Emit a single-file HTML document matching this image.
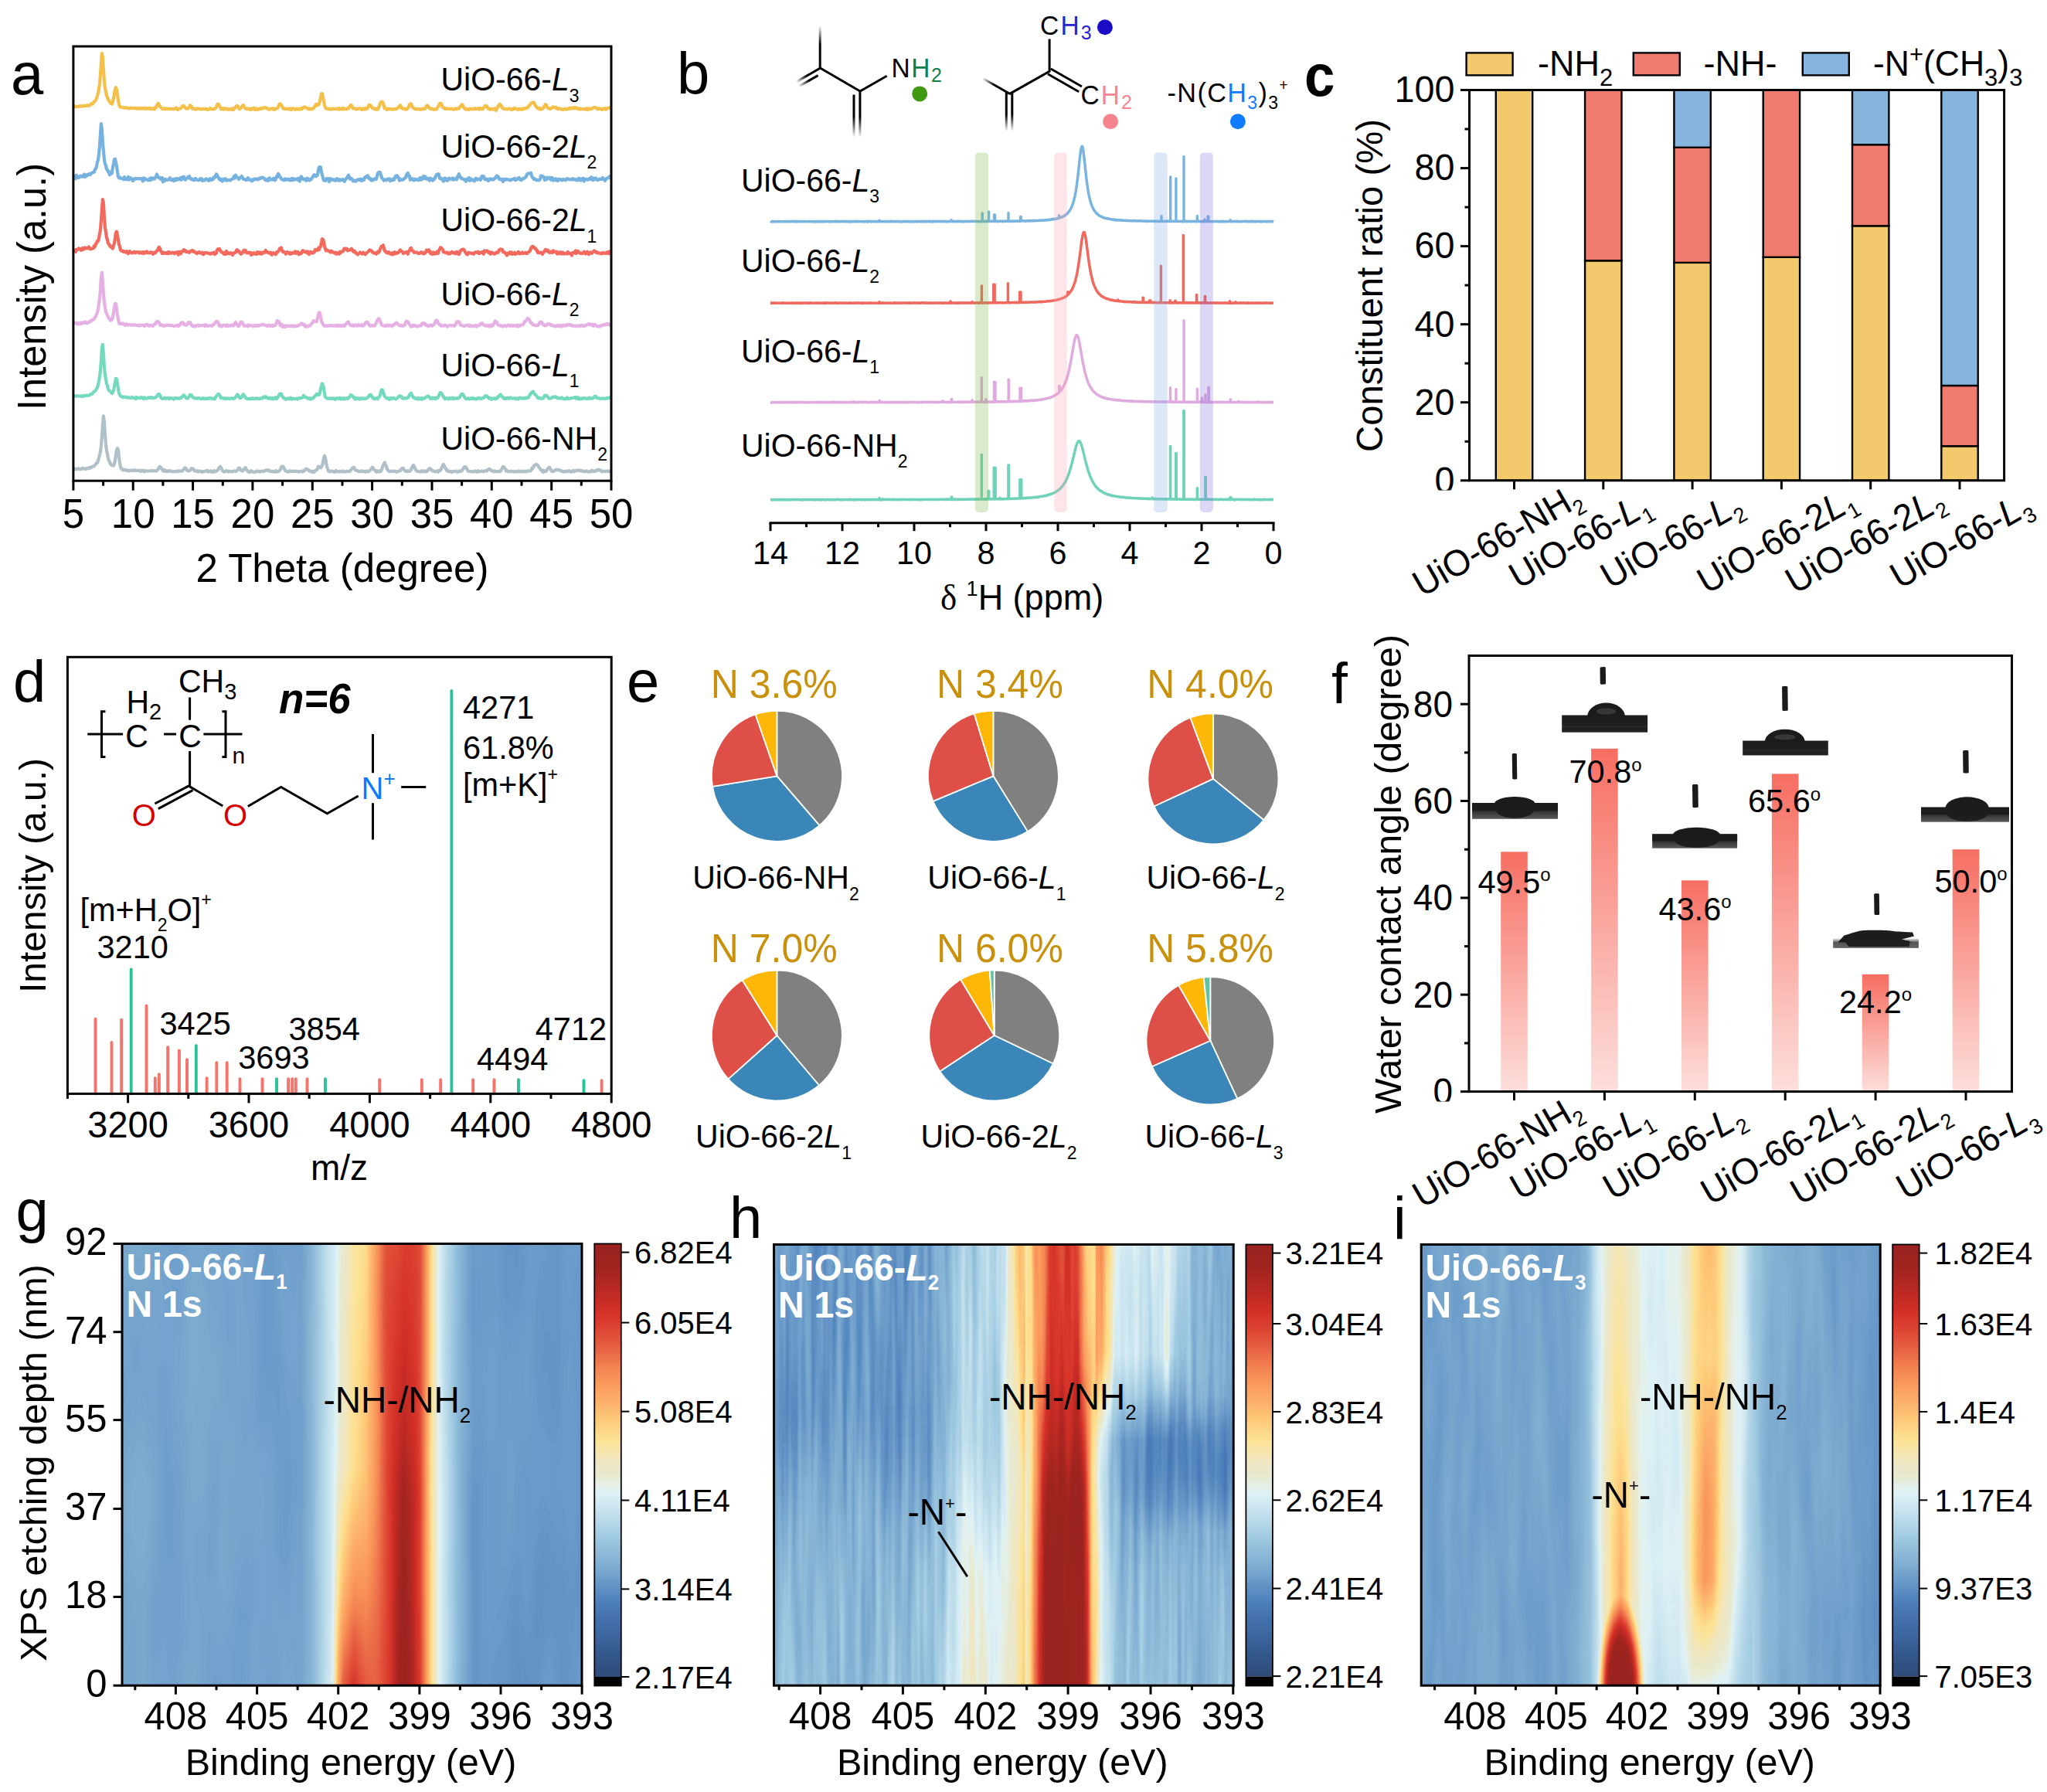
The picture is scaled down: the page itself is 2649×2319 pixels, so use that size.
<!DOCTYPE html>
<html><head><meta charset="utf-8"><title>Figure</title>
<style>html,body{margin:0;padding:0;background:#fff}svg{display:block}text{font-family:"Liberation Sans",sans-serif}</style>
</head><body>
<svg width="2649" height="2319" viewBox="0 0 2649 2319" font-family="Liberation Sans, sans-serif">
<rect width="2649" height="2319" fill="#fff"/>
<!-- panel_a -->
<clipPath id="clipA"><rect x="94.9" y="60" width="696.1" height="562.2"/></clipPath>
<g clip-path="url(#clipA)">
<path d="M92.9,137.6 93.9,137.3 94.9,137.7 95.9,138 96.9,137.2 97.9,138.3 98.9,138.2 99.9,138 100.9,138.2 101.9,137.4 102.9,137.6 103.9,137.2 104.9,137.5 105.9,137.8 106.9,137.2 107.9,137.2 108.9,137 109.9,136.8 110.9,136.7 111.9,136.9 112.9,136.1 113.9,136.6 114.9,137 115.9,136.2 116.9,135.3 117.9,134.5 118.9,134 119.9,134.5 120.9,132.9 121.9,131.5 122.9,130.6 123.9,129.9 124.9,126.9 125.9,124.5 126.9,120.9 127.9,115.7 128.9,108.3 129.9,97.9 130.9,82.5 131.9,69.2 132.9,74 133.9,90.5 134.9,103.7 135.9,112.9 136.9,118.1 137.9,123.3 138.9,126.1 139.9,128.1 140.9,130.3 141.9,131.6 142.9,133.3 143.9,134.3 144.9,134.7 145.9,131.5 146.9,127.5 147.9,121.7 148.9,115.6 149.9,113.1 150.9,115.6 151.9,121.3 152.9,129.4 153.9,135 154.9,137.3 155.9,138.7 156.9,138.6 157.9,138.8 158.9,139.1 159.9,139.3 160.9,139.3 161.9,139.4 162.9,139.1 163.9,139.7 164.9,139.6 165.9,140.2 166.9,140.3 167.9,139.9 168.9,139.6 169.9,139.6 170.9,140.1 171.9,140 172.9,139.8 173.9,140.1 174.9,139.8 175.9,140.5 176.9,139.9 177.9,140.8 178.9,140.4 179.9,140.5 180.9,139.7 181.9,140.4 182.9,140.7 183.9,139.9 184.9,140.2 185.9,140.4 186.9,139.7 187.9,140.6 188.9,140.9 189.9,140 190.9,140.6 191.9,139.8 192.9,140.5 193.9,139.7 194.9,141.1 195.9,140.7 196.9,140.5 197.9,140.2 198.9,141.2 199.9,141.4 200.9,138.9 201.9,139.3 202.9,137.6 203.9,135.1 204.9,133.8 205.9,135.9 206.9,137.4 207.9,138.9 208.9,139.6 209.9,140.8 210.9,141.1 211.9,140.4 212.9,141 213.9,140.2 214.9,141.1 215.9,140.8 216.9,140.6 217.9,140.7 218.9,141.2 219.9,141.1 220.9,141 221.9,140.8 222.9,140.8 223.9,141.1 224.9,140.9 225.9,141.1 226.9,140.6 227.9,139.6 228.9,141.3 229.9,141.9 230.9,141 231.9,140.7 232.9,140.5 233.9,140 234.9,139.2 235.9,137.5 236.9,137 237.9,137 238.9,138.6 239.9,139.4 240.9,140.6 241.9,140.4 242.9,140.7 243.9,139.5 244.9,139.3 245.9,136.3 246.9,136.8 247.9,138.4 248.9,140.5 249.9,140 250.9,140.7 251.9,140.7 252.9,141.5 253.9,140.7 254.9,141.2 255.9,140.7 256.9,140.3 257.9,141 258.9,141.1 259.9,141.5 260.9,140.8 261.9,140.6 262.9,141.2 263.9,141 264.9,141 265.9,140.9 266.9,141.5 267.9,141.1 268.9,141.9 269.9,141.5 270.9,141.2 271.9,140.1 272.9,141.2 273.9,141.1 274.9,141.3 275.9,141.4 276.9,140.6 277.9,140.9 278.9,139.4 279.9,139.1 280.9,135.7 281.9,134.5 282.9,135.1 283.9,137.1 284.9,138.6 285.9,141.2 286.9,140.6 287.9,140.2 288.9,141.5 289.9,140.6 290.9,140.3 291.9,141.4 292.9,141.3 293.9,140.7 294.9,141.6 295.9,141 296.9,141.7 297.9,141.2 298.9,141.7 299.9,141 300.9,140.3 301.9,142.1 302.9,140.5 303.9,140.2 304.9,138.7 305.9,137.4 306.9,136.9 307.9,137.8 308.9,139.6 309.9,141.2 310.9,140.5 311.9,139.4 312.9,138 313.9,136.8 314.9,136 315.9,138.5 316.9,139.4 317.9,140.4 318.9,140.9 319.9,140.3 320.9,140.5 321.9,141.3 322.9,141.3 323.9,140.7 324.9,141.9 325.9,140.3 326.9,140.8 327.9,140.9 328.9,139.6 329.9,141.9 330.9,141.1 331.9,140.4 332.9,142 333.9,141.3 334.9,141.2 335.9,140.6 336.9,140.9 337.9,139.9 338.9,140.7 339.9,139.7 340.9,139.5 341.9,139.7 342.9,139.2 343.9,139.5 344.9,140 345.9,140 346.9,141.1 347.9,141.6 348.9,141.3 349.9,141.4 350.9,140.5 351.9,140.5 352.9,140.3 353.9,141.6 354.9,140.8 355.9,141.7 356.9,140.5 357.9,140.4 358.9,140 359.9,138.9 360.9,136.3 361.9,134.6 362.9,134.3 363.9,135.9 364.9,137.4 365.9,139.7 366.9,140.5 367.9,140.8 368.9,141.2 369.9,140.6 370.9,140.9 371.9,140.8 372.9,141.2 373.9,141.4 374.9,140.5 375.9,141.3 376.9,142 377.9,140.3 378.9,140.6 379.9,140.5 380.9,140.8 381.9,141.8 382.9,141 383.9,140.6 384.9,141.3 385.9,140.7 386.9,141.5 387.9,141 388.9,141.3 389.9,139.9 390.9,141.1 391.9,139.4 392.9,138.9 393.9,138.5 394.9,138.6 395.9,139.1 396.9,140.1 397.9,140.2 398.9,141 399.9,140.5 400.9,141.3 401.9,141.4 402.9,140.6 403.9,141.3 404.9,140.2 405.9,140 406.9,138.3 407.9,137.2 408.9,134.9 409.9,135 410.9,136.2 411.9,135.7 412.9,134.3 413.9,131.2 414.9,125.8 415.9,121.4 416.9,121.2 417.9,125.4 418.9,130.2 419.9,135.8 420.9,138.8 421.9,140.3 422.9,140.7 423.9,140.9 424.9,141.2 425.9,140.4 426.9,141.5 427.9,141.4 428.9,140.9 429.9,141.4 430.9,140.6 431.9,140.7 432.9,141.1 433.9,140.9 434.9,140.8 435.9,140.7 436.9,140.7 437.9,141.5 438.9,140 439.9,141.2 440.9,140.9 441.9,141.3 442.9,141.2 443.9,139.6 444.9,141.3 445.9,141.1 446.9,141 447.9,140.7 448.9,141.3 449.9,140.3 450.9,140.5 451.9,138.4 452.9,137.8 453.9,135.9 454.9,136.2 455.9,138.9 456.9,140.3 457.9,140.6 458.9,140.1 459.9,140.7 460.9,141.3 461.9,140.9 462.9,140.9 463.9,140.9 464.9,140.5 465.9,140.7 466.9,140.3 467.9,141.9 468.9,140.8 469.9,141.2 470.9,140.5 471.9,141.4 472.9,140 473.9,141.2 474.9,140.2 475.9,140.1 476.9,136.7 477.9,135.9 478.9,135.9 479.9,137.5 480.9,138.4 481.9,140 482.9,139.6 483.9,140.5 484.9,141.2 485.9,141.5 486.9,140.8 487.9,141.9 488.9,141.5 489.9,139.7 490.9,136.8 491.9,134.3 492.9,132 493.9,131.6 494.9,132.1 495.9,133.6 496.9,137.4 497.9,140.3 498.9,140.3 499.9,140.5 500.9,142 501.9,141 502.9,140.8 503.9,141.2 504.9,141 505.9,140.8 506.9,141.6 507.9,141.5 508.9,141.4 509.9,140.9 510.9,141.5 511.9,140.9 512.9,140.9 513.9,140.7 514.9,139.5 515.9,138.6 516.9,137.1 517.9,136.3 518.9,137.7 519.9,140.2 520.9,140.3 521.9,141 522.9,140.5 523.9,141.5 524.9,140.8 525.9,141.6 526.9,140.2 527.9,140 528.9,138 529.9,135.1 530.9,134.7 531.9,134.2 532.9,136.2 533.9,139.1 534.9,139.8 535.9,140.4 536.9,140.8 537.9,140.5 538.9,141.5 539.9,141.3 540.9,141 541.9,140.9 542.9,141.2 543.9,141.9 544.9,141.4 545.9,140.7 546.9,141.4 547.9,140.8 548.9,140.5 549.9,140.9 550.9,138.7 551.9,137.6 552.9,136.5 553.9,137.3 554.9,139.4 555.9,139.8 556.9,140.9 557.9,140.4 558.9,140.6 559.9,141.3 560.9,141.7 561.9,141.3 562.9,141.6 563.9,141.7 564.9,141.1 565.9,139.4 566.9,138.3 567.9,136.5 568.9,134.1 569.9,133.8 570.9,133.8 571.9,136.3 572.9,139 573.9,139 574.9,140.1 575.9,140.9 576.9,140.1 577.9,141 578.9,140.6 579.9,140.9 580.9,140.9 581.9,141.1 582.9,140.7 583.9,141 584.9,140.7 585.9,141.3 586.9,141.8 587.9,141.1 588.9,141.1 589.9,140.4 590.9,141.3 591.9,140.5 592.9,140.2 593.9,140.3 594.9,138.9 595.9,137.7 596.9,136.4 597.9,135.1 598.9,136.4 599.9,138.9 600.9,140 601.9,140.8 602.9,141.5 603.9,140.7 604.9,141.3 605.9,141.7 606.9,141.8 607.9,140.6 608.9,140.9 609.9,141.2 610.9,140.9 611.9,140.8 612.9,141.3 613.9,140.8 614.9,140.1 615.9,141.2 616.9,140.8 617.9,140.6 618.9,140.2 619.9,141.5 620.9,139.9 621.9,140.1 622.9,140.8 623.9,141.4 624.9,141.1 625.9,139.1 626.9,138.4 627.9,136.8 628.9,137.8 629.9,137.4 630.9,139.2 631.9,140.8 632.9,140.6 633.9,141.7 634.9,140.6 635.9,141.2 636.9,141.4 637.9,140.9 638.9,141.7 639.9,141.3 640.9,140.1 641.9,142.8 642.9,140.7 643.9,139.4 644.9,137.1 645.9,136.1 646.9,134.8 647.9,135.7 648.9,137.1 649.9,139.6 650.9,140 651.9,140.9 652.9,141.1 653.9,140.9 654.9,140.9 655.9,141.5 656.9,141.4 657.9,140.7 658.9,140.4 659.9,141 660.9,141.6 661.9,141 662.9,141.9 663.9,140.6 664.9,141.1 665.9,139.8 666.9,140.7 667.9,140.8 668.9,141.2 669.9,141.8 670.9,141 671.9,141.7 672.9,141.3 673.9,141.5 674.9,140.8 675.9,141.7 676.9,140.4 677.9,141.2 678.9,140.4 679.9,140.5 680.9,139.7 681.9,139.7 682.9,139.3 683.9,138 684.9,136 685.9,135.9 686.9,133.9 687.9,133.2 688.9,132.7 689.9,132.4 690.9,132.7 691.9,134.7 692.9,137.3 693.9,137.5 694.9,139.6 695.9,139.6 696.9,140.6 697.9,139.8 698.9,141.5 699.9,140.9 700.9,141.3 701.9,140.6 702.9,140 703.9,138.1 704.9,136.9 705.9,135.1 706.9,135.9 707.9,138.4 708.9,139.5 709.9,140.3 710.9,140.7 711.9,140.9 712.9,140 713.9,140 714.9,138.6 715.9,138.3 716.9,138.8 717.9,139.1 718.9,138.7 719.9,140.3 720.9,139.9 721.9,141.1 722.9,140 723.9,140.4 724.9,140.7 725.9,140.9 726.9,141.7 727.9,141.4 728.9,141.8 729.9,141.6 730.9,140.9 731.9,140.9 732.9,141.5 733.9,141 734.9,140.9 735.9,140.3 736.9,140.9 737.9,139.5 738.9,140.4 739.9,139.9 740.9,140.3 741.9,139.3 742.9,139.2 743.9,140.2 744.9,139.3 745.9,140.4 746.9,139.7 747.9,140.9 748.9,141.1 749.9,141.4 750.9,140.5 751.9,141.2 752.9,141.2 753.9,141 754.9,141.1 755.9,141.2 756.9,141.2 757.9,140.5 758.9,140.4 759.9,142.2 760.9,141.9 761.9,140.3 762.9,141.2 763.9,141.2 764.9,141.1 765.9,140.5 766.9,139.5 767.9,139.4 768.9,139 769.9,139.3 770.9,139.4 771.9,139.9 772.9,140.9 773.9,141.3 774.9,140.3 775.9,140.7 776.9,140.6 777.9,141.6 778.9,141 779.9,141.7 780.9,140.8 781.9,141 782.9,140.3 783.9,141.6 784.9,140.7 785.9,140 786.9,140.3 787.9,139.1 788.9,139.8 789.9,139.5 790.9,139.2 791.9,139.5 792.9,138.6" fill="none" stroke="#f5c04a" stroke-width="4.2" stroke-linejoin="round" />
<path d="M92.9,228.5 93.9,227.9 94.9,227.7 95.9,228.9 96.9,228.8 97.9,231.2 98.9,226.6 99.9,229 100.9,229.2 101.9,230 102.9,229.1 103.9,227.6 104.9,228.2 105.9,228.6 106.9,227.6 107.9,228.4 108.9,225.6 109.9,228.9 110.9,228.4 111.9,226.4 112.9,227.1 113.9,226.2 114.9,225.1 115.9,225.6 116.9,226.1 117.9,224.3 118.9,223.7 119.9,223.3 120.9,222.9 121.9,222.6 122.9,219.2 123.9,218.4 124.9,215.6 125.9,210.2 126.9,206.8 127.9,200.1 128.9,189.5 129.9,174.6 130.9,160 131.9,168.2 132.9,183.5 133.9,195.5 134.9,205.8 135.9,211.7 136.9,214.3 137.9,218.8 138.9,219.8 139.9,222.1 140.9,222.3 141.9,226.1 142.9,222.6 143.9,225 144.9,224 145.9,217 146.9,212.4 147.9,206.6 148.9,205.7 149.9,209.8 150.9,215.2 151.9,221.1 152.9,228.2 153.9,230.3 154.9,229.5 155.9,230.6 156.9,230.8 157.9,231.1 158.9,230.9 159.9,232.2 160.9,229.1 161.9,232 162.9,231.4 163.9,230.9 164.9,232.3 165.9,228.9 166.9,232.4 167.9,231.7 168.9,230.3 169.9,231.9 170.9,231.2 171.9,234.1 172.9,233.4 173.9,232 174.9,230.9 175.9,231.1 176.9,231.4 177.9,231.2 178.9,230.9 179.9,231.2 180.9,231.5 181.9,231.3 182.9,231.2 183.9,230.9 184.9,234.4 185.9,230.4 186.9,230.9 187.9,232.4 188.9,231.6 189.9,232.4 190.9,232.8 191.9,233.3 192.9,232.8 193.9,231 194.9,233.1 195.9,230.3 196.9,231.9 197.9,231.5 198.9,230.7 199.9,231.6 200.9,229.5 201.9,229 202.9,225.5 203.9,228.1 204.9,229.2 205.9,230.4 206.9,230 207.9,231.7 208.9,230.6 209.9,230.1 210.9,235.5 211.9,233.2 212.9,234 213.9,231.8 214.9,232.9 215.9,232.9 216.9,232.8 217.9,232.3 218.9,232 219.9,230.2 220.9,232.9 221.9,232.7 222.9,233.4 223.9,232 224.9,234 225.9,231.9 226.9,231.1 227.9,233.2 228.9,231.8 229.9,231 230.9,232.3 231.9,232.5 232.9,231.1 233.9,230.1 234.9,232.7 235.9,229.3 236.9,230.9 237.9,228.7 238.9,231.9 239.9,232.7 240.9,231.5 241.9,230.3 242.9,230.4 243.9,228.6 244.9,228 245.9,230.4 246.9,231.8 247.9,231.8 248.9,231.6 249.9,232.8 250.9,233.2 251.9,233 252.9,230.9 253.9,232.1 254.9,232.7 255.9,233 256.9,233.3 257.9,233.1 258.9,231.3 259.9,231.7 260.9,231.2 261.9,234.2 262.9,232.6 263.9,233 264.9,233.4 265.9,232.1 266.9,231.3 267.9,232 268.9,232.3 269.9,233.9 270.9,233.3 271.9,231.3 272.9,233.1 273.9,233.1 274.9,231.3 275.9,231.9 276.9,229.3 277.9,229.9 278.9,227.5 279.9,225.4 280.9,226.5 281.9,229.1 282.9,230.1 283.9,232 284.9,232.8 285.9,231.6 286.9,232.1 287.9,234.6 288.9,232.6 289.9,231.6 290.9,232.5 291.9,231.1 292.9,233.6 293.9,232.8 294.9,233.5 295.9,233.3 296.9,232.8 297.9,233.4 298.9,232.6 299.9,231.8 300.9,231.2 301.9,231.2 302.9,227.8 303.9,230.6 304.9,226.6 305.9,229.3 306.9,229.6 307.9,229.9 308.9,231.9 309.9,231 310.9,229.7 311.9,229.1 312.9,228 313.9,230.3 314.9,231.9 315.9,231.8 316.9,232.1 317.9,233 318.9,232.5 319.9,232.6 320.9,230.1 321.9,232.5 322.9,232.8 323.9,232.3 324.9,232.8 325.9,234.4 326.9,232.5 327.9,233.1 328.9,231.6 329.9,231.6 330.9,232 331.9,231.5 332.9,232.4 333.9,231.5 334.9,232.1 335.9,230.6 336.9,230 337.9,230.5 338.9,229.7 339.9,229.8 340.9,230 341.9,230.7 342.9,232.6 343.9,233.3 344.9,233 345.9,232 346.9,233.9 347.9,231 348.9,230.5 349.9,232.7 350.9,232.5 351.9,232.3 352.9,232.5 353.9,230.8 354.9,231.2 355.9,233.2 356.9,231.9 357.9,228.4 358.9,229 359.9,224.9 360.9,226 361.9,228.8 362.9,229.3 363.9,231.2 364.9,232.1 365.9,232 366.9,233.3 367.9,233.1 368.9,231.4 369.9,231.8 370.9,232.7 371.9,232.4 372.9,231.7 373.9,232.9 374.9,233.3 375.9,231.9 376.9,233.3 377.9,230.9 378.9,230.9 379.9,233 380.9,231.7 381.9,231.5 382.9,232.2 383.9,231.8 384.9,232.7 385.9,230.8 386.9,231.6 387.9,234.6 388.9,230.9 389.9,228.4 390.9,230.8 391.9,231 392.9,232.3 393.9,231.7 394.9,231.4 395.9,233.7 396.9,233.1 397.9,230.7 398.9,233.2 399.9,232.2 400.9,233.4 401.9,231.6 402.9,232 403.9,230.2 404.9,229 405.9,227.1 406.9,226.1 407.9,226.8 408.9,228.1 409.9,227.6 410.9,226.4 411.9,220.8 412.9,216.4 413.9,216 414.9,216.3 415.9,221.9 416.9,226 417.9,230.1 418.9,233.3 419.9,232.6 420.9,233.9 421.9,231.4 422.9,231.1 423.9,232.8 424.9,231.1 425.9,235.1 426.9,233.7 427.9,231.3 428.9,232.3 429.9,231.9 430.9,232.9 431.9,232.4 432.9,233.4 433.9,233.9 434.9,232.3 435.9,231.3 436.9,233 437.9,232.3 438.9,233.6 439.9,232.3 440.9,233.3 441.9,232.8 442.9,232.3 443.9,232 444.9,233.2 445.9,234.8 446.9,232.8 447.9,231 448.9,230.5 449.9,228.6 450.9,226.7 451.9,229.1 452.9,231.7 453.9,231.1 454.9,231 455.9,232.9 456.9,234.3 457.9,233.4 458.9,233.5 459.9,234.8 460.9,234.1 461.9,233.2 462.9,232.3 463.9,232.6 464.9,232.4 465.9,233.3 466.9,231.6 467.9,234 468.9,232.6 469.9,232 470.9,233 471.9,229.6 472.9,229.7 473.9,228.3 474.9,228.6 475.9,227.3 476.9,230.4 477.9,230.1 478.9,232.2 479.9,231.5 480.9,233.6 481.9,232.2 482.9,233 483.9,232 484.9,231.3 485.9,231.7 486.9,232 487.9,227.8 488.9,224.4 489.9,223 490.9,223.3 491.9,223 492.9,226.3 493.9,229.8 494.9,231 495.9,232.4 496.9,233.6 497.9,232.5 498.9,232.4 499.9,233.3 500.9,232.4 501.9,231.5 502.9,231.5 503.9,231.4 504.9,234.4 505.9,232.4 506.9,233.1 507.9,233.2 508.9,231.4 509.9,232.7 510.9,230.7 511.9,228 512.9,228.6 513.9,227.3 514.9,228.7 515.9,230.7 516.9,233.7 517.9,231.6 518.9,232.2 519.9,232.8 520.9,232.7 521.9,232.3 522.9,231.1 523.9,230.6 524.9,229.9 525.9,226.7 526.9,225.1 527.9,224.1 528.9,227.8 529.9,227.5 530.9,232.8 531.9,231.4 532.9,231.3 533.9,231.3 534.9,233.3 535.9,233.5 536.9,231.7 537.9,232.8 538.9,232.3 539.9,232.3 540.9,232.6 541.9,233.2 542.9,230.6 543.9,230.2 544.9,232.5 545.9,231.7 546.9,231.6 547.9,228.1 548.9,228.2 549.9,230.9 550.9,229 551.9,231.7 552.9,231.3 553.9,232 554.9,231.1 555.9,233.7 556.9,230.6 557.9,231.3 558.9,231.6 559.9,233.6 560.9,232.5 561.9,232.2 562.9,230.1 563.9,228.1 564.9,226 565.9,225.8 566.9,225.1 567.9,225.5 568.9,230.5 569.9,231.2 570.9,230.9 571.9,232.2 572.9,231.5 573.9,234.6 574.9,232.2 575.9,230.5 576.9,232.8 577.9,231.7 578.9,233.8 579.9,232.6 580.9,230.7 581.9,232 582.9,231.4 583.9,231.7 584.9,231.9 585.9,230.5 586.9,232.7 587.9,231.6 588.9,231.3 589.9,232.4 590.9,232.4 591.9,228.4 592.9,229.4 593.9,225.1 594.9,228.5 595.9,228.9 596.9,230.8 597.9,230.9 598.9,231.7 599.9,232.1 600.9,232.1 601.9,232.9 602.9,234.8 603.9,231.9 604.9,232.3 605.9,230.8 606.9,230 607.9,233.9 608.9,231.2 609.9,231.8 610.9,232.5 611.9,233.4 612.9,232.8 613.9,234.3 614.9,232.3 615.9,230.7 616.9,232.6 617.9,232.6 618.9,231.6 619.9,232 620.9,231.4 621.9,233 622.9,229.6 623.9,227.9 624.9,229.4 625.9,228.1 626.9,231.4 627.9,232.3 628.9,231.5 629.9,231.9 630.9,231.9 631.9,234.1 632.9,232.9 633.9,231.3 634.9,231.3 635.9,232.4 636.9,232.4 637.9,231.5 638.9,232.2 639.9,230.8 640.9,230.7 641.9,228.7 642.9,227.5 643.9,228.3 644.9,228.6 645.9,231.7 646.9,232.2 647.9,231.8 648.9,232.5 649.9,232 650.9,235 651.9,232 652.9,233 653.9,232.9 654.9,231.7 655.9,232.5 656.9,232.2 657.9,232.7 658.9,232.7 659.9,233.3 660.9,233.3 661.9,232.1 662.9,232 663.9,231.9 664.9,231.6 665.9,230.8 666.9,233.1 667.9,232.4 668.9,232.3 669.9,230.9 670.9,231 671.9,230 672.9,232.4 673.9,233.1 674.9,232.9 675.9,232.1 676.9,230.7 677.9,231.2 678.9,230.3 679.9,229.7 680.9,228.3 681.9,225.8 682.9,224.7 683.9,224.7 684.9,224.4 685.9,224.4 686.9,223.7 687.9,226.6 688.9,229.6 689.9,230.2 690.9,232 691.9,231.4 692.9,232.2 693.9,233.1 694.9,233.1 695.9,232.8 696.9,233.3 697.9,233.1 698.9,232.1 699.9,227.6 700.9,227.7 701.9,227.9 702.9,228.9 703.9,229.1 704.9,233 705.9,231.2 706.9,232.4 707.9,229.7 708.9,231.2 709.9,230.8 710.9,229.6 711.9,231 712.9,232.7 713.9,229.9 714.9,230.5 715.9,233.6 716.9,232.8 717.9,232.1 718.9,231.2 719.9,233.2 720.9,232.7 721.9,234 722.9,231.6 723.9,232.3 724.9,232.2 725.9,232.3 726.9,233.5 727.9,233.3 728.9,231.9 729.9,232.4 730.9,232.3 731.9,233.3 732.9,232.2 733.9,231.1 734.9,231.6 735.9,231.6 736.9,232.2 737.9,232.3 738.9,232.3 739.9,231.7 740.9,231.2 741.9,232.6 742.9,232.1 743.9,231.8 744.9,232.8 745.9,232.9 746.9,233.4 747.9,231.6 748.9,230.8 749.9,233 750.9,231.5 751.9,233.5 752.9,231.4 753.9,231.9 754.9,230.7 755.9,234.5 756.9,232 757.9,232.4 758.9,231.9 759.9,232 760.9,232.7 761.9,231.6 762.9,231 763.9,231.9 764.9,229.3 765.9,232.1 766.9,233 767.9,230.5 768.9,232.5 769.9,231.1 770.9,230.4 771.9,231.6 772.9,233 773.9,233.2 774.9,232.1 775.9,231.6 776.9,232 777.9,231.8 778.9,231.8 779.9,230 780.9,232 781.9,231.9 782.9,233.9 783.9,232 784.9,230.8 785.9,230.6 786.9,230.6 787.9,229.5 788.9,228.2 789.9,229.5 790.9,229.9 791.9,229.9 792.9,228.6" fill="none" stroke="#76b2e0" stroke-width="4.2" stroke-linejoin="round" />
<path d="M92.9,324.7 93.9,324 94.9,323.5 95.9,324 96.9,324.8 97.9,325.9 98.9,322.9 99.9,323.3 100.9,323 101.9,321.4 102.9,322.5 103.9,322.2 104.9,323.9 105.9,322.6 106.9,321 107.9,322.8 108.9,321.8 109.9,320.4 110.9,321.3 111.9,321.2 112.9,320.9 113.9,321.6 114.9,319.5 115.9,321.2 116.9,322.3 117.9,321.9 118.9,321.9 119.9,321.5 120.9,321.3 121.9,318.2 122.9,319.1 123.9,315.5 124.9,315.1 125.9,311.9 126.9,312 127.9,308.9 128.9,302.8 129.9,297.6 130.9,284.8 131.9,270.4 132.9,258.1 133.9,262.8 134.9,280 135.9,294 136.9,299.7 137.9,307 138.9,310 139.9,314.7 140.9,315.8 141.9,317.7 142.9,319.1 143.9,319.9 144.9,319.1 145.9,321.6 146.9,317.5 147.9,314.9 148.9,308.9 149.9,301.3 150.9,299.7 151.9,303.8 152.9,309.6 153.9,315.9 154.9,318.9 155.9,323.1 156.9,324.4 157.9,324.8 158.9,324.6 159.9,325.9 160.9,325.2 161.9,325.7 162.9,326.5 163.9,325.2 164.9,325.8 165.9,328.1 166.9,327 167.9,325.1 168.9,326.2 169.9,326.9 170.9,327.5 171.9,326.6 172.9,326 173.9,325.9 174.9,327.2 175.9,326.9 176.9,326.2 177.9,326.5 178.9,326.3 179.9,327.4 180.9,326.1 181.9,327.2 182.9,327.6 183.9,327.3 184.9,326.1 185.9,328.1 186.9,326.3 187.9,327.3 188.9,326.3 189.9,325.4 190.9,327.2 191.9,327.2 192.9,326.9 193.9,327.3 194.9,326.4 195.9,326.4 196.9,326.9 197.9,328.8 198.9,327.8 199.9,326.6 200.9,327.4 201.9,325.9 202.9,324.7 203.9,324.1 204.9,321.2 205.9,319.7 206.9,321.6 207.9,324.4 208.9,326 209.9,327.9 210.9,326.4 211.9,327.8 212.9,327.6 213.9,327.1 214.9,328 215.9,327.7 216.9,326.5 217.9,328.2 218.9,326.2 219.9,327.3 220.9,327.3 221.9,327.7 222.9,326.6 223.9,327.2 224.9,327.2 225.9,328.2 226.9,326.6 227.9,327.4 228.9,327.1 229.9,326.1 230.9,329.7 231.9,327.2 232.9,325.9 233.9,328.3 234.9,325.6 235.9,325.9 236.9,325.2 237.9,323.1 238.9,323.6 239.9,324.5 240.9,326 241.9,325.4 242.9,325.9 243.9,326.6 244.9,326.8 245.9,325.2 246.9,325.2 247.9,324.3 248.9,324.1 249.9,325.7 250.9,324.9 251.9,326.3 252.9,326.4 253.9,327.6 254.9,328 255.9,326.9 256.9,326.9 257.9,326 258.9,327.3 259.9,327.6 260.9,327.8 261.9,326.7 262.9,329.2 263.9,328.5 264.9,327.3 265.9,326.9 266.9,327.1 267.9,327.5 268.9,327.4 269.9,327.9 270.9,328.1 271.9,328.6 272.9,328.5 273.9,327.3 274.9,327.8 275.9,327.1 276.9,326.9 277.9,329 278.9,326.5 279.9,327.7 280.9,323.8 281.9,322.4 282.9,322.2 283.9,321.9 284.9,324.1 285.9,325.4 286.9,326.3 287.9,327.1 288.9,326.8 289.9,328.9 290.9,327.3 291.9,329 292.9,325 293.9,327.5 294.9,328 295.9,327.2 296.9,328.4 297.9,328 298.9,327.2 299.9,327.8 300.9,330 301.9,327.7 302.9,327.7 303.9,326.8 304.9,326.7 305.9,324 306.9,323.3 307.9,325 308.9,324.9 309.9,326.2 310.9,327.8 311.9,328.8 312.9,327 313.9,327 314.9,324.7 315.9,323.8 316.9,326.4 317.9,324.2 318.9,326.6 319.9,327.6 320.9,326.6 321.9,327.3 322.9,326.9 323.9,326.9 324.9,329.9 325.9,328 326.9,327.4 327.9,328.6 328.9,327.3 329.9,328.3 330.9,327.8 331.9,328.9 332.9,326.2 333.9,328.2 334.9,327.6 335.9,326.4 336.9,328.4 337.9,326.6 338.9,328.6 339.9,327.3 340.9,327.1 341.9,326 342.9,326.5 343.9,324 344.9,326.1 345.9,325.9 346.9,327.2 347.9,327.2 348.9,327.9 349.9,326.7 350.9,329.1 351.9,329.6 352.9,327.3 353.9,327.5 354.9,327.7 355.9,328.6 356.9,329.2 357.9,326.3 358.9,326.6 359.9,325.5 360.9,324.1 361.9,321.7 362.9,321.9 363.9,320.5 364.9,324.3 365.9,325.8 366.9,325.5 367.9,326.2 368.9,326.8 369.9,328.7 370.9,326.7 371.9,326.1 372.9,327.4 373.9,327.8 374.9,326.9 375.9,328.9 376.9,327.7 377.9,327.9 378.9,326.7 379.9,327.4 380.9,327.3 381.9,325.4 382.9,327.7 383.9,325.9 384.9,327.5 385.9,326.2 386.9,329.3 387.9,327.7 388.9,328.1 389.9,327.9 390.9,325.5 391.9,324.1 392.9,325.2 393.9,326 394.9,325.3 395.9,326.3 396.9,327 397.9,325.4 398.9,327.4 399.9,329.1 400.9,326.9 401.9,325.6 402.9,327.3 403.9,327 404.9,327.6 405.9,326 406.9,326.1 407.9,322.9 408.9,324.3 409.9,323.9 410.9,323.4 411.9,321.3 412.9,323.3 413.9,319.5 414.9,319.3 415.9,314.2 416.9,309.2 417.9,309.6 418.9,312.5 419.9,318.3 420.9,321.9 421.9,324.4 422.9,323.4 423.9,324.1 424.9,324.6 425.9,325.3 426.9,325.1 427.9,326.6 428.9,324.8 429.9,325.8 430.9,326.6 431.9,326.5 432.9,327.4 433.9,326.7 434.9,328.6 435.9,327.1 436.9,328.4 437.9,327.4 438.9,328.6 439.9,325.8 440.9,327.1 441.9,325.7 442.9,325.5 443.9,325.4 444.9,322.3 445.9,321.5 446.9,321.6 447.9,323 448.9,321.8 449.9,324.4 450.9,323.6 451.9,323.6 452.9,323.4 453.9,323 454.9,321.8 455.9,323 456.9,325 457.9,326.1 458.9,324.7 459.9,327 460.9,327.5 461.9,328.5 462.9,329.3 463.9,328.1 464.9,327.6 465.9,326.6 466.9,327.6 467.9,328.2 468.9,328.6 469.9,326.7 470.9,327.7 471.9,328.2 472.9,329.2 473.9,327.7 474.9,326.8 475.9,326.1 476.9,325.4 477.9,323.7 478.9,323.8 479.9,324 480.9,324.8 481.9,326.6 482.9,326.3 483.9,327.6 484.9,327.1 485.9,327.5 486.9,328.6 487.9,327.4 488.9,325.7 489.9,326.8 490.9,325.4 491.9,322.6 492.9,320.2 493.9,318.8 494.9,318.1 495.9,317.3 496.9,321.6 497.9,324.9 498.9,324.9 499.9,326.9 500.9,327.3 501.9,327.6 502.9,326.1 503.9,327.2 504.9,328.4 505.9,328.6 506.9,329.1 507.9,327.2 508.9,329.2 509.9,328.1 510.9,326.3 511.9,328.2 512.9,327.1 513.9,327.7 514.9,326.5 515.9,326.7 516.9,324.6 517.9,323.4 518.9,324.8 519.9,325.2 520.9,325.8 521.9,328.1 522.9,327 523.9,326.9 524.9,327 525.9,326.1 526.9,326.9 527.9,328.7 528.9,325.2 529.9,324.4 530.9,321.5 531.9,320.9 532.9,323.4 533.9,324.6 534.9,325.1 535.9,326.8 536.9,326.5 537.9,326.7 538.9,326.7 539.9,326.7 540.9,327.8 541.9,328 542.9,327.9 543.9,327.3 544.9,326.3 545.9,327.4 546.9,326.7 547.9,328.3 548.9,327.9 549.9,327.8 550.9,326.1 551.9,323.7 552.9,325.3 553.9,325.2 554.9,323.4 555.9,325.9 556.9,327.8 557.9,326.3 558.9,329 559.9,327.2 560.9,326.5 561.9,328.7 562.9,327.8 563.9,326.9 564.9,328.2 565.9,325.3 566.9,327.9 567.9,324 568.9,322.9 569.9,320.4 570.9,320.6 571.9,322.1 572.9,322.7 573.9,326.1 574.9,326.4 575.9,326.6 576.9,327.2 577.9,326.6 578.9,326.8 579.9,328.3 580.9,327.4 581.9,328.5 582.9,327.9 583.9,326.6 584.9,325.8 585.9,326.9 586.9,327.7 587.9,327.5 588.9,326.7 589.9,328.4 590.9,325.9 591.9,326.3 592.9,327.5 593.9,329.1 594.9,326.8 595.9,324.2 596.9,324 597.9,322.8 598.9,322.8 599.9,322.6 600.9,323.9 601.9,326.2 602.9,327.3 603.9,328.8 604.9,329.3 605.9,326.8 606.9,327 607.9,327.4 608.9,327.3 609.9,327.9 610.9,327.9 611.9,327.7 612.9,328.7 613.9,327.4 614.9,326.5 615.9,326.1 616.9,326.6 617.9,326.6 618.9,325.8 619.9,328.1 620.9,327.7 621.9,327.1 622.9,326.7 623.9,326 624.9,326.5 625.9,328.7 626.9,324.3 627.9,325.4 628.9,325.1 629.9,324.5 630.9,324.8 631.9,326.8 632.9,325.9 633.9,327.8 634.9,328.7 635.9,326.5 636.9,326.8 637.9,327.6 638.9,328.4 639.9,328.7 640.9,328.1 641.9,326.8 642.9,326.3 643.9,327.1 644.9,326.3 645.9,323.4 646.9,322.9 647.9,322.3 648.9,323.4 649.9,323 650.9,326 651.9,325.6 652.9,326.8 653.9,327.3 654.9,328.8 655.9,330.5 656.9,327.7 657.9,327.9 658.9,328.4 659.9,326.3 660.9,328.2 661.9,326.4 662.9,329 663.9,328.8 664.9,327.9 665.9,326.8 666.9,329 667.9,327.7 668.9,327.6 669.9,328 670.9,326 671.9,327.9 672.9,328.4 673.9,327.8 674.9,327.6 675.9,326.6 676.9,328.1 677.9,327.7 678.9,327.5 679.9,326.9 680.9,328 681.9,328.1 682.9,326.8 683.9,326.4 684.9,325.7 685.9,324.5 686.9,321.8 687.9,320 688.9,318.9 689.9,319 690.9,319.9 691.9,321.2 692.9,321.4 693.9,323.5 694.9,323.8 695.9,326.9 696.9,326.2 697.9,327.3 698.9,326.6 699.9,327.1 700.9,326.8 701.9,328.9 702.9,327.3 703.9,326.1 704.9,324.1 705.9,323 706.9,323.5 707.9,325.2 708.9,323.8 709.9,325.5 710.9,326.9 711.9,326.7 712.9,325.7 713.9,326.9 714.9,327 715.9,324.3 716.9,325.4 717.9,326 718.9,326.3 719.9,325.6 720.9,328.6 721.9,327.5 722.9,326.6 723.9,328.3 724.9,326.5 725.9,328.3 726.9,326.4 727.9,328.2 728.9,327 729.9,328.5 730.9,328.2 731.9,327.9 732.9,327.5 733.9,328.5 734.9,325.9 735.9,327.9 736.9,327.9 737.9,328 738.9,328.1 739.9,330.5 740.9,327 741.9,327.2 742.9,326.3 743.9,327.4 744.9,324.3 745.9,327.9 746.9,326.2 747.9,325.1 748.9,326.4 749.9,327.3 750.9,327.7 751.9,327.5 752.9,328.2 753.9,327.5 754.9,327.4 755.9,325.6 756.9,327.9 757.9,328.4 758.9,327.1 759.9,325.8 760.9,326.3 761.9,329 762.9,326.9 763.9,326.9 764.9,326.6 765.9,327.8 766.9,326.3 767.9,325.6 768.9,324.6 769.9,325.6 770.9,326.6 771.9,325.9 772.9,327.3 773.9,327.1 774.9,327.4 775.9,327.6 776.9,327.5 777.9,328.4 778.9,327.9 779.9,327 780.9,327.6 781.9,327.4 782.9,327.9 783.9,327.6 784.9,327.8 785.9,326.1 786.9,327.6 787.9,328.2 788.9,325.5 789.9,327.8 790.9,326.2 791.9,325.3 792.9,323.6" fill="none" stroke="#f4695e" stroke-width="4.2" stroke-linejoin="round" />
<path d="M92.9,417.8 93.9,419 94.9,418.6 95.9,418.3 96.9,417.7 97.9,418.3 98.9,418.4 99.9,417.6 100.9,419.5 101.9,418.5 102.9,419.1 103.9,417.6 104.9,419 105.9,417.4 106.9,417.7 107.9,418.2 108.9,417.9 109.9,416.4 110.9,417 111.9,417.9 112.9,418.3 113.9,417.5 114.9,416.5 115.9,416.8 116.9,415.3 117.9,415.7 118.9,414.1 119.9,414.1 120.9,413.2 121.9,412.6 122.9,410.6 123.9,409.7 124.9,406.8 125.9,404.5 126.9,400.6 127.9,393.8 128.9,386.7 129.9,374.4 130.9,358.3 131.9,352.6 132.9,363.7 133.9,379.9 134.9,390.5 135.9,397.4 136.9,403.4 137.9,405.7 138.9,408.2 139.9,409.8 140.9,412 141.9,412.5 142.9,414.7 143.9,414 144.9,413.5 145.9,411.3 146.9,404.9 147.9,397.2 148.9,393 149.9,393 150.9,399.6 151.9,407.1 152.9,412.9 153.9,417.2 154.9,419.1 155.9,419 156.9,418.8 157.9,419.2 158.9,418.4 159.9,419.4 160.9,419.3 161.9,421 162.9,419.7 163.9,419.3 164.9,420.6 165.9,420.1 166.9,420.3 167.9,420.4 168.9,420.5 169.9,420.2 170.9,421 171.9,420.8 172.9,420.3 173.9,420.5 174.9,420.1 175.9,420.8 176.9,421.1 177.9,421.1 178.9,421.1 179.9,420.7 180.9,421.6 181.9,420.7 182.9,420.9 183.9,420.7 184.9,420.9 185.9,420.8 186.9,422 187.9,421.2 188.9,420 189.9,420.7 190.9,420.2 191.9,421.5 192.9,421.8 193.9,420.8 194.9,421.4 195.9,420.9 196.9,421.3 197.9,422 198.9,420.7 199.9,419.6 200.9,419.4 201.9,417.5 202.9,416.1 203.9,416.1 204.9,416.4 205.9,417.5 206.9,420.6 207.9,420.6 208.9,420.4 209.9,420.6 210.9,421.8 211.9,421.3 212.9,421.4 213.9,421.7 214.9,420.9 215.9,420.6 216.9,420.8 217.9,420.7 218.9,421.1 219.9,420.8 220.9,421.3 221.9,421 222.9,421.2 223.9,421.6 224.9,422 225.9,422.1 226.9,421.4 227.9,421.4 228.9,421 229.9,421.8 230.9,422 231.9,420.5 232.9,420.4 233.9,418.5 234.9,417.4 235.9,417.3 236.9,417.8 237.9,419.8 238.9,419.6 239.9,420.5 240.9,420.8 241.9,419.7 242.9,419.3 243.9,417.1 244.9,417.4 245.9,417.2 246.9,419.1 247.9,420.6 248.9,422.2 249.9,421.9 250.9,422.2 251.9,421.4 252.9,422.5 253.9,421.3 254.9,421.3 255.9,420.7 256.9,421.5 257.9,422 258.9,421.1 259.9,421.2 260.9,421.2 261.9,421.2 262.9,421.1 263.9,420.7 264.9,422.2 265.9,420.3 266.9,420.9 267.9,421.6 268.9,422 269.9,421.3 270.9,421.3 271.9,421.4 272.9,421.3 273.9,421.9 274.9,421 275.9,420.4 276.9,419.8 277.9,418.6 278.9,417.3 279.9,416.4 280.9,415.8 281.9,416.9 282.9,418.8 283.9,421.8 284.9,421 285.9,421.6 286.9,422.5 287.9,421.1 288.9,421.3 289.9,421.1 290.9,420.9 291.9,421.9 292.9,422 293.9,420.4 294.9,422 295.9,421.3 296.9,421.5 297.9,421.6 298.9,420.7 299.9,421.2 300.9,420.7 301.9,421.6 302.9,420.4 303.9,417.9 304.9,416.9 305.9,419.2 306.9,420 307.9,421.9 308.9,422 309.9,420.9 310.9,418.1 311.9,416.4 312.9,416.8 313.9,418.7 314.9,419.9 315.9,421.8 316.9,421.8 317.9,421.4 318.9,421.2 319.9,421.8 320.9,422.2 321.9,420.4 322.9,421.6 323.9,421.3 324.9,421.1 325.9,421.3 326.9,421.5 327.9,422.5 328.9,421.5 329.9,421.2 330.9,420.8 331.9,421.9 332.9,421 333.9,421.3 334.9,421.7 335.9,421.1 336.9,420.5 337.9,420.2 338.9,420.4 339.9,419.7 340.9,420.1 341.9,420.5 342.9,420.6 343.9,421.3 344.9,421.2 345.9,422 346.9,421.7 347.9,420.5 348.9,421.4 349.9,422.1 350.9,421.4 351.9,421.2 352.9,422 353.9,420.8 354.9,421.3 355.9,421.1 356.9,420 357.9,417.1 358.9,415.1 359.9,416 360.9,415.9 361.9,418.2 362.9,421.3 363.9,420.7 364.9,420.2 365.9,423 366.9,422 367.9,421.7 368.9,423 369.9,421.4 370.9,422.3 371.9,421.5 372.9,421.3 373.9,421.8 374.9,422 375.9,422.2 376.9,422.1 377.9,421.2 378.9,421.4 379.9,422.5 380.9,421.8 381.9,421.5 382.9,422.2 383.9,422.2 384.9,422 385.9,420.8 386.9,420.5 387.9,420.6 388.9,420.2 389.9,418.5 390.9,419 391.9,419.5 392.9,420.7 393.9,420.2 394.9,422.6 395.9,421.4 396.9,421.8 397.9,422.7 398.9,421.8 399.9,421.8 400.9,421 401.9,420.9 402.9,419.1 403.9,418.2 404.9,416.7 405.9,415.1 406.9,416 407.9,416.3 408.9,415.6 409.9,416 410.9,411.9 411.9,408.3 412.9,404.4 413.9,404.9 414.9,409.1 415.9,415 416.9,417.1 417.9,420 418.9,420.9 419.9,422 420.9,421.3 421.9,421.7 422.9,422.2 423.9,421.9 424.9,421.3 425.9,421.3 426.9,421.3 427.9,421.6 428.9,421 429.9,421.5 430.9,421.8 431.9,421.2 432.9,421.2 433.9,421.6 434.9,421.9 435.9,420.8 436.9,421 437.9,422.2 438.9,421.5 439.9,420.9 440.9,421.6 441.9,422.3 442.9,421.2 443.9,421 444.9,421.3 445.9,422 446.9,420 447.9,419.2 448.9,417.9 449.9,416.8 450.9,416.7 451.9,418.7 452.9,420 453.9,421.3 454.9,421.5 455.9,421.5 456.9,420.5 457.9,421.8 458.9,421.4 459.9,420.4 460.9,421.5 461.9,421.7 462.9,421.4 463.9,420.2 464.9,421.1 465.9,421 466.9,421.3 467.9,420.2 468.9,421.6 469.9,421.6 470.9,421.1 471.9,419.7 472.9,418 473.9,417.2 474.9,416.6 475.9,417.2 476.9,419.2 477.9,420.8 478.9,421.8 479.9,421.7 480.9,421.1 481.9,421.2 482.9,421.6 483.9,421.5 484.9,421.6 485.9,419.2 486.9,417.9 487.9,415 488.9,413.5 489.9,412.2 490.9,413 491.9,415.9 492.9,418 493.9,420.4 494.9,421.1 495.9,421.4 496.9,421.4 497.9,422 498.9,422.1 499.9,420.7 500.9,421.2 501.9,421.5 502.9,421.8 503.9,420.6 504.9,421 505.9,421.3 506.9,422.4 507.9,420.9 508.9,420.9 509.9,420.4 510.9,419.3 511.9,418.2 512.9,417.6 513.9,418.1 514.9,419.5 515.9,420.6 516.9,421.3 517.9,421.6 518.9,420.9 519.9,421.6 520.9,421.5 521.9,421.7 522.9,421.1 523.9,420.4 524.9,417.3 525.9,415.9 526.9,415.7 527.9,416.4 528.9,418.4 529.9,420 530.9,420.8 531.9,422.6 532.9,421.4 533.9,422.3 534.9,421 535.9,421.7 536.9,421.2 537.9,421.7 538.9,422.4 539.9,422.5 540.9,421.9 541.9,421.7 542.9,421.4 543.9,421.5 544.9,421.5 545.9,419 546.9,418.7 547.9,417.8 548.9,419.1 549.9,418.8 550.9,420.9 551.9,420.5 552.9,420.8 553.9,422.3 554.9,422.1 555.9,421 556.9,420.6 557.9,421 558.9,421.8 559.9,421.2 560.9,420.1 561.9,419.6 562.9,418.1 563.9,414.9 564.9,414.6 565.9,414.9 566.9,417.8 567.9,419.2 568.9,420.2 569.9,420.3 570.9,421.8 571.9,421.3 572.9,421.6 573.9,421.4 574.9,421.7 575.9,420.6 576.9,421.1 577.9,421.7 578.9,422.5 579.9,421.7 580.9,421.5 581.9,421.2 582.9,421.1 583.9,421.4 584.9,421.1 585.9,421.5 586.9,421.4 587.9,422.1 588.9,420.2 589.9,419.4 590.9,416.8 591.9,416.1 592.9,416.7 593.9,416.3 594.9,417.8 595.9,420.6 596.9,421 597.9,421.2 598.9,421.7 599.9,421.7 600.9,422.2 601.9,421.7 602.9,421.2 603.9,420.9 604.9,420.6 605.9,420.9 606.9,422.1 607.9,420.8 608.9,421.5 609.9,422.2 610.9,421.8 611.9,422.3 612.9,421.9 613.9,422.4 614.9,421.2 615.9,421.1 616.9,422.6 617.9,421.6 618.9,421.3 619.9,420.5 620.9,420.8 621.9,419.2 622.9,418.5 623.9,418.1 624.9,419.5 625.9,420.2 626.9,421 627.9,421.6 628.9,421.2 629.9,421.1 630.9,421.9 631.9,421 632.9,422.3 633.9,422.3 634.9,420.7 635.9,422.3 636.9,420.7 637.9,421.1 638.9,418.8 639.9,417.8 640.9,415.5 641.9,416.3 642.9,417.1 643.9,419.5 644.9,420.5 645.9,420.5 646.9,421.5 647.9,421.1 648.9,421.6 649.9,422.3 650.9,422.4 651.9,421.6 652.9,421.1 653.9,421.6 654.9,422.6 655.9,421.4 656.9,420.7 657.9,420.8 658.9,420.9 659.9,422.1 660.9,421.3 661.9,421.1 662.9,421.7 663.9,422 664.9,421.4 665.9,421.1 666.9,421.6 667.9,422 668.9,420.6 669.9,420.8 670.9,422.6 671.9,421.7 672.9,421.6 673.9,420.5 674.9,420.4 675.9,420.3 676.9,420.2 677.9,418.5 678.9,416.1 679.9,416.2 680.9,414.7 681.9,413.3 682.9,411.9 683.9,412.5 684.9,413.8 685.9,415.5 686.9,418 687.9,417.8 688.9,419.2 689.9,420.4 690.9,420.6 691.9,421 692.9,420.6 693.9,421.4 694.9,421.1 695.9,421 696.9,420.4 697.9,418.2 698.9,416.8 699.9,416.6 700.9,417.1 701.9,419 702.9,419.4 703.9,420.6 704.9,421.5 705.9,421.3 706.9,421.2 707.9,419.6 708.9,419.4 709.9,419.3 710.9,419.3 711.9,419.6 712.9,421 713.9,420.5 714.9,421 715.9,421.6 716.9,421.7 717.9,421.6 718.9,422.4 719.9,421.8 720.9,421.4 721.9,421 722.9,422.2 723.9,421.2 724.9,421.7 725.9,421.2 726.9,422.6 727.9,421.9 728.9,420.6 729.9,421.6 730.9,420.7 731.9,421 732.9,421.5 733.9,420.1 734.9,420.6 735.9,420.2 736.9,420.6 737.9,419.9 738.9,421.1 739.9,420.9 740.9,421.8 741.9,421.4 742.9,421.8 743.9,422.2 744.9,422.1 745.9,421.5 746.9,421.9 747.9,421.5 748.9,421.7 749.9,422.4 750.9,421 751.9,420.9 752.9,421.7 753.9,421.2 754.9,422.1 755.9,421.9 756.9,421.7 757.9,421.2 758.9,420.7 759.9,420 760.9,419.7 761.9,419.6 762.9,419.1 763.9,420.4 764.9,420.7 765.9,420.1 766.9,419.7 767.9,421.9 768.9,420.8 769.9,419.9 770.9,420.6 771.9,421.6 772.9,422.2 773.9,422 774.9,422.3 775.9,422.4 776.9,422.4 777.9,420.9 778.9,421.2 779.9,420.7 780.9,420.8 781.9,420.2 782.9,420.1 783.9,420.5 784.9,418.9 785.9,419.7 786.9,419 787.9,419.2 788.9,420.8 789.9,420.6 790.9,421.1 791.9,422 792.9,420.7" fill="none" stroke="#e6b0e4" stroke-width="4.2" stroke-linejoin="round" />
<path d="M92.9,512.9 93.9,512.8 94.9,512.5 95.9,512.3 96.9,512.5 97.9,512.5 98.9,512.9 99.9,512.2 100.9,512.5 101.9,512.5 102.9,512.5 103.9,512.6 104.9,512.5 105.9,513 106.9,512.3 107.9,513 108.9,512 109.9,511.8 110.9,512 111.9,511.9 112.9,511.7 113.9,512 114.9,511.7 115.9,511.1 116.9,510.3 117.9,510 118.9,510.2 119.9,509 120.9,507.5 121.9,506.9 122.9,505.8 123.9,505.3 124.9,502.9 125.9,501.8 126.9,498 127.9,493.7 128.9,487.8 129.9,480 130.9,466.4 131.9,450.2 132.9,446 133.9,458.7 134.9,474.5 135.9,484.4 136.9,490 137.9,496.5 138.9,498.7 139.9,503 140.9,505.2 141.9,505.7 142.9,506.6 143.9,507.5 144.9,509.1 145.9,508 146.9,505.3 147.9,500.5 148.9,495.4 149.9,489.9 150.9,490.2 151.9,495.3 152.9,502.4 153.9,508.3 154.9,510.8 155.9,512.6 156.9,512.9 157.9,513.2 158.9,514.3 159.9,513.6 160.9,513.9 161.9,513.7 162.9,513.8 163.9,514.6 164.9,514.1 165.9,514.1 166.9,514.7 167.9,514.7 168.9,514.9 169.9,514.7 170.9,513.8 171.9,515 172.9,515 173.9,515.3 174.9,514.4 175.9,516.1 176.9,514.2 177.9,515.2 178.9,514.9 179.9,514.7 180.9,515.4 181.9,514.9 182.9,513.9 183.9,514.5 184.9,515.3 185.9,516.2 186.9,514.4 187.9,515.1 188.9,515.9 189.9,515.5 190.9,515 191.9,514.5 192.9,514.3 193.9,514.8 194.9,515.1 195.9,514.1 196.9,514.4 197.9,515.4 198.9,515.1 199.9,514.8 200.9,514.7 201.9,513.6 202.9,512.9 203.9,511.2 204.9,510.2 205.9,509.9 206.9,511.6 207.9,513.9 208.9,515.4 209.9,515.9 210.9,515.9 211.9,515.1 212.9,514.6 213.9,515.9 214.9,515.4 215.9,515.4 216.9,515 217.9,514.8 218.9,516.1 219.9,515.7 220.9,514.9 221.9,515.7 222.9,515.6 223.9,515.7 224.9,516.6 225.9,515.5 226.9,514.9 227.9,515.5 228.9,515.2 229.9,515.8 230.9,515.6 231.9,515.7 232.9,515.1 233.9,515.3 234.9,514.1 235.9,513.5 236.9,512 237.9,511.4 238.9,512.8 239.9,513.4 240.9,515.4 241.9,515.4 242.9,515.3 243.9,514.5 244.9,513.3 245.9,510.8 246.9,512 247.9,511.5 248.9,513.6 249.9,514.1 250.9,515.1 251.9,515.3 252.9,515 253.9,515.5 254.9,515.8 255.9,515.4 256.9,515 257.9,515.3 258.9,515.7 259.9,516.2 260.9,516 261.9,515.7 262.9,515.1 263.9,516.1 264.9,515.6 265.9,515.5 266.9,516.1 267.9,515.9 268.9,515.9 269.9,515 270.9,515.3 271.9,514.8 272.9,515.7 273.9,515.6 274.9,516.1 275.9,515.7 276.9,515.4 277.9,516.4 278.9,514.3 279.9,512.9 280.9,511.4 281.9,510.4 282.9,509.8 283.9,511 284.9,512.5 285.9,515.2 286.9,515 287.9,515 288.9,515.6 289.9,515.2 290.9,515.5 291.9,516.3 292.9,515.4 293.9,515.6 294.9,515.5 295.9,515.6 296.9,516.1 297.9,515.9 298.9,515.5 299.9,515.2 300.9,515.6 301.9,516.1 302.9,515.6 303.9,515.2 304.9,513.4 305.9,513.2 306.9,510.6 307.9,510.9 308.9,512.9 309.9,514.6 310.9,515.3 311.9,514.6 312.9,513.7 313.9,511.8 314.9,510.2 315.9,511.6 316.9,513.1 317.9,515.1 318.9,515.4 319.9,516.1 320.9,516 321.9,516.1 322.9,516.3 323.9,516 324.9,515.6 325.9,516.3 326.9,515.2 327.9,515.6 328.9,516.1 329.9,515.5 330.9,516 331.9,515.3 332.9,515.4 333.9,515.9 334.9,516 335.9,516.2 336.9,515.6 337.9,515.6 338.9,515.5 339.9,515 340.9,513.7 341.9,513.6 342.9,514.4 343.9,513.3 344.9,514.7 345.9,514.6 346.9,515.7 347.9,515.1 348.9,515.6 349.9,514.7 350.9,515.6 351.9,516.2 352.9,514.9 353.9,516.3 354.9,515.3 355.9,515.6 356.9,514.3 357.9,516.1 358.9,514.7 359.9,513.8 360.9,511.6 361.9,509.7 362.9,509.7 363.9,509.7 364.9,512.3 365.9,513.7 366.9,515.2 367.9,515.2 368.9,515.8 369.9,517 370.9,516 371.9,515.9 372.9,515.4 373.9,516.2 374.9,516.4 375.9,514.8 376.9,515 377.9,516.7 378.9,515.9 379.9,515.7 380.9,516 381.9,516.2 382.9,516.1 383.9,515.6 384.9,516.7 385.9,515.7 386.9,515.2 387.9,515.3 388.9,515.4 389.9,515 390.9,514.6 391.9,514.3 392.9,512 393.9,513 394.9,514.1 395.9,514.4 396.9,514.4 397.9,514.9 398.9,516 399.9,515.5 400.9,515.4 401.9,516.6 402.9,515.5 403.9,515.9 404.9,515.3 405.9,514.7 406.9,513.2 407.9,512 408.9,511.7 409.9,509.8 410.9,510.6 411.9,510.4 412.9,510.8 413.9,508.8 414.9,503.7 415.9,499.9 416.9,496.3 417.9,498.4 418.9,502.2 419.9,508.7 420.9,513.6 421.9,514.7 422.9,515.1 423.9,515.9 424.9,515.7 425.9,515.6 426.9,515.6 427.9,515.4 428.9,515.9 429.9,515.5 430.9,515.3 431.9,516.1 432.9,515.6 433.9,517 434.9,515.6 435.9,515.3 436.9,515.4 437.9,515.9 438.9,515.3 439.9,515.1 440.9,516.5 441.9,515.1 442.9,516.4 443.9,515.8 444.9,515.2 445.9,516.5 446.9,515.6 447.9,515.2 448.9,515.6 449.9,516 450.9,515.1 451.9,513.9 452.9,512.9 453.9,511.1 454.9,511.4 455.9,512.4 456.9,513.2 457.9,514.9 458.9,516.3 459.9,514.8 460.9,516.3 461.9,515.8 462.9,515.2 463.9,515.7 464.9,516.6 465.9,515.4 466.9,516.1 467.9,516.3 468.9,515.2 469.9,516 470.9,516 471.9,515.5 472.9,516 473.9,515.4 474.9,515 475.9,514 476.9,513.5 477.9,511.7 478.9,510.9 479.9,511.1 480.9,512.4 481.9,514 482.9,515.6 483.9,515.2 484.9,516.4 485.9,515.9 486.9,515.8 487.9,515 488.9,516.4 489.9,514.1 490.9,513.6 491.9,511.4 492.9,507.1 493.9,504.3 494.9,504.5 495.9,507.3 496.9,510.9 497.9,513.3 498.9,514.2 499.9,515.1 500.9,515.7 501.9,515 502.9,515.6 503.9,516.8 504.9,515.2 505.9,516.3 506.9,515.2 507.9,515.5 508.9,515.7 509.9,514.9 510.9,515.6 511.9,516.3 512.9,515.9 513.9,515.6 514.9,514.1 515.9,513.3 516.9,512.4 517.9,512.4 518.9,513.4 519.9,513.4 520.9,515.7 521.9,515.3 522.9,515.5 523.9,515.1 524.9,515.6 525.9,515.5 526.9,514.8 527.9,514.6 528.9,513.4 529.9,511.1 530.9,509.8 531.9,508.6 532.9,510.9 533.9,512.5 534.9,514.5 535.9,514.3 536.9,515.6 537.9,515.6 538.9,516.2 539.9,515.1 540.9,516.4 541.9,515.2 542.9,516.3 543.9,516 544.9,515.3 545.9,516.8 546.9,515.1 547.9,515.6 548.9,515.6 549.9,515.3 550.9,514.3 551.9,513.6 552.9,512.7 553.9,512.7 554.9,513 555.9,514.4 556.9,515.7 557.9,515 558.9,515.7 559.9,514.7 560.9,515.3 561.9,514.9 562.9,516.3 563.9,514.7 564.9,515.3 565.9,515.3 566.9,514 567.9,512.1 568.9,509.9 569.9,508.1 570.9,508.5 571.9,510 572.9,512.3 573.9,513.3 574.9,515.2 575.9,516.2 576.9,515.3 577.9,515.1 578.9,515.7 579.9,516.3 580.9,516.3 581.9,515 582.9,515.9 583.9,515.4 584.9,515.8 585.9,514.6 586.9,516.2 587.9,515.5 588.9,515.8 589.9,515.6 590.9,515.2 591.9,515.9 592.9,515.2 593.9,514.7 594.9,514.4 595.9,512.4 596.9,510.4 597.9,510.3 598.9,509.9 599.9,511.7 600.9,513.8 601.9,515.2 602.9,515.9 603.9,516.4 604.9,515.7 605.9,515.3 606.9,516.5 607.9,516.4 608.9,515.5 609.9,516 610.9,515.5 611.9,514.9 612.9,516.2 613.9,515.9 614.9,515.8 615.9,516.5 616.9,516.4 617.9,515.4 618.9,515.1 619.9,514.8 620.9,515.7 621.9,515.5 622.9,515.9 623.9,515.6 624.9,515.1 625.9,514.7 626.9,513.1 627.9,513.4 628.9,512 629.9,512.9 630.9,513.3 631.9,514.7 632.9,515.6 633.9,515.4 634.9,515.3 635.9,516.8 636.9,515.6 637.9,516 638.9,515.7 639.9,515.3 640.9,516.3 641.9,515.8 642.9,515.5 643.9,513.6 644.9,513.8 645.9,512.6 646.9,511.1 647.9,510.6 648.9,512.2 649.9,513.2 650.9,514.7 651.9,515.7 652.9,516 653.9,515 654.9,515.9 655.9,515.3 656.9,514.7 657.9,515.8 658.9,514.8 659.9,515.5 660.9,514.5 661.9,515.2 662.9,515.5 663.9,515.7 664.9,515.4 665.9,515.2 666.9,515.3 667.9,516.5 668.9,515.5 669.9,515.6 670.9,516.6 671.9,514.8 672.9,514.7 673.9,515.2 674.9,515.5 675.9,515.1 676.9,515.7 677.9,515.6 678.9,514.9 679.9,515.6 680.9,514.6 681.9,515.3 682.9,514.4 683.9,514.5 684.9,512.6 685.9,510.6 686.9,509.4 687.9,508.2 688.9,507.1 689.9,506.7 690.9,508.7 691.9,510.1 692.9,510.6 693.9,512.1 694.9,513.2 695.9,514.9 696.9,515.6 697.9,514.9 698.9,515.4 699.9,515.3 700.9,515.7 701.9,515.8 702.9,515.4 703.9,513.7 704.9,511.9 705.9,511.5 706.9,511.6 707.9,512.2 708.9,513.9 709.9,515.1 710.9,515.8 711.9,515.5 712.9,515.5 713.9,514.9 714.9,513.8 715.9,514 716.9,513.4 717.9,514 718.9,513.3 719.9,514.2 720.9,515.2 721.9,514.5 722.9,515.5 723.9,515.4 724.9,515.5 725.9,515.6 726.9,514.6 727.9,515.7 728.9,515.7 729.9,516.2 730.9,516.4 731.9,515.9 732.9,516.2 733.9,514.5 734.9,516 735.9,516.2 736.9,516.1 737.9,515.7 738.9,515.3 739.9,515.1 740.9,515 741.9,514.8 742.9,514.7 743.9,514.3 744.9,513.9 745.9,515.8 746.9,514.8 747.9,514.1 748.9,516.3 749.9,516.2 750.9,515.8 751.9,516.2 752.9,515.9 753.9,515.3 754.9,515.8 755.9,515.1 756.9,515.4 757.9,515.3 758.9,515.8 759.9,516.2 760.9,515.4 761.9,515.9 762.9,514.6 763.9,515.1 764.9,515.8 765.9,515.7 766.9,515.3 767.9,514.9 768.9,513.2 769.9,513.6 770.9,512.8 771.9,514.4 772.9,515.1 773.9,515.1 774.9,515.1 775.9,515.9 776.9,515.9 777.9,515.8 778.9,515.4 779.9,515.7 780.9,515.7 781.9,515.8 782.9,516 783.9,515.6 784.9,514.9 785.9,515.4 786.9,515.5 787.9,514.8 788.9,514.7 789.9,513.8 790.9,514.3 791.9,513.4 792.9,513.1" fill="none" stroke="#73d9bf" stroke-width="4.2" stroke-linejoin="round" />
<path d="M92.9,606.1 93.9,606.6 94.9,607.2 95.9,606.3 96.9,607.5 97.9,607.2 98.9,606.8 99.9,607.1 100.9,606.6 101.9,606.2 102.9,607.2 103.9,607.3 104.9,606.9 105.9,606.8 106.9,605.8 107.9,606.3 108.9,606.4 109.9,606.6 110.9,607 111.9,606 112.9,605.8 113.9,606.4 114.9,605.7 115.9,604.9 116.9,605.8 117.9,604.5 118.9,604.2 119.9,603.5 120.9,603.6 121.9,603.2 122.9,601.7 123.9,601 124.9,599.2 125.9,598.9 126.9,596.4 127.9,592.7 128.9,589.6 129.9,584.7 130.9,577.1 131.9,565.3 132.9,549.7 133.9,538.4 134.9,545.6 135.9,561.4 136.9,574.7 137.9,582.3 138.9,587.4 139.9,592.5 140.9,595.8 141.9,597.9 142.9,600.1 143.9,601.7 144.9,602.2 145.9,602.4 146.9,602.6 147.9,600.2 148.9,596.4 149.9,589.3 150.9,582.5 151.9,580.1 152.9,582 153.9,590.8 154.9,598 155.9,603.9 156.9,606.4 157.9,606.9 158.9,608.2 159.9,607.6 160.9,608.3 161.9,607.9 162.9,608.1 163.9,608.4 164.9,609.3 165.9,608.9 166.9,608.6 167.9,609.4 168.9,608.8 169.9,608.7 170.9,608.4 171.9,609 172.9,609 173.9,608.7 174.9,608.2 175.9,609 176.9,609.2 177.9,609 178.9,608.7 179.9,608.7 180.9,609 181.9,609.9 182.9,609.4 183.9,608.6 184.9,609.6 185.9,609.2 186.9,610.4 187.9,609.3 188.9,609.4 189.9,609.5 190.9,609.6 191.9,609.5 192.9,609.5 193.9,609.4 194.9,609.3 195.9,609.4 196.9,609 197.9,609.3 198.9,609.3 199.9,609.4 200.9,609.4 201.9,609.4 202.9,609.3 203.9,608 204.9,606.6 205.9,604.9 206.9,603.8 207.9,604.6 208.9,606.5 209.9,607.3 210.9,609.4 211.9,609.3 212.9,608 213.9,609.9 214.9,609.2 215.9,610.1 216.9,609.3 217.9,609.6 218.9,610 219.9,609.4 220.9,609.3 221.9,609.7 222.9,610.4 223.9,610.3 224.9,610.4 225.9,610 226.9,610 227.9,610.3 228.9,610.1 229.9,609.4 230.9,610.2 231.9,609.6 232.9,609.4 233.9,609.8 234.9,609.6 235.9,609.6 236.9,608.5 237.9,606.9 238.9,605.9 239.9,605.4 240.9,606.4 241.9,608.5 242.9,609.2 243.9,609.3 244.9,609.3 245.9,608.6 246.9,607.8 247.9,606.1 248.9,606.5 249.9,606.6 250.9,608.1 251.9,609.3 252.9,609.7 253.9,609.3 254.9,609.3 255.9,610.3 256.9,610.3 257.9,609.3 258.9,609.5 259.9,610.4 260.9,609.9 261.9,610.8 262.9,610.1 263.9,610.3 264.9,609.9 265.9,609.7 266.9,609.3 267.9,608.7 268.9,610.4 269.9,610.3 270.9,609.7 271.9,610.4 272.9,609.3 273.9,610.6 274.9,610.1 275.9,610.7 276.9,609.2 277.9,610.6 278.9,610.3 279.9,609.9 280.9,608.8 281.9,608.3 282.9,606.6 283.9,604.6 284.9,603.9 285.9,605 286.9,607 287.9,609.2 288.9,610.1 289.9,610.6 290.9,610.1 291.9,609.3 292.9,609.6 293.9,609.4 294.9,609.8 295.9,610.6 296.9,609.9 297.9,609.8 298.9,610.2 299.9,610.3 300.9,610.4 301.9,609.5 302.9,609.6 303.9,609.7 304.9,610.2 305.9,609.8 306.9,608.5 307.9,608.2 308.9,605.6 309.9,605.5 310.9,606.8 311.9,608.1 312.9,609.4 313.9,609.5 314.9,608.8 315.9,607.2 316.9,605.4 317.9,605.4 318.9,607.8 319.9,608.7 320.9,610.1 321.9,610.1 322.9,611.2 323.9,609.9 324.9,609.2 325.9,609.8 326.9,610.5 327.9,610.8 328.9,610.8 329.9,610.3 330.9,610.7 331.9,609.5 332.9,609.7 333.9,609.6 334.9,610.2 335.9,610.6 336.9,610 337.9,610.2 338.9,609.7 339.9,609.7 340.9,609.7 341.9,610 342.9,609.1 343.9,608.6 344.9,608.6 345.9,608.4 346.9,608.1 347.9,609.7 348.9,609.3 349.9,609.7 350.9,609.9 351.9,610.2 352.9,609.9 353.9,610.2 354.9,610.8 355.9,609.6 356.9,609.2 357.9,610.6 358.9,610.1 359.9,610.2 360.9,610 361.9,608.8 362.9,607.6 363.9,604.6 364.9,603.6 365.9,603.5 366.9,604.4 367.9,606.7 368.9,608.6 369.9,609.7 370.9,609.8 371.9,610.6 372.9,610.3 373.9,610.3 374.9,609.2 375.9,609.8 376.9,610.1 377.9,609.8 378.9,610.1 379.9,609.7 380.9,609.6 381.9,610 382.9,610 383.9,609.8 384.9,610 385.9,610.4 386.9,610.2 387.9,610.3 388.9,610.2 389.9,610 390.9,609.7 391.9,610.5 392.9,609.3 393.9,609.1 394.9,607.8 395.9,606.9 396.9,606.9 397.9,607.7 398.9,607.9 399.9,609.4 400.9,609.4 401.9,609.6 402.9,610.7 403.9,609.8 404.9,609.8 405.9,611.1 406.9,610 407.9,609.5 408.9,608.5 409.9,608.1 410.9,606.5 411.9,603.6 412.9,604.1 413.9,604.5 414.9,605.3 415.9,604.2 416.9,602.3 417.9,598.4 418.9,593 419.9,589.8 420.9,592.6 421.9,597.5 422.9,603.8 423.9,605.9 424.9,609.5 425.9,609.9 426.9,610.5 427.9,609.5 428.9,609.9 429.9,609.5 430.9,610.3 431.9,610.1 432.9,610.9 433.9,610.4 434.9,609 435.9,610.2 436.9,610.1 437.9,610.5 438.9,610.4 439.9,609.7 440.9,609.9 441.9,610.5 442.9,609.7 443.9,610.1 444.9,609.6 445.9,610.5 446.9,610.6 447.9,610.1 448.9,609.6 449.9,609.8 450.9,609.9 451.9,609.8 452.9,609.8 453.9,608.4 454.9,607.2 455.9,605.8 456.9,605.5 457.9,604.8 458.9,606.7 459.9,608.6 460.9,608.6 461.9,608.9 462.9,609.1 463.9,610.2 464.9,610.2 465.9,609.9 466.9,609.5 467.9,610 468.9,609.3 469.9,610.2 470.9,610 471.9,610 472.9,610.6 473.9,609.5 474.9,609.5 475.9,610.2 476.9,610.4 477.9,609.2 478.9,608.4 479.9,607.4 480.9,606.2 481.9,604.6 482.9,605.8 483.9,607.8 484.9,608.3 485.9,609.1 486.9,610.8 487.9,609.3 488.9,610.5 489.9,610.4 490.9,609.3 491.9,610.1 492.9,609.9 493.9,607.8 494.9,604.6 495.9,602 496.9,600.4 497.9,598.4 498.9,601.1 499.9,603.4 500.9,606.7 501.9,608.4 502.9,609.5 503.9,610.1 504.9,610 505.9,609.6 506.9,609.9 507.9,609.9 508.9,609.8 509.9,609.7 510.9,609.7 511.9,610.1 512.9,610.9 513.9,610 514.9,610.1 515.9,609.5 516.9,609.3 517.9,609.5 518.9,607.5 519.9,606.5 520.9,606 521.9,605.9 522.9,607.9 523.9,609 524.9,609.8 525.9,609.5 526.9,610 527.9,609.1 528.9,610 529.9,609.9 530.9,609.1 531.9,608.3 532.9,605.4 533.9,603.4 534.9,601.9 535.9,603.5 536.9,605.4 537.9,608.3 538.9,608.8 539.9,610 540.9,609.9 541.9,610.1 542.9,610.3 543.9,610.6 544.9,610.5 545.9,609.3 546.9,610.2 547.9,609.5 548.9,610.1 549.9,609.5 550.9,610.3 551.9,610.2 552.9,609.6 553.9,608.4 554.9,607.1 555.9,606.2 556.9,606.4 557.9,607.4 558.9,608.6 559.9,609.6 560.9,609.2 561.9,609.8 562.9,610.3 563.9,610.2 564.9,609.9 565.9,609.3 566.9,610.7 567.9,609.8 568.9,608.8 569.9,608.8 570.9,607.1 571.9,604.5 572.9,602.2 573.9,600.9 574.9,603.1 575.9,604.8 576.9,606.4 577.9,608.7 578.9,608.4 579.9,609.9 580.9,609.5 581.9,610.1 582.9,610.3 583.9,609.9 584.9,611 585.9,610 586.9,610.2 587.9,610 588.9,609.9 589.9,609.6 590.9,610.5 591.9,610.3 592.9,610.7 593.9,609.7 594.9,609.6 595.9,609.8 596.9,609.7 597.9,609 598.9,606.9 599.9,605.9 600.9,604.4 601.9,603.9 602.9,604.4 603.9,606.3 604.9,608.5 605.9,609.7 606.9,609.8 607.9,609.9 608.9,610 609.9,610.4 610.9,610.1 611.9,610.1 612.9,610.6 613.9,609.7 614.9,609.5 615.9,609.9 616.9,610.8 617.9,610.2 618.9,609.3 619.9,610.4 620.9,610.1 621.9,610.1 622.9,609.3 623.9,609.7 624.9,609.7 625.9,610.3 626.9,609.6 627.9,609.5 628.9,609 629.9,609.5 630.9,608 631.9,607.6 632.9,606.8 633.9,607.5 634.9,607.8 635.9,609.4 636.9,609.4 637.9,609.6 638.9,610.4 639.9,609.4 640.9,610 641.9,610.1 642.9,610.1 643.9,610 644.9,610.4 645.9,609.6 646.9,610.3 647.9,609.6 648.9,607.8 649.9,605.9 650.9,604.1 651.9,604 652.9,605.1 653.9,607.2 654.9,609.3 655.9,608.7 656.9,610.2 657.9,610 658.9,610.2 659.9,610.1 660.9,609.7 661.9,609.8 662.9,610 663.9,610.5 664.9,609.9 665.9,610.6 666.9,610.5 667.9,609.9 668.9,610.2 669.9,610.6 670.9,609.5 671.9,609.6 672.9,610.4 673.9,610.4 674.9,609.7 675.9,609.6 676.9,610.2 677.9,610.6 678.9,609.8 679.9,609.6 680.9,610.5 681.9,610.3 682.9,609.4 683.9,609.4 684.9,609.5 685.9,609.7 686.9,608.9 687.9,607.6 688.9,605.4 689.9,605.8 690.9,602.7 691.9,602.3 692.9,601.4 693.9,600.9 694.9,601.4 695.9,602.2 696.9,603.7 697.9,605.4 698.9,606.6 699.9,608.3 700.9,608.5 701.9,610.1 702.9,610.9 703.9,608.8 704.9,609.3 705.9,610.1 706.9,609.4 707.9,608.1 708.9,606.6 709.9,605.4 710.9,604.6 711.9,606.1 712.9,608.1 713.9,609.4 714.9,610.4 715.9,609.9 716.9,609.8 717.9,608.5 718.9,608.5 719.9,607.6 720.9,608 721.9,608.3 722.9,607.7 723.9,608.3 724.9,608.8 725.9,609.5 726.9,609.4 727.9,610.3 728.9,609.8 729.9,610.7 730.9,610.4 731.9,609.8 732.9,609.7 733.9,610.4 734.9,609.8 735.9,609.2 736.9,609.9 737.9,609.6 738.9,610.9 739.9,610 740.9,609.7 741.9,608.9 742.9,610.4 743.9,609.9 744.9,609.3 745.9,608.9 746.9,608.7 747.9,608.8 748.9,608.7 749.9,608.7 750.9,609.4 751.9,608.6 752.9,609.6 753.9,609.8 754.9,609.6 755.9,609.9 756.9,610.3 757.9,609.9 758.9,609.3 759.9,610.1 760.9,610.4 761.9,610.4 762.9,610.3 763.9,610.5 764.9,609.9 765.9,608.8 766.9,609.8 767.9,609.4 768.9,609.9 769.9,610 770.9,609.1 771.9,609.4 772.9,607.9 773.9,608.5 774.9,607.8 775.9,608.2 776.9,608.4 777.9,609.5 778.9,610.4 779.9,609.6 780.9,609.8 781.9,610.2 782.9,609.6 783.9,610 784.9,609.9 785.9,609.6 786.9,609.4 787.9,610.4 788.9,609.9 789.9,609.5 790.9,610.2 791.9,609.5 792.9,608.7" fill="none" stroke="#b0c0c8" stroke-width="4.2" stroke-linejoin="round" />
</g>
<rect x="94.9" y="60" width="696.1" height="562.2" fill="none" stroke="#000" stroke-width="3" />
<line x1="94.9" y1="622.2" x2="94.9" y2="634.7" stroke="#000" stroke-width="3" />
<line x1="172.2" y1="622.2" x2="172.2" y2="634.7" stroke="#000" stroke-width="3" />
<line x1="249.6" y1="622.2" x2="249.6" y2="634.7" stroke="#000" stroke-width="3" />
<line x1="326.9" y1="622.2" x2="326.9" y2="634.7" stroke="#000" stroke-width="3" />
<line x1="404.3" y1="622.2" x2="404.3" y2="634.7" stroke="#000" stroke-width="3" />
<line x1="481.6" y1="622.2" x2="481.6" y2="634.7" stroke="#000" stroke-width="3" />
<line x1="559" y1="622.2" x2="559" y2="634.7" stroke="#000" stroke-width="3" />
<line x1="636.3" y1="622.2" x2="636.3" y2="634.7" stroke="#000" stroke-width="3" />
<line x1="713.7" y1="622.2" x2="713.7" y2="634.7" stroke="#000" stroke-width="3" />
<line x1="791" y1="622.2" x2="791" y2="634.7" stroke="#000" stroke-width="3" />
<line x1="133.6" y1="622.2" x2="133.6" y2="628.7" stroke="#000" stroke-width="3" />
<line x1="210.9" y1="622.2" x2="210.9" y2="628.7" stroke="#000" stroke-width="3" />
<line x1="288.3" y1="622.2" x2="288.3" y2="628.7" stroke="#000" stroke-width="3" />
<line x1="365.6" y1="622.2" x2="365.6" y2="628.7" stroke="#000" stroke-width="3" />
<line x1="443" y1="622.2" x2="443" y2="628.7" stroke="#000" stroke-width="3" />
<line x1="520.3" y1="622.2" x2="520.3" y2="628.7" stroke="#000" stroke-width="3" />
<line x1="597.6" y1="622.2" x2="597.6" y2="628.7" stroke="#000" stroke-width="3" />
<line x1="675" y1="622.2" x2="675" y2="628.7" stroke="#000" stroke-width="3" />
<line x1="752.3" y1="622.2" x2="752.3" y2="628.7" stroke="#000" stroke-width="3" />
<text font-size="51" text-anchor="middle" transform="translate(94.9 682.5) scale(1 1.035)" >5</text>
<text font-size="51" text-anchor="middle" transform="translate(172.2 682.5) scale(1 1.035)" >10</text>
<text font-size="51" text-anchor="middle" transform="translate(249.6 682.5) scale(1 1.035)" >15</text>
<text font-size="51" text-anchor="middle" transform="translate(326.9 682.5) scale(1 1.035)" >20</text>
<text font-size="51" text-anchor="middle" transform="translate(404.3 682.5) scale(1 1.035)" >25</text>
<text font-size="51" text-anchor="middle" transform="translate(481.6 682.5) scale(1 1.035)" >30</text>
<text font-size="51" text-anchor="middle" transform="translate(559 682.5) scale(1 1.035)" >35</text>
<text font-size="51" text-anchor="middle" transform="translate(636.3 682.5) scale(1 1.035)" >40</text>
<text font-size="51" text-anchor="middle" transform="translate(713.7 682.5) scale(1 1.035)" >45</text>
<text font-size="51" text-anchor="middle" transform="translate(791 682.5) scale(1 1.035)" >50</text>
<text font-size="51" text-anchor="middle" transform="translate(443 752.5) scale(1 1.01)" >2 Theta (degree)</text>
<text font-size="50.5" text-anchor="middle" transform="translate(59 371) rotate(-90) scale(1 1.01)" >Intensity (a.u.)</text>
<text font-size="76" transform="translate(14 121.5)" >a</text>
<text font-size="41" transform="translate(570.5 117.2) scale(1 1.035)" >UiO-66-<tspan font-style="italic">L</tspan><tspan dy="14" font-size="23">3</tspan><tspan dy="-14">&#8203;</tspan></text>
<text font-size="41" transform="translate(570.5 203.6) scale(1 1.035)" >UiO-66-2<tspan font-style="italic">L</tspan><tspan dy="14" font-size="23">2</tspan><tspan dy="-14">&#8203;</tspan></text>
<text font-size="41" transform="translate(570.5 299.1) scale(1 1.035)" >UiO-66-2<tspan font-style="italic">L</tspan><tspan dy="14" font-size="23">1</tspan><tspan dy="-14">&#8203;</tspan></text>
<text font-size="41" transform="translate(570.5 395) scale(1 1.035)" >UiO-66-<tspan font-style="italic">L</tspan><tspan dy="14" font-size="23">2</tspan><tspan dy="-14">&#8203;</tspan></text>
<text font-size="41" transform="translate(570.5 487) scale(1 1.035)" >UiO-66-<tspan font-style="italic">L</tspan><tspan dy="14" font-size="23">1</tspan><tspan dy="-14">&#8203;</tspan></text>
<text font-size="41" transform="translate(570.5 582) scale(1 1.035)" >UiO-66-NH<tspan dy="14" font-size="23">2</tspan><tspan dy="-14">&#8203;</tspan></text>
<!-- panel_b -->
<defs>
<linearGradient id="bg1" gradientUnits="userSpaceOnUse" x1="1061" y1="88" x2="1061" y2="33"><stop offset="0" stop-color="#000"/><stop offset="0.55" stop-color="#000"/><stop offset="1" stop-color="#000" stop-opacity="0"/></linearGradient>
<linearGradient id="bg2" gradientUnits="userSpaceOnUse" x1="1061" y1="88" x2="1030" y2="106"><stop offset="0" stop-color="#000"/><stop offset="0.55" stop-color="#000"/><stop offset="1" stop-color="#000" stop-opacity="0"/></linearGradient>
<linearGradient id="bg3" gradientUnits="userSpaceOnUse" x1="1112" y1="118" x2="1112" y2="178"><stop offset="0" stop-color="#000"/><stop offset="0.55" stop-color="#000"/><stop offset="1" stop-color="#000" stop-opacity="0"/></linearGradient>
<linearGradient id="bg4" gradientUnits="userSpaceOnUse" x1="1307" y1="121" x2="1271" y2="101"><stop offset="0" stop-color="#000"/><stop offset="0.55" stop-color="#000"/><stop offset="1" stop-color="#000" stop-opacity="0"/></linearGradient>
<linearGradient id="bg5" gradientUnits="userSpaceOnUse" x1="1307" y1="121" x2="1307" y2="170"><stop offset="0" stop-color="#000"/><stop offset="0.55" stop-color="#000"/><stop offset="1" stop-color="#000" stop-opacity="0"/></linearGradient>
</defs>
<g stroke-width="3" stroke-linecap="butt" fill="none">
<path d="M1061.2,88.5 V34" stroke="url(#bg1)"/>
<path d="M1061.2,88.2 L1031,105.6 M1058.6,97.6 L1033.5,112" stroke="url(#bg2)"/>
<path d="M1060.5,87.5 L1113,118 L1147.7,98.2" stroke="#000" stroke-linejoin="miter"/>
<path d="M1112.9,117 V177 M1105,122.5 V177" stroke="url(#bg3)"/>
<path d="M1307,121.5 L1272,101.5" stroke="url(#bg4)"/>
<path d="M1306.3,121.6 L1358.1,92.3 V50.6" stroke="#000"/>
<path d="M1309.8,119 V169 M1302.3,119 V169" stroke="url(#bg5)"/>
<path d="M1359.8,89 L1400,112 M1356,95.8 L1396.2,118.8" stroke="#000"/>
</g>
<text font-size="33.5" transform="translate(1153.5 100) scale(1 1.035)" letter-spacing="1.6">N<tspan fill="#10804a">H<tspan dy="6" font-size="25">2</tspan><tspan dy="-6">&#8203;</tspan></tspan></text>
<circle cx="1190.2" cy="121.4" r="10" fill="#3f9a12"/>
<text font-size="33.5" transform="translate(1346 44.5) scale(1 1.035)" letter-spacing="2.2">C<tspan fill="#2a22d4">H<tspan dy="6" font-size="25">3</tspan><tspan dy="-6">&#8203;</tspan></tspan></text>
<circle cx="1429.9" cy="35.2" r="10" fill="#1b0cc6"/>
<text font-size="33.5" transform="translate(1398.5 135.1) scale(1 1.035)" letter-spacing="2">C<tspan fill="#f6858f">H<tspan dy="6" font-size="25">2</tspan><tspan dy="-6">&#8203;</tspan></tspan></text>
<circle cx="1437.1" cy="157.3" r="10" fill="#f4858f"/>
<text font-size="34.2" transform="translate(1510.5 131.7) scale(1 1.035)" letter-spacing="1.4">-N(C<tspan fill="#0f7bff">H<tspan dx="1.5"></tspan><tspan dy="8.5" font-size="23">3</tspan><tspan dy="-8.5">&#8203;</tspan></tspan>)<tspan dx="1"></tspan><tspan dy="8.5" font-size="23">3</tspan><tspan dy="-8.5">&#8203;</tspan><tspan dx="2"></tspan><tspan dy="-14" font-size="19">+</tspan><tspan dy="14">&#8203;</tspan></text>
<circle cx="1601.9" cy="157.3" r="10" fill="#0f7bff"/>
<path d="M997,286.4 997.5,286.8 998,286.8 998.5,286.8 999,286.5 999.5,287 1000,286.4 1000.5,286.8 1001,286.6 1001.5,286.7 1002,286.5 1002.5,287 1003,286.7 1003.5,286.7 1004,286.5 1004.5,286.8 1005,286.7 1005.5,286.8 1006,286.7 1006.5,286.6 1007,286.8 1007.5,286.5 1008,286.5 1008.5,286.6 1009,286.5 1009.5,286.8 1010,286.7 1010.5,286.8 1011,286.7 1011.5,286.6 1012,286.8 1012.5,286.7 1013,286.8 1013.5,286.8 1014,286.8 1014.5,286.7 1015,286.8 1015.5,286.6 1016,286.4 1016.5,286.6 1017,286.7 1017.5,286.8 1018,286.8 1018.5,286.4 1019,286.7 1019.5,286.8 1020,286.6 1020.5,286.4 1021,286.7 1021.5,286.6 1022,286.6 1022.5,286.7 1023,286.8 1023.5,286.7 1024,286.7 1024.5,286.6 1025,286.5 1025.5,286.5 1026,286.6 1026.5,286.5 1027,286.8 1027.5,286.5 1028,286.6 1028.5,286.7 1029,286.6 1029.5,286.7 1030,286.5 1030.5,286.4 1031,286.3 1031.5,286.9 1032,286.9 1032.5,286.7 1033,286.6 1033.5,286.5 1034,286.6 1034.5,287 1035,286.7 1035.5,286.5 1036,286.6 1036.5,286.6 1037,286.7 1037.5,286.7 1038,286.6 1038.5,286.6 1039,286.6 1039.5,286.6 1040,286.8 1040.5,286.6 1041,286.6 1041.5,286.5 1042,286.5 1042.5,286.6 1043,286.7 1043.5,286.8 1044,286.6 1044.5,286.7 1045,286.7 1045.5,286.7 1046,286.8 1046.5,286.6 1047,286.7 1047.5,286.5 1048,286.6 1048.5,286.6 1049,286.8 1049.5,286.6 1050,286.6 1050.5,286.8 1051,286.7 1051.5,286.7 1052,286.9 1052.5,286.6 1053,286.5 1053.5,286.8 1054,286.6 1054.5,286.9 1055,286.7 1055.5,286.9 1056,286.5 1056.5,286.6 1057,286.7 1057.5,286.8 1058,286.5 1058.5,286.4 1059,286.9 1059.5,286.5 1060,286.4 1060.5,286.6 1061,286.8 1061.5,286.5 1062,286.7 1062.5,286.8 1063,286.8 1063.5,286.6 1064,286.5 1064.5,286.8 1065,286.6 1065.5,286.8 1066,286.5 1066.5,286.7 1067,286.7 1067.5,286.7 1068,286.5 1068.5,286.5 1069,286.6 1069.5,286.6 1070,286.6 1070.5,286.6 1071,286.6 1071.5,286.6 1072,286.7 1072.5,287 1073,286.5 1073.5,286.3 1074,286.6 1074.5,286.7 1075,286.7 1075.5,286.7 1076,286.7 1076.5,286.8 1077,286.7 1077.5,286.8 1078,286.6 1078.5,286.7 1079,286.6 1079.5,286.7 1080,286.5 1080.5,286.6 1081,286.3 1081.5,286.9 1082,286.8 1082.5,286.5 1083,286.3 1083.5,286.7 1084,286.7 1084.5,286.7 1085,286.5 1085.5,286.7 1086,286.6 1086.5,286.7 1087,286.8 1087.5,286.6 1088,286.6 1088.5,286.5 1089,286.7 1089.5,286.7 1090,286.6 1090.5,286.6 1091,286.6 1091.5,286.7 1092,286.5 1092.5,286.6 1093,286.4 1093.5,286.5 1094,286.6 1094.5,286.9 1095,286.6 1095.5,286.6 1096,286.5 1096.5,286.5 1097,286.7 1097.5,286.5 1098,286.7 1098.5,286.4 1099,286.9 1099.5,286.9 1100,286.9 1100.5,286.8 1101,286.8 1101.5,286.4 1102,286.7 1102.5,286.9 1103,286.5 1103.5,286.7 1104,286.8 1104.5,286.5 1105,286.6 1105.5,286.7 1106,286.4 1106.5,286.6 1107,286.4 1107.5,286.6 1108,286.4 1108.5,286.6 1109,286.8 1109.5,286.3 1110,286.7 1110.5,286.7 1111,286.8 1111.5,286.7 1112,286.6 1112.5,286.6 1113,286.5 1113.5,286.4 1114,286.7 1114.5,286.8 1115,286.8 1115.5,286.7 1116,286.9 1116.5,286.5 1117,286.7 1117.5,286.7 1118,286.6 1118.5,286.9 1119,286.8 1119.5,286.5 1120,286.6 1120.5,286.7 1121,286.4 1121.5,286.8 1122,286.7 1122.5,286.7 1123,287.1 1123.5,286.4 1124,286.6 1124.5,286.8 1125,286.3 1125.5,286.6 1126,286.6 1126.5,286.7 1127,286.6 1127.5,286.9 1128,286.5 1128.5,286.7 1129,286.6 1129.5,286.5 1130,286.6 1130.5,286.6 1131,286.6 1131.5,286.8 1132,286.5 1132.5,286.4 1133,286.5 1133.5,286.5 1134,286.8 1134.5,286.8 1135,286.9 1135.5,286.5 1136,286.7 1136.5,286.4 1137,286.8 1137.5,286.7 1138,286.6 1138.5,286.5 1139,286.6 1139.5,286.6 1140,286.6 1140.5,286.6 1141,286.8 1141.5,286.6 1142,286.7 1142.5,286.6 1143,286.6 1143.5,286.7 1144,286.6 1144.5,286.7 1145,286.6 1145.5,286.5 1146,286.8 1146.5,286.5 1147,286.3 1147.5,286.9 1148,286.8 1148.5,286.8 1149,286.7 1149.5,286.4 1150,286.6 1150.5,286.7 1151,286.5 1151.5,286.7 1152,286.5 1152.5,286.6 1153,286.4 1153.5,286.7 1154,286.2 1154.5,286.5 1155,286.5 1155.5,286.6 1156,286.7 1156.5,286.8 1157,286.6 1157.5,286.7 1158,286.6 1158.5,286.8 1159,286.5 1159.5,286.5 1160,286.7 1160.5,286.4 1161,286.7 1161.5,286.5 1162,286.6 1162.5,286.5 1163,286.8 1163.5,286.6 1164,286.4 1164.5,286.7 1165,286.9 1165.5,286.9 1166,287 1166.5,286.9 1167,286.7 1167.5,286.4 1168,286.7 1168.5,286.6 1169,286.6 1169.5,286.6 1170,286.6 1170.5,286.6 1171,286.6 1171.5,286.8 1172,286.5 1172.5,286.5 1173,286.6 1173.5,286.5 1174,286.7 1174.5,286.7 1175,286.6 1175.5,286.6 1176,286.7 1176.5,286.7 1177,286.7 1177.5,286.5 1178,286.9 1178.5,286.6 1179,286.6 1179.5,286.5 1180,286.5 1180.5,287 1181,286.5 1181.5,286.6 1182,286.6 1182.5,286.7 1183,286.5 1183.5,286.7 1184,286.3 1184.5,286.5 1185,286.3 1185.5,286.7 1186,286.9 1186.5,286.5 1187,286.5 1187.5,286.6 1188,286.8 1188.5,286.7 1189,286.5 1189.5,286.6 1190,286.6 1190.5,286.6 1191,286.7 1191.5,286.7 1192,286.8 1192.5,286.3 1193,286.7 1193.5,286.5 1194,286.8 1194.5,286.5 1195,286.9 1195.5,286.5 1196,286.6 1196.5,286.3 1197,286.8 1197.5,286.6 1198,286.5 1198.5,286.4 1199,286.7 1199.5,286.6 1200,286.9 1200.5,286.7 1201,286.5 1201.5,286.4 1202,286.6 1202.5,286.3 1203,286.3 1203.5,286.6 1204,287 1204.5,286.9 1205,286.7 1205.5,286.4 1206,286.5 1206.5,286.9 1207,286.6 1207.5,286.3 1208,286.6 1208.5,286.7 1209,286.3 1209.5,286.6 1210,286.7 1210.5,286.5 1211,286.6 1211.5,286.6 1212,286.4 1212.5,286.4 1213,286.5 1213.5,286.6 1214,286.4 1214.5,286.6 1215,286.5 1215.5,286.4 1216,286.5 1216.5,286.3 1217,286.5 1217.5,286.8 1218,286.7 1218.5,286.4 1219,286.6 1219.5,286.5 1220,286.7 1220.5,286.4 1221,286.6 1221.5,286.3 1222,286.6 1222.5,286.4 1223,286.5 1223.5,286.7 1224,286.4 1224.5,286.7 1225,286.7 1225.5,286.5 1226,286.7 1226.5,286.6 1227,286.6 1227.5,286.7 1228,286.4 1228.5,286.5 1229,286.6 1229.5,286.6 1230,286.5 1230.5,286.3 1231,286.4 1231.5,286.6 1232,286.4 1232.5,286.6 1233,286.6 1233.5,286.3 1234,286.6 1234.5,286.6 1235,286.8 1235.5,286.8 1236,286.5 1236.5,286.6 1237,286.5 1237.5,286.7 1238,286.7 1238.5,286.4 1239,286.3 1239.5,286.4 1240,286.4 1240.5,286.3 1241,286.4 1241.5,286.7 1242,286.5 1242.5,286.4 1243,286.6 1243.5,286.5 1244,286.8 1244.5,286.6 1245,286.4 1245.5,286.9 1246,286.7 1246.5,286.5 1247,286.8 1247.5,286.5 1248,286.6 1248.5,286.6 1249,286.6 1249.5,286.5 1250,286.6 1250.5,286.5 1251,286.6 1251.5,286.4 1252,286.3 1252.5,286.5 1253,286.5 1253.5,286.7 1254,286.4 1254.5,286.6 1255,286.6 1255.5,286.4 1256,286.5 1256.5,286.3 1257,286.3 1257.5,286.6 1258,286.5 1258.5,286.2 1259,286.3 1259.5,286.4 1260,286.3 1260.5,286.6 1261,286.4 1261.5,286.3 1262,286.2 1262.5,286.6 1263,286.5 1263.5,286.4 1264,286.5 1264.5,286.5 1265,286.4 1265.5,286.5 1266,286.7 1266.5,286.4 1267,286.5 1267.5,286.6 1268,286.7 1268.5,286.3 1269,286.8 1269.5,286.7 1270,286.5 1270.5,286.3 1271,286.3 1271.5,286.6 1272,286.5 1272.5,286.7 1273,286.3 1273.5,286.7 1274,286.5 1274.5,286.3 1275,286.5 1275.5,286.2 1276,286.6 1276.5,286.4 1277,286.3 1277.5,286.4 1278,286.2 1278.5,286.3 1279,286.7 1279.5,285.8 1280,286.3 1280.5,286.4 1281,286.6 1281.5,286.4 1282,286.5 1282.5,286.3 1283,286.3 1283.5,286.1 1284,286.4 1284.5,286.3 1285,286.3 1285.5,286.4 1286,286.4 1286.5,286.2 1287,286.3 1287.5,286.5 1288,286.5 1288.5,286.4 1289,286.2 1289.5,286.4 1290,286.1 1290.5,286.5 1291,286.3 1291.5,286.7 1292,286.4 1292.5,286.4 1293,286.3 1293.5,286.1 1294,286.3 1294.5,286.1 1295,286.2 1295.5,286.2 1296,286.4 1296.5,286.1 1297,286.5 1297.5,286.2 1298,286.4 1298.5,286.4 1299,286.5 1299.5,286.4 1300,286.2 1300.5,286.3 1301,286.5 1301.5,286 1302,286.2 1302.5,286.1 1303,286.1 1303.5,286.3 1304,286.5 1304.5,286.4 1305,286.1 1305.5,286.4 1306,286.1 1306.5,286.3 1307,286.2 1307.5,286.5 1308,286 1308.5,286.2 1309,286.1 1309.5,286.2 1310,286.1 1310.5,286.2 1311,286.1 1311.5,286.4 1312,286.3 1312.5,286 1313,286.2 1313.5,286.2 1314,286.2 1314.5,286.1 1315,286.2 1315.5,286 1316,286.2 1316.5,286.2 1317,285.9 1317.5,285.9 1318,286.2 1318.5,285.9 1319,286.2 1319.5,285.9 1320,286.3 1320.5,286.2 1321,286.1 1321.5,286 1322,285.8 1322.5,285.9 1323,285.8 1323.5,285.8 1324,286 1324.5,286 1325,285.8 1325.5,285.9 1326,286 1326.5,286.1 1327,285.9 1327.5,286.3 1328,286 1328.5,286 1329,285.8 1329.5,285.9 1330,285.9 1330.5,285.6 1331,286 1331.5,285.8 1332,286.1 1332.5,285.8 1333,285.7 1333.5,285.6 1334,285.9 1334.5,285.7 1335,285.7 1335.5,285.7 1336,285.7 1336.5,285.6 1337,285.6 1337.5,285.8 1338,285.8 1338.5,285.2 1339,285.3 1339.5,285.8 1340,285.5 1340.5,285.4 1341,285.4 1341.5,285.5 1342,285.6 1342.5,285.5 1343,285.5 1343.5,285.4 1344,285.4 1344.5,285.4 1345,285.2 1345.5,285.1 1346,285.5 1346.5,285.3 1347,285.3 1347.5,285 1348,285.2 1348.5,284.9 1349,285.2 1349.5,285.1 1350,285.3 1350.5,284.8 1351,285 1351.5,285.2 1352,285 1352.5,285.2 1353,284.8 1353.5,284.8 1354,284.7 1354.5,284.5 1355,284.7 1355.5,284.5 1356,284.5 1356.5,284.6 1357,284.8 1357.5,284.3 1358,284.5 1358.5,284.3 1359,284.5 1359.5,284.2 1360,284.1 1360.5,284.1 1361,284 1361.5,283.8 1362,283.7 1362.5,283.7 1363,283.2 1363.5,283.7 1364,283.6 1364.5,283.6 1365,283.3 1365.5,283.4 1366,283.6 1366.5,283.3 1367,283 1367.5,282.7 1368,283 1368.5,282.8 1369,282.6 1369.5,282.5 1370,282.2 1370.5,282.1 1371,281.9 1371.5,281.9 1372,281.4 1372.5,281.5 1373,281.1 1373.5,281.2 1374,280.8 1374.5,280.8 1375,280.6 1375.5,280.3 1376,280 1376.5,279.7 1377,279.2 1377.5,279.3 1378,279 1378.5,278.2 1379,278 1379.5,278 1380,277.2 1380.5,276.9 1381,276.7 1381.5,276 1382,275.4 1382.5,274.7 1383,274.1 1383.5,273.6 1384,272.7 1384.5,272.1 1385,271.4 1385.5,270.5 1386,269.4 1386.5,268.7 1387,267.2 1387.5,266.2 1388,264.7 1388.5,263.2 1389,261.5 1389.5,260.2 1390,258.1 1390.5,255.9 1391,253.8 1391.5,251.1 1392,248.8 1392.5,245.5 1393,242.3 1393.5,238.8 1394,234.9 1394.5,231.2 1395,226.6 1395.5,222.3 1396,217.4 1396.5,212.8 1397,207.9 1397.5,203.3 1398,199.4 1398.5,195.6 1399,192.6 1399.5,190.6 1400,189.7 1400.5,189.4 1401,190.9 1401.5,192.9 1402,196.3 1402.5,200.2 1403,204.3 1403.5,209 1404,213.3 1404.5,218.4 1405,223 1405.5,227.6 1406,231.9 1406.5,235.8 1407,239.5 1407.5,242.9 1408,246.2 1408.5,249.1 1409,251.9 1409.5,254.2 1410,256.3 1410.5,258.3 1411,260.3 1411.5,262.1 1412,263.5 1412.5,264.9 1413,266.3 1413.5,267.5 1414,268.6 1414.5,269.5 1415,270.6 1415.5,271.4 1416,272.2 1416.5,272.9 1417,273.5 1417.5,274.2 1418,274.9 1418.5,275.7 1419,275.9 1419.5,276.2 1420,277.1 1420.5,277.6 1421,277.8 1421.5,278 1422,278.5 1422.5,278.9 1423,279.2 1423.5,279.3 1424,279.7 1424.5,279.7 1425,280.1 1425.5,280.5 1426,280.6 1426.5,281 1427,281.3 1427.5,281.3 1428,281.4 1428.5,281.9 1429,281.9 1429.5,282.1 1430,282.1 1430.5,282.3 1431,282.4 1431.5,282.5 1432,282.5 1432.5,283.1 1433,282.7 1433.5,282.8 1434,283.1 1434.5,283.1 1435,283.2 1435.5,283.5 1436,283.5 1436.5,283.5 1437,283.6 1437.5,283.6 1438,283.8 1438.5,283.9 1439,284.1 1439.5,284.1 1440,284.2 1440.5,283.9 1441,284.2 1441.5,284.4 1442,284.3 1442.5,284.4 1443,284.9 1443.5,284.4 1444,284.8 1444.5,284.5 1445,284.8 1445.5,284.9 1446,284.6 1446.5,285 1447,284.9 1447.5,284.8 1448,284.8 1448.5,284.8 1449,285 1449.5,285.1 1450,284.7 1450.5,285.1 1451,284.8 1451.5,285.2 1452,285 1452.5,285 1453,285.4 1453.5,285.2 1454,285.1 1454.5,285.2 1455,285.3 1455.5,285.3 1456,285.4 1456.5,285.6 1457,285.3 1457.5,285.5 1458,285.2 1458.5,285.4 1459,285.6 1459.5,285.5 1460,285.6 1460.5,285.7 1461,285.5 1461.5,285.7 1462,285.4 1462.5,285.5 1463,285.8 1463.5,285.7 1464,285.7 1464.5,285.9 1465,285.6 1465.5,285.6 1466,285.6 1466.5,285.8 1467,285.6 1467.5,285.8 1468,285.6 1468.5,285.5 1469,285.8 1469.5,286 1470,285.9 1470.5,285.8 1471,285.7 1471.5,286 1472,285.9 1472.5,285.9 1473,285.8 1473.5,285.8 1474,286.1 1474.5,286 1475,285.8 1475.5,285.9 1476,285.9 1476.5,285.8 1477,286 1477.5,285.9 1478,286.1 1478.5,286.2 1479,286.2 1479.5,286 1480,286.1 1480.5,286.1 1481,286 1481.5,286.2 1482,286.1 1482.5,286.1 1483,286.2 1483.5,286.4 1484,285.9 1484.5,286.1 1485,286.5 1485.5,286.2 1486,286.1 1486.5,286.2 1487,286.1 1487.5,286.3 1488,286.1 1488.5,286.2 1489,286.2 1489.5,286.2 1490,286.1 1490.5,286 1491,286.3 1491.5,286.3 1492,286.2 1492.5,286.2 1493,286.2 1493.5,286.1 1494,286 1494.5,286.2 1495,286.6 1495.5,286.2 1496,286.2 1496.5,286.3 1497,286.3 1497.5,286.6 1498,286.2 1498.5,286.3 1499,286.5 1499.5,286.4 1500,286.4 1500.5,286.2 1501,286.2 1501.5,286.1 1502,286.2 1502.5,286.5 1503,286.5 1503.5,286.1 1504,286.1 1504.5,286.3 1505,286.2 1505.5,286.5 1506,286.6 1506.5,286.5 1507,286.4 1507.5,286.4 1508,286.4 1508.5,286.4 1509,286.2 1509.5,286.1 1510,286.3 1510.5,286 1511,286.5 1511.5,286.4 1512,286.3 1512.5,286.4 1513,286.2 1513.5,286.5 1514,286.2 1514.5,286.3 1515,286 1515.5,286.5 1516,286.4 1516.5,286.4 1517,286.7 1517.5,286.3 1518,286.3 1518.5,286.4 1519,286.6 1519.5,286.6 1520,286.3 1520.5,286.2 1521,286.2 1521.5,286.5 1522,286.6 1522.5,286.5 1523,286.7 1523.5,286.5 1524,286.3 1524.5,286.2 1525,286.4 1525.5,286.2 1526,286.4 1526.5,286.4 1527,286.5 1527.5,286.4 1528,286.5 1528.5,286.5 1529,286.5 1529.5,286.4 1530,286.4 1530.5,286.7 1531,286.5 1531.5,286.6 1532,286.8 1532.5,286.4 1533,286.2 1533.5,286.1 1534,286.2 1534.5,286.6 1535,286.3 1535.5,286.3 1536,286.8 1536.5,286.3 1537,286.4 1537.5,286.5 1538,286.4 1538.5,286.5 1539,286.2 1539.5,286.5 1540,286.5 1540.5,286.5 1541,286.4 1541.5,286.8 1542,286.3 1542.5,286.5 1543,286.4 1543.5,286.5 1544,286.5 1544.5,286.6 1545,286.5 1545.5,286.5 1546,286.3 1546.5,286.5 1547,286.5 1547.5,286.2 1548,286.7 1548.5,286.7 1549,286.5 1549.5,286.5 1550,286.8 1550.5,286.6 1551,286.6 1551.5,286.3 1552,286.6 1552.5,286.4 1553,286.5 1553.5,286.6 1554,286.5 1554.5,286.5 1555,286.9 1555.5,286.5 1556,286.6 1556.5,286.3 1557,286.6 1557.5,286.4 1558,286.9 1558.5,286.4 1559,286.5 1559.5,286.6 1560,286.6 1560.5,286.6 1561,286.5 1561.5,286.6 1562,286.8 1562.5,286.6 1563,286.2 1563.5,286.5 1564,286.5 1564.5,286.6 1565,286.5 1565.5,286.5 1566,286.6 1566.5,286.4 1567,286.7 1567.5,286.6 1568,286.5 1568.5,286.6 1569,286.7 1569.5,286.5 1570,286.7 1570.5,286.6 1571,286.7 1571.5,286.6 1572,286.6 1572.5,286.6 1573,286.5 1573.5,286.3 1574,286.6 1574.5,286.5 1575,286.6 1575.5,286.5 1576,286.4 1576.5,286.6 1577,286.7 1577.5,286.7 1578,286.7 1578.5,286.6 1579,286.4 1579.5,286.8 1580,286.7 1580.5,286.7 1581,286.8 1581.5,286.4 1582,286.6 1582.5,286.3 1583,286.8 1583.5,286.4 1584,286.7 1584.5,286.6 1585,286.7 1585.5,286.7 1586,286.8 1586.5,286.5 1587,286.8 1587.5,286.6 1588,286.6 1588.5,286.5 1589,286.6 1589.5,286.5 1590,286.5 1590.5,286.6 1591,286.5 1591.5,286.7 1592,286.7 1592.5,286.3 1593,286.6 1593.5,286.7 1594,286.4 1594.5,286.6 1595,286.7 1595.5,286.8 1596,286.5 1596.5,286.8 1597,286.7 1597.5,286.5 1598,286.6 1598.5,286.6 1599,286.6 1599.5,286.4 1600,286.3 1600.5,286.7 1601,286.5 1601.5,286.3 1602,286.4 1602.5,286.7 1603,286.7 1603.5,286.7 1604,286.7 1604.5,286.7 1605,286.6 1605.5,286.7 1606,286.5 1606.5,286.6 1607,286.7 1607.5,286.5 1608,286.6 1608.5,286.6 1609,286.4 1609.5,286.5 1610,286.6 1610.5,286.5 1611,286.6 1611.5,286.2 1612,286.4 1612.5,286.4 1613,286.4 1613.5,286.6 1614,286.4 1614.5,286.6 1615,286.7 1615.5,286.7 1616,286.5 1616.5,286.8 1617,286.6 1617.5,286.7 1618,286.5 1618.5,286.7 1619,286.3 1619.5,286.5 1620,286.8 1620.5,286.3 1621,286.6 1621.5,286.7 1622,286.8 1622.5,286.5 1623,286.4 1623.5,286.7 1624,286.8 1624.5,286.8 1625,286.4 1625.5,286.4 1626,286.7 1626.5,286.5 1627,286.6 1627.5,286.6 1628,286.5 1628.5,286.6 1629,286.6 1629.5,286.7 1630,286.5 1630.5,286.7 1631,286.6 1631.5,286.6 1632,286.8 1632.5,286.7 1633,286.7 1633.5,286.6 1634,286.8 1634.5,286.8 1635,286.4 1635.5,286.5 1636,286.5 1636.5,286.4 1637,286.6 1637.5,286.6 1638,286.6 1638.5,286.9 1639,286.8 1639.5,286.5 1640,286.6 1640.5,286.8 1641,286.5 1641.5,286.5 1642,286.5 1642.5,286.6 1643,286.8 1643.5,286.6 1644,286.6 1644.5,286.7 1645,286.5 1645.5,286.6 1646,286.6 1646.5,286.9 1647,286.5 1647.5,286.4 1648,286.7" fill="none" stroke="#79b4e0" stroke-width="3.5" stroke-linejoin="round" /><rect x="1269.5" y="274.2" width="3.4" height="12.2" rx="1.6" fill="#79b4e0"/><rect x="1277.9" y="272.2" width="3.4" height="14.2" rx="1.6" fill="#79b4e0"/><rect x="1284.8" y="276.2" width="4.4" height="10.2" rx="1.6" fill="#79b4e0"/><rect x="1303.3" y="274" width="3.4" height="12.2" rx="1.6" fill="#79b4e0"/><rect x="1319" y="278.8" width="3.9" height="7.2" rx="1.6" fill="#79b4e0"/><rect x="1368.8" y="276.9" width="3.4" height="5.2" rx="1.6" fill="#79b4e0"/><rect x="1501.3" y="278.1" width="3.4" height="8.2" rx="1.6" fill="#79b4e0"/><rect x="1513" y="227.2" width="3.4" height="59.2" rx="1.6" fill="#79b4e0"/><rect x="1520.2" y="229.2" width="3.4" height="57.2" rx="1.6" fill="#79b4e0"/><rect x="1530.3" y="200.9" width="3.4" height="85.6" rx="1.6" fill="#79b4e0"/><rect x="1547.6" y="277.8" width="3.4" height="8.7" rx="1.6" fill="#79b4e0"/><rect x="1561.5" y="278.3" width="3.9" height="8.2" rx="1.6" fill="#79b4e0"/><rect x="1590.5" y="282.9" width="3.4" height="3.7" rx="1.6" fill="#79b4e0"/><rect x="1229.4" y="282.9" width="3.4" height="3.7" rx="1.6" fill="#79b4e0"/><rect x="1136.3" y="283.4" width="3.4" height="3.2" rx="1.6" fill="#79b4e0"/><rect x="1557.3" y="282.3" width="3.4" height="4.2" rx="1.6" fill="#79b4e0"/>
<path d="M997,392.2 997.5,392.2 998,392.5 998.5,391.9 999,392.4 999.5,392.3 1000,392.1 1000.5,392.4 1001,392.3 1001.5,392.3 1002,392.1 1002.5,391.8 1003,392.2 1003.5,392.3 1004,392.1 1004.5,392.3 1005,392.2 1005.5,392 1006,392.3 1006.5,392.2 1007,392.3 1007.5,392.2 1008,392.1 1008.5,392.3 1009,392.2 1009.5,392.2 1010,392.3 1010.5,392.3 1011,392.4 1011.5,392.2 1012,392.2 1012.5,391.8 1013,392.5 1013.5,392.1 1014,392.1 1014.5,392 1015,392.1 1015.5,392.3 1016,392.2 1016.5,392.1 1017,392.2 1017.5,392 1018,392.4 1018.5,391.9 1019,391.9 1019.5,392.2 1020,392.1 1020.5,392.2 1021,392.3 1021.5,392.2 1022,392 1022.5,392.2 1023,392.2 1023.5,392.2 1024,392.1 1024.5,392 1025,392.3 1025.5,392.1 1026,392.1 1026.5,392.4 1027,392.2 1027.5,392.2 1028,392.2 1028.5,392.1 1029,392.5 1029.5,392.2 1030,392.3 1030.5,392.4 1031,392.1 1031.5,392.1 1032,392.3 1032.5,392 1033,392.2 1033.5,392.2 1034,392.3 1034.5,391.9 1035,392.6 1035.5,392.2 1036,392.1 1036.5,392.5 1037,392.2 1037.5,392.2 1038,392 1038.5,392 1039,392.2 1039.5,392.4 1040,392 1040.5,392 1041,392.2 1041.5,392.1 1042,392.1 1042.5,392.1 1043,392.1 1043.5,391.9 1044,392.4 1044.5,392 1045,392.1 1045.5,392.2 1046,392 1046.5,392.5 1047,392 1047.5,392.1 1048,392.3 1048.5,392.1 1049,392.2 1049.5,391.8 1050,391.9 1050.5,392.1 1051,392.3 1051.5,392.2 1052,392.2 1052.5,392.2 1053,392.3 1053.5,392.2 1054,392.2 1054.5,392.2 1055,392.3 1055.5,392.3 1056,391.8 1056.5,392.4 1057,392.3 1057.5,392.1 1058,392.2 1058.5,392.1 1059,392 1059.5,392 1060,392 1060.5,392.3 1061,392 1061.5,392.4 1062,392.2 1062.5,392.2 1063,392.3 1063.5,392.1 1064,392.2 1064.5,392 1065,392.4 1065.5,392 1066,392.1 1066.5,392.1 1067,392.4 1067.5,392.2 1068,392.4 1068.5,392.5 1069,391.7 1069.5,392 1070,391.9 1070.5,392.2 1071,392 1071.5,392 1072,392.1 1072.5,392.2 1073,392.2 1073.5,392.5 1074,392.1 1074.5,392.1 1075,392 1075.5,392.2 1076,391.9 1076.5,392.2 1077,392.3 1077.5,392 1078,392.2 1078.5,392.3 1079,392.1 1079.5,392 1080,392.1 1080.5,392.1 1081,391.5 1081.5,392 1082,391.9 1082.5,392.4 1083,392.1 1083.5,392 1084,392.2 1084.5,392.3 1085,392.1 1085.5,392.2 1086,392.2 1086.5,392 1087,391.9 1087.5,392.1 1088,392.2 1088.5,392.1 1089,392 1089.5,392.1 1090,392.4 1090.5,392.2 1091,392.1 1091.5,392.1 1092,392 1092.5,392 1093,392.3 1093.5,392.3 1094,392.3 1094.5,391.9 1095,392.1 1095.5,392.1 1096,392 1096.5,392.2 1097,392.3 1097.5,392.2 1098,392.2 1098.5,391.9 1099,392 1099.5,392.3 1100,392 1100.5,392 1101,392.3 1101.5,392.2 1102,392.4 1102.5,392.1 1103,392.2 1103.5,392.3 1104,392.2 1104.5,392.1 1105,392.2 1105.5,392.1 1106,392.1 1106.5,392.3 1107,392.2 1107.5,391.8 1108,392.1 1108.5,392.3 1109,392.1 1109.5,392.3 1110,392 1110.5,392.1 1111,392 1111.5,392 1112,392.1 1112.5,392 1113,392.1 1113.5,392.2 1114,392.3 1114.5,392.2 1115,392.5 1115.5,391.9 1116,392.4 1116.5,392.1 1117,392.3 1117.5,392.4 1118,392.1 1118.5,392.2 1119,392.2 1119.5,392.1 1120,392.2 1120.5,392.1 1121,392.1 1121.5,392.2 1122,392.2 1122.5,392.1 1123,392.1 1123.5,392.1 1124,392.5 1124.5,392.1 1125,392.1 1125.5,392.2 1126,392.1 1126.5,391.8 1127,392.1 1127.5,392 1128,392.3 1128.5,392.3 1129,392.2 1129.5,392.3 1130,392.1 1130.5,392.3 1131,392.2 1131.5,392.3 1132,392.4 1132.5,392.2 1133,392.3 1133.5,392.2 1134,392.2 1134.5,392.2 1135,392 1135.5,391.9 1136,392 1136.5,392.2 1137,391.9 1137.5,392.4 1138,392.4 1138.5,392.1 1139,392.1 1139.5,392.1 1140,392.1 1140.5,392.4 1141,392.3 1141.5,391.9 1142,392 1142.5,392.2 1143,391.8 1143.5,392.3 1144,392.2 1144.5,392.1 1145,392.3 1145.5,392.2 1146,392.1 1146.5,392.2 1147,392 1147.5,392 1148,392.3 1148.5,392.2 1149,392.1 1149.5,392.1 1150,392.2 1150.5,392.1 1151,392 1151.5,392.2 1152,392 1152.5,392.4 1153,392.4 1153.5,392 1154,392.2 1154.5,392.3 1155,392.2 1155.5,392.2 1156,392.1 1156.5,392.3 1157,392.2 1157.5,391.6 1158,392.1 1158.5,392.4 1159,392 1159.5,392 1160,391.9 1160.5,392.1 1161,392.2 1161.5,391.9 1162,392 1162.5,392.4 1163,392 1163.5,392.1 1164,391.9 1164.5,392.2 1165,392 1165.5,392.1 1166,392 1166.5,392.1 1167,392.2 1167.5,392.1 1168,392 1168.5,392 1169,391.9 1169.5,392 1170,392 1170.5,391.8 1171,392.1 1171.5,392 1172,392.2 1172.5,392.1 1173,391.9 1173.5,392.1 1174,391.9 1174.5,392.3 1175,392.3 1175.5,392.1 1176,392.3 1176.5,391.7 1177,391.9 1177.5,392.3 1178,392.1 1178.5,392.2 1179,392 1179.5,392.1 1180,392 1180.5,391.9 1181,392.1 1181.5,392.3 1182,392 1182.5,392.1 1183,391.9 1183.5,392.1 1184,392 1184.5,392 1185,392.1 1185.5,392.2 1186,392 1186.5,391.7 1187,392 1187.5,392.1 1188,392 1188.5,392.1 1189,392.3 1189.5,392 1190,391.9 1190.5,392.1 1191,392.3 1191.5,392 1192,391.8 1192.5,391.9 1193,391.9 1193.5,391.7 1194,391.8 1194.5,392 1195,392.1 1195.5,392.1 1196,392.1 1196.5,391.9 1197,392.2 1197.5,391.8 1198,392.1 1198.5,392.1 1199,392 1199.5,392.4 1200,392.2 1200.5,392.2 1201,391.9 1201.5,392.1 1202,391.9 1202.5,392.1 1203,392 1203.5,392.2 1204,391.9 1204.5,392.1 1205,392 1205.5,392.1 1206,392.2 1206.5,392.1 1207,391.9 1207.5,392.2 1208,392.3 1208.5,392.1 1209,391.9 1209.5,392.2 1210,392.1 1210.5,392 1211,392.1 1211.5,392 1212,391.9 1212.5,392.1 1213,392.1 1213.5,391.9 1214,392.1 1214.5,392.2 1215,392.2 1215.5,392.2 1216,391.8 1216.5,392.1 1217,392 1217.5,391.9 1218,392.2 1218.5,391.9 1219,392.1 1219.5,392.4 1220,392.1 1220.5,392.2 1221,392.1 1221.5,392 1222,391.7 1222.5,392.1 1223,392.1 1223.5,392 1224,392 1224.5,392.1 1225,392.2 1225.5,392.2 1226,392.1 1226.5,392.2 1227,392.1 1227.5,392.2 1228,391.9 1228.5,392.3 1229,391.7 1229.5,392.1 1230,392.2 1230.5,392.2 1231,391.9 1231.5,391.9 1232,392.1 1232.5,392 1233,392 1233.5,392.1 1234,392 1234.5,391.9 1235,392.3 1235.5,392.3 1236,392 1236.5,392 1237,391.9 1237.5,392.3 1238,392.2 1238.5,391.8 1239,392.2 1239.5,391.9 1240,392.1 1240.5,392.1 1241,392.2 1241.5,391.8 1242,392.3 1242.5,392.2 1243,392.1 1243.5,391.8 1244,391.9 1244.5,391.9 1245,392 1245.5,392 1246,391.9 1246.5,391.8 1247,391.9 1247.5,392.2 1248,391.8 1248.5,392 1249,392.1 1249.5,392 1250,392.1 1250.5,391.7 1251,392 1251.5,392.3 1252,391.9 1252.5,392.1 1253,391.8 1253.5,391.9 1254,392.2 1254.5,392 1255,392.1 1255.5,392.1 1256,392.1 1256.5,392.3 1257,391.9 1257.5,392.1 1258,392.1 1258.5,391.8 1259,391.7 1259.5,392 1260,391.7 1260.5,392.2 1261,391.9 1261.5,392 1262,391.9 1262.5,392.1 1263,392 1263.5,392 1264,392 1264.5,391.9 1265,391.6 1265.5,392 1266,391.9 1266.5,392.2 1267,392.3 1267.5,391.7 1268,392.1 1268.5,392 1269,391.9 1269.5,391.8 1270,391.9 1270.5,391.6 1271,391.9 1271.5,392.2 1272,391.9 1272.5,391.9 1273,392 1273.5,391.9 1274,392 1274.5,391.6 1275,392 1275.5,392.1 1276,391.8 1276.5,392.1 1277,391.8 1277.5,391.8 1278,392 1278.5,391.9 1279,391.9 1279.5,391.6 1280,391.8 1280.5,392 1281,392 1281.5,391.9 1282,391.8 1282.5,392 1283,391.8 1283.5,391.9 1284,391.7 1284.5,391.8 1285,391.8 1285.5,391.8 1286,391.9 1286.5,391.7 1287,391.7 1287.5,391.9 1288,391.8 1288.5,391.9 1289,391.4 1289.5,391.9 1290,391.7 1290.5,391.7 1291,391.9 1291.5,391.8 1292,391.8 1292.5,391.7 1293,391.7 1293.5,391.6 1294,391.6 1294.5,391.8 1295,391.8 1295.5,391.8 1296,391.9 1296.5,392 1297,391.6 1297.5,391.7 1298,391.8 1298.5,392 1299,391.9 1299.5,392.1 1300,391.7 1300.5,391.6 1301,391.6 1301.5,391.7 1302,391.8 1302.5,391.7 1303,391.7 1303.5,391.6 1304,391.5 1304.5,391.7 1305,391.7 1305.5,391.5 1306,391.6 1306.5,391.7 1307,392 1307.5,391.7 1308,391.5 1308.5,391.6 1309,391.5 1309.5,391.6 1310,391.6 1310.5,391.5 1311,391.5 1311.5,391.5 1312,391.4 1312.5,391.4 1313,391.3 1313.5,391.8 1314,391.6 1314.5,391.6 1315,391.6 1315.5,391.8 1316,391.3 1316.5,391.6 1317,391.5 1317.5,391.8 1318,391.5 1318.5,391.5 1319,391.6 1319.5,391.3 1320,391.1 1320.5,391.6 1321,391.5 1321.5,391.1 1322,391.3 1322.5,391.4 1323,391.6 1323.5,391.3 1324,391.3 1324.5,391.1 1325,391.5 1325.5,391.3 1326,391.4 1326.5,391.3 1327,391.1 1327.5,391.1 1328,391.4 1328.5,391.3 1329,391.3 1329.5,391.1 1330,391.2 1330.5,391.4 1331,391.2 1331.5,391.2 1332,391 1332.5,390.9 1333,390.9 1333.5,391.1 1334,391.2 1334.5,391 1335,391.1 1335.5,391.1 1336,391 1336.5,390.9 1337,390.9 1337.5,391.1 1338,391.2 1338.5,390.9 1339,391.1 1339.5,390.7 1340,391 1340.5,390.9 1341,391.1 1341.5,390.5 1342,390.9 1342.5,390.8 1343,390.8 1343.5,390.8 1344,390.6 1344.5,390.6 1345,390.6 1345.5,390.4 1346,390.8 1346.5,390.4 1347,390.3 1347.5,390.7 1348,390.4 1348.5,390.6 1349,390.7 1349.5,390.5 1350,390.3 1350.5,390.2 1351,390.3 1351.5,390.4 1352,390.3 1352.5,390.3 1353,390.2 1353.5,390.4 1354,390.1 1354.5,390 1355,389.6 1355.5,389.8 1356,389.9 1356.5,389.8 1357,389.7 1357.5,389.8 1358,389.9 1358.5,389.7 1359,389.5 1359.5,389.4 1360,389.5 1360.5,389.5 1361,389.3 1361.5,389.2 1362,389 1362.5,389.1 1363,388.9 1363.5,389 1364,388.7 1364.5,388.7 1365,388.8 1365.5,388.6 1366,388.4 1366.5,388.5 1367,388.1 1367.5,388.2 1368,387.9 1368.5,388 1369,387.7 1369.5,387.5 1370,387.6 1370.5,387.4 1371,387.3 1371.5,387 1372,386.9 1372.5,386.7 1373,386.6 1373.5,386.6 1374,386.4 1374.5,386.1 1375,385.7 1375.5,385.2 1376,385.2 1376.5,385.2 1377,385.1 1377.5,384.5 1378,384.3 1378.5,384.2 1379,383.5 1379.5,383.3 1380,383 1380.5,382.9 1381,382 1381.5,381.7 1382,381.3 1382.5,381 1383,380.4 1383.5,379.6 1384,379.1 1384.5,378.3 1385,377.8 1385.5,377.2 1386,376.3 1386.5,375.6 1387,375 1387.5,374 1388,372.8 1388.5,371.9 1389,370.7 1389.5,369.6 1390,367.8 1390.5,366.8 1391,365.1 1391.5,363.4 1392,361.3 1392.5,359.3 1393,357.4 1393.5,354.9 1394,352.6 1394.5,349.8 1395,346.6 1395.5,343.7 1396,340.6 1396.5,337.3 1397,333.6 1397.5,329.9 1398,326.2 1398.5,321.9 1399,318 1399.5,314.3 1400,310.6 1400.5,307.8 1401,304.7 1401.5,302.9 1402,301.2 1402.5,300.5 1403,300.5 1403.5,301.2 1404,303.1 1404.5,305.4 1405,308.4 1405.5,311.4 1406,315.2 1406.5,319 1407,322.8 1407.5,326.5 1408,330.6 1408.5,334.4 1409,337.8 1409.5,341.5 1410,344.7 1410.5,347.3 1411,350.3 1411.5,352.7 1412,355.7 1412.5,357.6 1413,359.9 1413.5,361.4 1414,363.7 1414.5,365.4 1415,366.8 1415.5,368.3 1416,369.7 1416.5,370.7 1417,371.9 1417.5,372.9 1418,374 1418.5,375.1 1419,375.9 1419.5,376.5 1420,377.5 1420.5,377.8 1421,378.7 1421.5,379.4 1422,379.7 1422.5,380.4 1423,380.7 1423.5,381.4 1424,381.6 1424.5,382.3 1425,383 1425.5,383.3 1426,383.6 1426.5,383.6 1427,383.8 1427.5,384.4 1428,384.8 1428.5,384.8 1429,385.1 1429.5,385.4 1430,385.5 1430.5,385.8 1431,386.2 1431.5,386.1 1432,386.5 1432.5,386.7 1433,386.8 1433.5,386.7 1434,386.8 1434.5,387 1435,387.5 1435.5,387.7 1436,387.6 1436.5,387.8 1437,387.9 1437.5,388.2 1438,388.3 1438.5,388.4 1439,388.2 1439.5,388.3 1440,388.6 1440.5,388.5 1441,388.6 1441.5,388.9 1442,388.9 1442.5,388.9 1443,389.2 1443.5,388.9 1444,389.2 1444.5,389.3 1445,389.4 1445.5,389.6 1446,389.4 1446.5,389.5 1447,389.6 1447.5,389.7 1448,389.6 1448.5,389.8 1449,389.9 1449.5,389.8 1450,389.8 1450.5,389.9 1451,390.1 1451.5,389.9 1452,390.1 1452.5,390 1453,390.2 1453.5,390.3 1454,390.4 1454.5,390.4 1455,390.3 1455.5,390.7 1456,390.3 1456.5,390.2 1457,390.5 1457.5,390.6 1458,390.8 1458.5,390.5 1459,390.5 1459.5,390.6 1460,390.5 1460.5,390.7 1461,390.7 1461.5,390.7 1462,390.8 1462.5,390.7 1463,390.7 1463.5,390.8 1464,391 1464.5,390.9 1465,390.7 1465.5,391.1 1466,390.9 1466.5,391.1 1467,390.6 1467.5,391.1 1468,390.9 1468.5,391.1 1469,390.5 1469.5,391.2 1470,391 1470.5,391.3 1471,391 1471.5,391.3 1472,391.2 1472.5,391.4 1473,391.2 1473.5,391.2 1474,390.9 1474.5,391.5 1475,391.1 1475.5,391.2 1476,391.3 1476.5,391.3 1477,391.2 1477.5,391.3 1478,391.3 1478.5,391.4 1479,391.4 1479.5,391.2 1480,391.5 1480.5,391.4 1481,391.3 1481.5,391.3 1482,391.3 1482.5,391.4 1483,391.7 1483.5,391.3 1484,391.3 1484.5,391.2 1485,391.4 1485.5,391.3 1486,391.5 1486.5,391.6 1487,391.5 1487.5,391.5 1488,391.3 1488.5,391.4 1489,391.6 1489.5,391.6 1490,391.5 1490.5,391.5 1491,391.3 1491.5,391.6 1492,391.3 1492.5,391.8 1493,391.7 1493.5,391.3 1494,391.5 1494.5,391.6 1495,391.5 1495.5,391.6 1496,391.6 1496.5,391.6 1497,391.6 1497.5,391.6 1498,391.7 1498.5,391.6 1499,391.7 1499.5,391.6 1500,391.7 1500.5,391.6 1501,391.6 1501.5,391.8 1502,391.7 1502.5,391.7 1503,391.6 1503.5,391.5 1504,391.7 1504.5,391.8 1505,391.7 1505.5,391.7 1506,391.6 1506.5,391.5 1507,391.4 1507.5,392 1508,391.8 1508.5,391.7 1509,391.6 1509.5,391.6 1510,391.7 1510.5,391.6 1511,391.8 1511.5,391.8 1512,391.7 1512.5,391.9 1513,391.5 1513.5,391.9 1514,391.9 1514.5,391.7 1515,392.1 1515.5,391.9 1516,391.8 1516.5,391.6 1517,391.3 1517.5,391.8 1518,392 1518.5,391.8 1519,391.7 1519.5,392 1520,391.8 1520.5,391.6 1521,391.8 1521.5,391.9 1522,391.9 1522.5,392.1 1523,391.9 1523.5,391.9 1524,391.6 1524.5,392.1 1525,392.1 1525.5,391.8 1526,391.8 1526.5,391.9 1527,391.8 1527.5,391.8 1528,391.8 1528.5,391.8 1529,391.8 1529.5,392.1 1530,391.8 1530.5,391.9 1531,392 1531.5,391.9 1532,391.9 1532.5,392 1533,391.9 1533.5,392 1534,392.1 1534.5,391.6 1535,391.8 1535.5,391.6 1536,391.9 1536.5,391.7 1537,391.9 1537.5,391.7 1538,391.8 1538.5,391.8 1539,391.9 1539.5,391.9 1540,391.7 1540.5,392.2 1541,392 1541.5,392.1 1542,392.1 1542.5,391.8 1543,391.8 1543.5,392 1544,391.8 1544.5,392 1545,392 1545.5,391.9 1546,391.9 1546.5,392 1547,392.1 1547.5,391.9 1548,391.7 1548.5,392 1549,392 1549.5,392.1 1550,392 1550.5,392.1 1551,391.9 1551.5,391.7 1552,391.9 1552.5,392.1 1553,391.8 1553.5,392.2 1554,391.8 1554.5,391.9 1555,392.1 1555.5,392 1556,392.1 1556.5,391.7 1557,391.9 1557.5,392.1 1558,392.1 1558.5,392 1559,392.1 1559.5,392 1560,391.9 1560.5,392.2 1561,391.9 1561.5,391.7 1562,391.9 1562.5,391.9 1563,392.1 1563.5,392.1 1564,392 1564.5,392.1 1565,392.2 1565.5,391.9 1566,392.1 1566.5,392 1567,392 1567.5,391.9 1568,391.9 1568.5,391.9 1569,392.1 1569.5,391.9 1570,392.1 1570.5,392 1571,392.1 1571.5,392 1572,392.1 1572.5,391.8 1573,392 1573.5,392.1 1574,392.3 1574.5,392.1 1575,391.8 1575.5,392.1 1576,391.9 1576.5,392.1 1577,392.1 1577.5,392.2 1578,392 1578.5,391.9 1579,391.9 1579.5,392 1580,392.2 1580.5,392 1581,392.2 1581.5,392.2 1582,392 1582.5,392.2 1583,392 1583.5,392.1 1584,391.8 1584.5,392.1 1585,392 1585.5,391.9 1586,392 1586.5,392 1587,392.3 1587.5,391.9 1588,392.3 1588.5,392.2 1589,392.4 1589.5,392.1 1590,392.2 1590.5,392.1 1591,392.2 1591.5,392.1 1592,392.2 1592.5,392.1 1593,391.9 1593.5,392.4 1594,392.1 1594.5,392.1 1595,392.3 1595.5,392.1 1596,391.9 1596.5,392 1597,392.2 1597.5,392 1598,392 1598.5,392.3 1599,392.1 1599.5,392.1 1600,392.1 1600.5,392 1601,392.1 1601.5,392.1 1602,392.2 1602.5,392.1 1603,392.2 1603.5,392 1604,392.1 1604.5,392.2 1605,392 1605.5,391.7 1606,392.1 1606.5,391.9 1607,392.2 1607.5,392.1 1608,391.9 1608.5,391.9 1609,391.8 1609.5,392.2 1610,392.1 1610.5,391.9 1611,391.9 1611.5,392.2 1612,392.1 1612.5,391.9 1613,391.9 1613.5,392.2 1614,392 1614.5,392.4 1615,391.9 1615.5,391.8 1616,392.2 1616.5,392.1 1617,392.3 1617.5,392.2 1618,392 1618.5,392 1619,392 1619.5,392.3 1620,392.2 1620.5,391.8 1621,392.1 1621.5,392.2 1622,392.1 1622.5,392.2 1623,392.1 1623.5,392.2 1624,392.2 1624.5,392.3 1625,391.8 1625.5,392 1626,392 1626.5,392 1627,392.1 1627.5,392.3 1628,392 1628.5,392 1629,392 1629.5,392.2 1630,392.3 1630.5,392 1631,392 1631.5,392.1 1632,392.1 1632.5,392.1 1633,392.2 1633.5,392.3 1634,392.1 1634.5,392.2 1635,392.1 1635.5,392.1 1636,392.1 1636.5,392.3 1637,392 1637.5,391.8 1638,392.1 1638.5,392 1639,392 1639.5,392.1 1640,392.1 1640.5,392.3 1641,392.2 1641.5,391.9 1642,392.1 1642.5,392.1 1643,391.8 1643.5,392.4 1644,392 1644.5,392 1645,392.4 1645.5,392.2 1646,392 1646.5,392.2 1647,392.2 1647.5,392 1648,392.1" fill="none" stroke="#f0695e" stroke-width="3.5" stroke-linejoin="round" /><rect x="1268.7" y="368.2" width="3.4" height="23.7" rx="1.6" fill="#f0695e"/><rect x="1284" y="366.6" width="4.9" height="25.2" rx="1.6" fill="#f0695e"/><rect x="1302.7" y="365" width="3.4" height="26.7" rx="1.6" fill="#f0695e"/><rect x="1317.8" y="376.2" width="4.9" height="15.2" rx="1.6" fill="#f0695e"/><rect x="1380" y="376.1" width="3.9" height="5.2" rx="1.6" fill="#f0695e"/><rect x="1477.3" y="383.6" width="3.9" height="7.7" rx="1.6" fill="#f0695e"/><rect x="1485.8" y="387.3" width="4.9" height="4.2" rx="1.6" fill="#f0695e"/><rect x="1500.7" y="342.5" width="3.4" height="49.2" rx="1.6" fill="#f0695e"/><rect x="1512.4" y="387.1" width="3.4" height="4.7" rx="1.6" fill="#f0695e"/><rect x="1519" y="387.6" width="3.9" height="4.2" rx="1.6" fill="#f0695e"/><rect x="1529.6" y="302.7" width="3.4" height="89.2" rx="1.6" fill="#f0695e"/><rect x="1546.7" y="379.8" width="3.7" height="12.2" rx="1.6" fill="#f0695e"/><rect x="1557.6" y="381.8" width="3.7" height="10.2" rx="1.6" fill="#f0695e"/><rect x="1589.6" y="387.9" width="3.4" height="4.2" rx="1.6" fill="#f0695e"/><rect x="1597.4" y="388.9" width="3.4" height="3.2" rx="1.6" fill="#f0695e"/><rect x="1445" y="386.3" width="3.4" height="3.2" rx="1.6" fill="#f0695e"/><rect x="1228.3" y="388.3" width="3.4" height="3.7" rx="1.6" fill="#f0695e"/><rect x="1136.3" y="388.9" width="3.4" height="3.2" rx="1.6" fill="#f0695e"/><rect x="1256.3" y="388.7" width="3.4" height="3.2" rx="1.6" fill="#f0695e"/>
<path d="M997,520.4 997.5,520.6 998,520.6 998.5,520.9 999,520.7 999.5,520.7 1000,520.7 1000.5,520.7 1001,520.7 1001.5,520.7 1002,520.8 1002.5,520.5 1003,520.5 1003.5,520.4 1004,520.6 1004.5,520.7 1005,520.7 1005.5,520.9 1006,520.5 1006.5,520.8 1007,520.8 1007.5,520.7 1008,520.4 1008.5,520.6 1009,520.8 1009.5,520.8 1010,520.6 1010.5,520.7 1011,520.8 1011.5,520.7 1012,520.5 1012.5,520.3 1013,520.8 1013.5,520.7 1014,520.8 1014.5,521 1015,520.8 1015.5,520.8 1016,520.5 1016.5,520.7 1017,520.9 1017.5,520.5 1018,520.7 1018.5,520.9 1019,520.7 1019.5,520.7 1020,520.8 1020.5,520.6 1021,521 1021.5,520.7 1022,520.5 1022.5,520.5 1023,520.5 1023.5,520.5 1024,520.4 1024.5,520.8 1025,520.5 1025.5,520.9 1026,520.7 1026.5,520.9 1027,520.5 1027.5,520.4 1028,520.7 1028.5,520.4 1029,520.7 1029.5,520.6 1030,520.6 1030.5,520.8 1031,520.6 1031.5,520.3 1032,520.8 1032.5,520.5 1033,520.7 1033.5,520.4 1034,520.6 1034.5,520.5 1035,520.5 1035.5,520.6 1036,520.8 1036.5,520.4 1037,520.8 1037.5,520.6 1038,520.5 1038.5,520.8 1039,520.6 1039.5,520.5 1040,520.6 1040.5,520.8 1041,521.1 1041.5,520.8 1042,520.7 1042.5,520.7 1043,520.8 1043.5,520.6 1044,520.7 1044.5,520.7 1045,520.5 1045.5,520.8 1046,520.7 1046.5,520.3 1047,520.5 1047.5,520.8 1048,520.6 1048.5,520.5 1049,520.4 1049.5,520.6 1050,520.7 1050.5,520.7 1051,520.5 1051.5,520.6 1052,520.7 1052.5,520.7 1053,520.7 1053.5,520.5 1054,520.7 1054.5,520.6 1055,520.5 1055.5,520.6 1056,520.8 1056.5,520.4 1057,520.7 1057.5,520.6 1058,520.7 1058.5,520.9 1059,520.6 1059.5,520.6 1060,520.6 1060.5,520.6 1061,520.7 1061.5,520.7 1062,520.7 1062.5,520.3 1063,520.5 1063.5,520.7 1064,520.5 1064.5,520.7 1065,520.7 1065.5,520.5 1066,520.7 1066.5,520.9 1067,520.8 1067.5,520.6 1068,520.6 1068.5,520.4 1069,520.7 1069.5,520.5 1070,520.6 1070.5,520.6 1071,520.5 1071.5,520.5 1072,520.8 1072.5,520.5 1073,520.8 1073.5,520.6 1074,520.6 1074.5,520.6 1075,520.7 1075.5,520.6 1076,520.6 1076.5,520.5 1077,520.7 1077.5,520.6 1078,520.7 1078.5,520.8 1079,520.2 1079.5,520.6 1080,520.8 1080.5,520.4 1081,520.8 1081.5,520.6 1082,520.5 1082.5,520.7 1083,520.7 1083.5,520.7 1084,520.6 1084.5,520.9 1085,520.8 1085.5,520.6 1086,520.5 1086.5,520.5 1087,520.4 1087.5,520.5 1088,520.7 1088.5,520.6 1089,520.9 1089.5,520.8 1090,520.8 1090.5,520.6 1091,520.5 1091.5,520.7 1092,520.7 1092.5,520.8 1093,520.6 1093.5,520.6 1094,520.5 1094.5,520.7 1095,520.3 1095.5,520.4 1096,520.6 1096.5,520.7 1097,520.7 1097.5,520.6 1098,520.6 1098.5,520.5 1099,520.5 1099.5,520.4 1100,520.4 1100.5,520.6 1101,520.5 1101.5,520.7 1102,520.7 1102.5,520.3 1103,520.7 1103.5,520.3 1104,520.7 1104.5,520.6 1105,520.4 1105.5,520.6 1106,520.5 1106.5,520.6 1107,520.7 1107.5,520.6 1108,520.7 1108.5,520.4 1109,520.6 1109.5,520.3 1110,521 1110.5,520.6 1111,520.5 1111.5,520.6 1112,520.4 1112.5,520.5 1113,520.6 1113.5,520.5 1114,520.2 1114.5,520.6 1115,520.6 1115.5,520.7 1116,520.6 1116.5,520.8 1117,520.6 1117.5,520.2 1118,520.4 1118.5,520.5 1119,520.4 1119.5,520.3 1120,520.5 1120.5,520.3 1121,520.4 1121.5,520.6 1122,520.3 1122.5,520.9 1123,520.7 1123.5,520.6 1124,520.7 1124.5,520.6 1125,520.7 1125.5,520.7 1126,520.2 1126.5,520.5 1127,520.6 1127.5,520.4 1128,520.6 1128.5,520.5 1129,520.5 1129.5,520.3 1130,520.8 1130.5,520.5 1131,520.6 1131.5,520.8 1132,520.4 1132.5,520.7 1133,520.3 1133.5,520.5 1134,520.5 1134.5,520.6 1135,520.4 1135.5,520.9 1136,520.6 1136.5,520.7 1137,520.5 1137.5,520.6 1138,520.5 1138.5,520.7 1139,520.3 1139.5,520.2 1140,520.6 1140.5,520.6 1141,520.5 1141.5,520.4 1142,520.3 1142.5,520.8 1143,520.7 1143.5,520.7 1144,520.7 1144.5,520.8 1145,520.5 1145.5,520.7 1146,520.3 1146.5,520.4 1147,520.7 1147.5,520.7 1148,520.7 1148.5,520.4 1149,520.7 1149.5,520.8 1150,520.6 1150.5,520.5 1151,520.7 1151.5,520.3 1152,520.5 1152.5,520.5 1153,520.7 1153.5,520.6 1154,520.6 1154.5,520.9 1155,520.5 1155.5,520.8 1156,520.6 1156.5,520.8 1157,520.3 1157.5,520.5 1158,520.4 1158.5,520.4 1159,520.8 1159.5,520.9 1160,520.6 1160.5,520.4 1161,520.5 1161.5,520.4 1162,520.4 1162.5,520.8 1163,520.5 1163.5,520.3 1164,520.6 1164.5,520.9 1165,520.6 1165.5,520.6 1166,520.5 1166.5,520.7 1167,520.5 1167.5,520.9 1168,520.4 1168.5,520.3 1169,520.3 1169.5,520.8 1170,520.5 1170.5,521 1171,520.5 1171.5,520.5 1172,520.7 1172.5,520.5 1173,520.5 1173.5,520.4 1174,520.5 1174.5,520.5 1175,520.8 1175.5,520.7 1176,520.6 1176.5,520.5 1177,520.5 1177.5,520.3 1178,520.7 1178.5,520.6 1179,520.5 1179.5,520.6 1180,520.4 1180.5,520.6 1181,520.3 1181.5,520.6 1182,520.4 1182.5,520.5 1183,520.3 1183.5,520.7 1184,520.4 1184.5,520.6 1185,520.5 1185.5,520.3 1186,520.7 1186.5,520.7 1187,520.7 1187.5,520.5 1188,520.8 1188.5,520.5 1189,520.7 1189.5,520.7 1190,520.6 1190.5,520.4 1191,520.6 1191.5,520.6 1192,520.5 1192.5,520.5 1193,520.9 1193.5,520.6 1194,520.5 1194.5,520.3 1195,520.2 1195.5,520.4 1196,520.5 1196.5,520.6 1197,520.5 1197.5,520.4 1198,520.3 1198.5,520.6 1199,520.5 1199.5,520.4 1200,520.2 1200.5,520.4 1201,520.6 1201.5,520.6 1202,520.5 1202.5,520.6 1203,520.4 1203.5,520.3 1204,520.4 1204.5,520.3 1205,520.5 1205.5,520.4 1206,520.5 1206.5,520.5 1207,520.3 1207.5,520.5 1208,520.7 1208.5,520.5 1209,520.6 1209.5,520.7 1210,520.6 1210.5,520.3 1211,520.2 1211.5,520.5 1212,520.3 1212.5,520.3 1213,520.6 1213.5,520.5 1214,520.5 1214.5,520.4 1215,520.7 1215.5,520.5 1216,520.3 1216.5,520.3 1217,520.2 1217.5,520.5 1218,520.2 1218.5,520.3 1219,520.6 1219.5,520.3 1220,520.5 1220.5,520.4 1221,520.4 1221.5,520.2 1222,520.4 1222.5,520.5 1223,520.3 1223.5,520.4 1224,520.5 1224.5,520.2 1225,520.5 1225.5,520.5 1226,520.5 1226.5,520.6 1227,520.5 1227.5,520.1 1228,520.5 1228.5,520.4 1229,520.6 1229.5,520.5 1230,520.2 1230.5,520.3 1231,520.5 1231.5,520.4 1232,520.5 1232.5,520.5 1233,520.5 1233.5,520.5 1234,520.3 1234.5,520.3 1235,520.3 1235.5,520.4 1236,520.6 1236.5,520.4 1237,520.5 1237.5,520.2 1238,520.3 1238.5,520.3 1239,520.4 1239.5,520.6 1240,520.2 1240.5,520.2 1241,520.6 1241.5,520.3 1242,520.2 1242.5,520.5 1243,520.1 1243.5,520.4 1244,520.5 1244.5,520.1 1245,520.3 1245.5,520.4 1246,520.2 1246.5,520.6 1247,520.1 1247.5,520.4 1248,520.3 1248.5,520.4 1249,520.3 1249.5,520.2 1250,520.4 1250.5,520.2 1251,520.4 1251.5,520.4 1252,520.3 1252.5,520.4 1253,520.4 1253.5,520.1 1254,520.3 1254.5,520.1 1255,520.2 1255.5,520.4 1256,520.6 1256.5,520.4 1257,520.2 1257.5,520.3 1258,520.4 1258.5,520.1 1259,520.5 1259.5,520.4 1260,520.2 1260.5,519.9 1261,520.2 1261.5,520.4 1262,520.1 1262.5,520.1 1263,520.1 1263.5,520.3 1264,520.3 1264.5,520.2 1265,520.2 1265.5,520 1266,519.9 1266.5,520.3 1267,520.3 1267.5,520.2 1268,520.2 1268.5,520.1 1269,520.1 1269.5,520.1 1270,520 1270.5,520.2 1271,520.3 1271.5,520.4 1272,520.3 1272.5,520.3 1273,520.4 1273.5,520 1274,520.1 1274.5,520.2 1275,520.3 1275.5,520.4 1276,520.3 1276.5,519.8 1277,520.4 1277.5,520.1 1278,520 1278.5,520.1 1279,520.1 1279.5,520 1280,520.2 1280.5,520 1281,519.9 1281.5,520.2 1282,520.2 1282.5,520 1283,519.9 1283.5,519.8 1284,519.9 1284.5,520.1 1285,520.2 1285.5,520 1286,520 1286.5,520.2 1287,520 1287.5,519.9 1288,519.8 1288.5,520.1 1289,519.9 1289.5,520.1 1290,520 1290.5,520 1291,519.7 1291.5,519.4 1292,519.9 1292.5,519.8 1293,519.8 1293.5,520.1 1294,519.8 1294.5,520.1 1295,519.6 1295.5,519.7 1296,519.8 1296.5,520 1297,519.6 1297.5,519.8 1298,519.8 1298.5,519.7 1299,520.1 1299.5,519.7 1300,519.6 1300.5,519.7 1301,519.7 1301.5,519.9 1302,519.7 1302.5,519.7 1303,519.7 1303.5,519.8 1304,519.6 1304.5,519.5 1305,519.6 1305.5,519.5 1306,519.5 1306.5,519.4 1307,519.6 1307.5,519.7 1308,519.7 1308.5,519.6 1309,519.5 1309.5,519.4 1310,519.6 1310.5,519.5 1311,519.7 1311.5,519.3 1312,519.6 1312.5,519.4 1313,519.6 1313.5,519.5 1314,519.5 1314.5,519.2 1315,519.4 1315.5,519.4 1316,519.5 1316.5,519.5 1317,519.3 1317.5,519.1 1318,519.5 1318.5,519.4 1319,519.3 1319.5,519.4 1320,519.5 1320.5,519.2 1321,519.1 1321.5,519.4 1322,519.1 1322.5,519 1323,519 1323.5,519.2 1324,518.7 1324.5,519 1325,519.1 1325.5,518.8 1326,519.1 1326.5,518.8 1327,519.1 1327.5,518.8 1328,519 1328.5,518.7 1329,518.7 1329.5,518.7 1330,518.7 1330.5,518.6 1331,519 1331.5,518.6 1332,518.6 1332.5,518.5 1333,518.4 1333.5,518 1334,518.5 1334.5,518.3 1335,518.4 1335.5,518.1 1336,518.6 1336.5,518 1337,518.4 1337.5,518.5 1338,518.3 1338.5,518.1 1339,518 1339.5,518 1340,517.9 1340.5,517.9 1341,517.9 1341.5,518.1 1342,517.7 1342.5,517.6 1343,517.7 1343.5,517.9 1344,517.7 1344.5,517.2 1345,517.5 1345.5,517.4 1346,517.4 1346.5,517.1 1347,517.2 1347.5,517.2 1348,517.2 1348.5,516.9 1349,516.7 1349.5,516.8 1350,516.5 1350.5,516.5 1351,516.4 1351.5,516.3 1352,516.3 1352.5,516 1353,516 1353.5,516 1354,515.8 1354.5,515.7 1355,515.5 1355.5,515.4 1356,515.3 1356.5,515.4 1357,515 1357.5,514.7 1358,514.9 1358.5,514.3 1359,514.4 1359.5,514.3 1360,514.3 1360.5,513.7 1361,513.8 1361.5,513.6 1362,513.2 1362.5,513.2 1363,513 1363.5,512.7 1364,512.3 1364.5,512 1365,511.7 1365.5,511.4 1366,511.2 1366.5,510.9 1367,510.6 1367.5,509.9 1368,509.8 1368.5,509.7 1369,509.2 1369.5,508.4 1370,508.4 1370.5,507.8 1371,507.1 1371.5,506.8 1372,506 1372.5,505.3 1373,505.1 1373.5,504.1 1374,503.7 1374.5,503 1375,502 1375.5,501.2 1376,500.5 1376.5,499.3 1377,498.7 1377.5,497.6 1378,496.5 1378.5,495.1 1379,493.8 1379.5,492.5 1380,491.4 1380.5,489.7 1381,488 1381.5,486.6 1382,484.7 1382.5,482.6 1383,480.6 1383.5,478.5 1384,476.2 1384.5,473.9 1385,471.4 1385.5,468.8 1386,466.3 1386.5,463.4 1387,460.5 1387.5,457.2 1388,454.6 1388.5,451.7 1389,448.8 1389.5,446 1390,443.4 1390.5,440.9 1391,438.8 1391.5,436.9 1392,435.6 1392.5,434.4 1393,433.7 1393.5,433.9 1394,434 1394.5,434.8 1395,436.1 1395.5,437.7 1396,439.9 1396.5,441.7 1397,444.6 1397.5,447.3 1398,449.8 1398.5,453.1 1399,455.6 1399.5,458.7 1400,461.5 1400.5,464.5 1401,467.4 1401.5,470.2 1402,472.2 1402.5,474.9 1403,477.3 1403.5,479.2 1404,481.6 1404.5,483.5 1405,485.4 1405.5,487.1 1406,488.9 1406.5,490.4 1407,491.6 1407.5,493 1408,494.9 1408.5,496 1409,496.8 1409.5,497.9 1410,499 1410.5,499.7 1411,501 1411.5,501.4 1412,502.4 1412.5,503.1 1413,503.8 1413.5,504.4 1414,505.2 1414.5,505.9 1415,506.2 1415.5,506.9 1416,507.6 1416.5,507.7 1417,508.2 1417.5,508.6 1418,509.2 1418.5,509.5 1419,510 1419.5,510.5 1420,510.7 1420.5,511 1421,511.4 1421.5,511.3 1422,512.1 1422.5,512.3 1423,512.5 1423.5,512.5 1424,512.9 1424.5,513.2 1425,513.5 1425.5,513.7 1426,514 1426.5,513.8 1427,514 1427.5,514.2 1428,514.6 1428.5,514.3 1429,514.9 1429.5,515.3 1430,515.1 1430.5,515.2 1431,515.3 1431.5,515.7 1432,515.5 1432.5,515.5 1433,516 1433.5,516.1 1434,516.3 1434.5,516.2 1435,516.2 1435.5,516.3 1436,516.4 1436.5,516.4 1437,516.7 1437.5,516.6 1438,517 1438.5,517 1439,517 1439.5,517.2 1440,517.1 1440.5,517 1441,517.2 1441.5,517.5 1442,517.5 1442.5,517.3 1443,517.7 1443.5,517.6 1444,517.7 1444.5,517.7 1445,517.6 1445.5,517.9 1446,518.1 1446.5,517.7 1447,518 1447.5,517.9 1448,518.1 1448.5,518 1449,518 1449.5,518 1450,518.3 1450.5,518.4 1451,518.3 1451.5,518.4 1452,518.3 1452.5,518.6 1453,518.8 1453.5,518.5 1454,518.5 1454.5,518.5 1455,518.4 1455.5,518.5 1456,518.8 1456.5,518.6 1457,518.8 1457.5,518.6 1458,518.8 1458.5,518.8 1459,518.8 1459.5,518.9 1460,519.2 1460.5,518.9 1461,519.3 1461.5,518.9 1462,518.9 1462.5,518.7 1463,519 1463.5,519.2 1464,519.4 1464.5,518.9 1465,519.4 1465.5,519.1 1466,519.6 1466.5,519.2 1467,519.1 1467.5,519.2 1468,519.3 1468.5,519.4 1469,519.5 1469.5,519.2 1470,519.3 1470.5,519.4 1471,519.4 1471.5,519.5 1472,519.3 1472.5,519.2 1473,519.6 1473.5,519.5 1474,519.3 1474.5,519.6 1475,519.2 1475.5,519.3 1476,519.6 1476.5,519.4 1477,519.3 1477.5,519.8 1478,519.5 1478.5,519.6 1479,519.7 1479.5,519.5 1480,519.7 1480.5,519.9 1481,519.9 1481.5,519.7 1482,519.6 1482.5,519.7 1483,519.7 1483.5,519.7 1484,519.5 1484.5,519.7 1485,519.9 1485.5,519.8 1486,519.6 1486.5,519.9 1487,519.9 1487.5,519.8 1488,520 1488.5,519.7 1489,520.2 1489.5,519.6 1490,519.9 1490.5,520 1491,519.8 1491.5,520.1 1492,519.8 1492.5,519.8 1493,520 1493.5,520 1494,519.8 1494.5,520 1495,519.9 1495.5,519.9 1496,519.7 1496.5,520 1497,520 1497.5,519.8 1498,520.4 1498.5,520 1499,520.3 1499.5,520.3 1500,519.7 1500.5,520 1501,519.8 1501.5,520.1 1502,519.9 1502.5,520.1 1503,520.1 1503.5,520.1 1504,520 1504.5,519.8 1505,520.1 1505.5,520 1506,520.1 1506.5,520.1 1507,520.3 1507.5,519.9 1508,520.2 1508.5,520.1 1509,520.1 1509.5,520 1510,520 1510.5,520.1 1511,520.1 1511.5,520.1 1512,520 1512.5,520.1 1513,520 1513.5,519.9 1514,520.1 1514.5,520.4 1515,519.9 1515.5,519.8 1516,520.2 1516.5,520.2 1517,520.5 1517.5,520.1 1518,520.3 1518.5,519.9 1519,520.6 1519.5,520.2 1520,520.1 1520.5,520.3 1521,520.3 1521.5,520.2 1522,520.3 1522.5,520.3 1523,520.2 1523.5,520.3 1524,520.3 1524.5,520.1 1525,520.3 1525.5,520.2 1526,520.4 1526.5,520.1 1527,520.4 1527.5,520.1 1528,520.7 1528.5,520.4 1529,520.5 1529.5,520.1 1530,520.2 1530.5,520.5 1531,520.4 1531.5,520.1 1532,520.3 1532.5,520.2 1533,520.5 1533.5,520.5 1534,520.2 1534.5,520 1535,520.4 1535.5,520.2 1536,520.5 1536.5,520.1 1537,520.4 1537.5,520.4 1538,520.6 1538.5,520.4 1539,520.3 1539.5,520.1 1540,520.5 1540.5,520.2 1541,520.4 1541.5,520.4 1542,520.5 1542.5,520.6 1543,520.5 1543.5,520.1 1544,520.5 1544.5,520.4 1545,520.2 1545.5,520.7 1546,520.3 1546.5,520.4 1547,520.3 1547.5,520.2 1548,520.4 1548.5,520.4 1549,520.3 1549.5,520.3 1550,520.5 1550.5,520.4 1551,520.6 1551.5,520.2 1552,520.6 1552.5,520.4 1553,520.1 1553.5,520.3 1554,520.4 1554.5,520.5 1555,520.5 1555.5,520.3 1556,520.4 1556.5,520.4 1557,520 1557.5,520.5 1558,520.5 1558.5,520.5 1559,520.4 1559.5,520.4 1560,520.5 1560.5,520.3 1561,520.3 1561.5,520.5 1562,520.8 1562.5,520.3 1563,520.6 1563.5,520.5 1564,520.5 1564.5,520.6 1565,520.6 1565.5,520.4 1566,520.5 1566.5,520.4 1567,520.6 1567.5,520.5 1568,520.6 1568.5,520.5 1569,520.4 1569.5,520.5 1570,520.7 1570.5,520.5 1571,520.4 1571.5,520.3 1572,520.5 1572.5,520.5 1573,520.6 1573.5,520.2 1574,520.6 1574.5,520.6 1575,520.5 1575.5,520.7 1576,520.3 1576.5,520.4 1577,520.4 1577.5,520.6 1578,520.6 1578.5,520.3 1579,520.3 1579.5,520.1 1580,520.3 1580.5,520.8 1581,520.5 1581.5,520.5 1582,520.3 1582.5,520.5 1583,520.4 1583.5,520.5 1584,520.4 1584.5,520.3 1585,520.6 1585.5,520.8 1586,520.6 1586.5,520.3 1587,520.5 1587.5,520.5 1588,520.6 1588.5,520.3 1589,520.5 1589.5,520.5 1590,520.6 1590.5,520.5 1591,520.6 1591.5,520.4 1592,520.3 1592.5,520.8 1593,520.7 1593.5,520.5 1594,520.5 1594.5,520.7 1595,520.6 1595.5,520.6 1596,520.6 1596.5,520.6 1597,520.5 1597.5,520.4 1598,520.4 1598.5,520.4 1599,520.5 1599.5,520.6 1600,520.6 1600.5,520.4 1601,520.5 1601.5,520.4 1602,520.5 1602.5,520.5 1603,520.5 1603.5,520.8 1604,520.6 1604.5,520.6 1605,520.4 1605.5,520.6 1606,520.5 1606.5,520.6 1607,520.5 1607.5,520.4 1608,520.6 1608.5,520.5 1609,520.5 1609.5,520.4 1610,520.6 1610.5,520.5 1611,520.6 1611.5,520.7 1612,520.5 1612.5,520.5 1613,520.7 1613.5,520.3 1614,520.7 1614.5,520.4 1615,520.5 1615.5,520.8 1616,520.6 1616.5,520.8 1617,520.6 1617.5,520.5 1618,520.3 1618.5,520.4 1619,520.8 1619.5,520.6 1620,520.3 1620.5,520.5 1621,520.3 1621.5,520.7 1622,520.6 1622.5,520.8 1623,520.6 1623.5,520.4 1624,520.7 1624.5,520.4 1625,520.5 1625.5,520.4 1626,520.6 1626.5,520.6 1627,520.2 1627.5,520.8 1628,520.5 1628.5,520.3 1629,520.5 1629.5,520.3 1630,521 1630.5,520.6 1631,520.7 1631.5,520.6 1632,520.6 1632.5,520.5 1633,520.7 1633.5,520.4 1634,520.8 1634.5,520.4 1635,520.6 1635.5,520.8 1636,520.8 1636.5,520.8 1637,520.7 1637.5,520.6 1638,520.4 1638.5,520.5 1639,520.8 1639.5,520.9 1640,520.6 1640.5,520.8 1641,520.6 1641.5,520.7 1642,520.2 1642.5,520.8 1643,520.5 1643.5,520.3 1644,520.7 1644.5,520.7 1645,520.3 1645.5,520.9 1646,520.9 1646.5,520.8 1647,520.5 1647.5,520.5 1648,520.6" fill="none" stroke="#e0aadf" stroke-width="3.5" stroke-linejoin="round" /><rect x="1268.6" y="487" width="3.4" height="33.2" rx="1.6" fill="#e0aadf"/><rect x="1284.8" y="492.8" width="4.9" height="27.2" rx="1.6" fill="#e0aadf"/><rect x="1303.4" y="489.5" width="3.7" height="30.2" rx="1.6" fill="#e0aadf"/><rect x="1318.3" y="500.4" width="4.9" height="18.8" rx="1.6" fill="#e0aadf"/><rect x="1369" y="498" width="3.9" height="9.2" rx="1.6" fill="#e0aadf"/><rect x="1512.8" y="500" width="3.4" height="20.2" rx="1.6" fill="#e0aadf"/><rect x="1520.2" y="502" width="3.4" height="18.2" rx="1.6" fill="#e0aadf"/><rect x="1530.4" y="413.1" width="3.4" height="107.2" rx="1.6" fill="#e0aadf"/><rect x="1547.7" y="501.6" width="3.4" height="18.8" rx="1.6" fill="#e0aadf"/><rect x="1553.8" y="513.2" width="3.4" height="7.2" rx="1.6" fill="#e0aadf"/><rect x="1558.3" y="509.2" width="3.4" height="11.2" rx="1.6" fill="#e0aadf"/><rect x="1562.2" y="499.5" width="3.9" height="20.9" rx="1.6" fill="#e0aadf"/><rect x="1136.5" y="516.4" width="3.4" height="4.2" rx="1.6" fill="#e0aadf"/><rect x="1229.5" y="514.7" width="3.9" height="5.7" rx="1.6" fill="#e0aadf"/><rect x="1590.5" y="515.3" width="3.9" height="5.2" rx="1.6" fill="#e0aadf"/><rect x="1218.3" y="517.2" width="3.4" height="3.2" rx="1.6" fill="#e0aadf"/><rect x="1256.3" y="516.1" width="3.4" height="4.2" rx="1.6" fill="#e0aadf"/><rect x="1274.3" y="514.9" width="3.4" height="5.2" rx="1.6" fill="#e0aadf"/><rect x="1103.3" y="517.9" width="3.4" height="2.7" rx="1.6" fill="#e0aadf"/><rect x="1601.3" y="517.8" width="3.4" height="2.7" rx="1.6" fill="#e0aadf"/>
<path d="M997,646.6 997.5,646.6 998,646.8 998.5,646.5 999,646.7 999.5,646.9 1000,646.7 1000.5,646.5 1001,646.6 1001.5,646.8 1002,646.5 1002.5,646.6 1003,646.6 1003.5,646.6 1004,646.8 1004.5,646.6 1005,646.7 1005.5,646.4 1006,646.5 1006.5,646.6 1007,646.8 1007.5,646.6 1008,646.6 1008.5,646.8 1009,646.3 1009.5,646.6 1010,646.4 1010.5,646.8 1011,646.4 1011.5,646.8 1012,646.7 1012.5,646.5 1013,646.6 1013.5,647 1014,646.8 1014.5,646.5 1015,646.3 1015.5,646.5 1016,646.7 1016.5,646.5 1017,646.8 1017.5,646.5 1018,646.8 1018.5,646.6 1019,646.6 1019.5,646.5 1020,646.7 1020.5,646.4 1021,646.7 1021.5,646.5 1022,646.5 1022.5,646.9 1023,646.6 1023.5,646.6 1024,646.7 1024.5,646.6 1025,646.8 1025.5,646.5 1026,646.5 1026.5,646.6 1027,646.3 1027.5,646.6 1028,646.6 1028.5,646.7 1029,646.6 1029.5,646.8 1030,646.4 1030.5,646.7 1031,646.6 1031.5,646.3 1032,646.4 1032.5,646.6 1033,646.4 1033.5,646.6 1034,646.5 1034.5,646.6 1035,646.8 1035.5,646.6 1036,646.5 1036.5,646.7 1037,646.8 1037.5,646.7 1038,647 1038.5,646.7 1039,646.8 1039.5,646.3 1040,646.7 1040.5,646.8 1041,646.5 1041.5,646.6 1042,646.6 1042.5,646.6 1043,646.6 1043.5,646.7 1044,646.5 1044.5,646.5 1045,646.7 1045.5,646.6 1046,646.8 1046.5,646.6 1047,646.5 1047.5,646.5 1048,646.5 1048.5,646.6 1049,646.4 1049.5,646.6 1050,646.6 1050.5,646.7 1051,646.6 1051.5,646.6 1052,646.3 1052.5,646.5 1053,646.9 1053.5,646.7 1054,646.8 1054.5,646.5 1055,646.4 1055.5,646.7 1056,646.5 1056.5,646.6 1057,646.5 1057.5,646.3 1058,646.7 1058.5,646.8 1059,646.5 1059.5,646.5 1060,646.5 1060.5,646.5 1061,646.7 1061.5,646.9 1062,646.4 1062.5,646.7 1063,646.8 1063.5,646.8 1064,646.4 1064.5,646.6 1065,646.6 1065.5,646.5 1066,646.7 1066.5,646.8 1067,646.7 1067.5,646.8 1068,646.6 1068.5,646.7 1069,646.6 1069.5,646.7 1070,646.6 1070.5,646.5 1071,646.4 1071.5,646.4 1072,646.6 1072.5,646.6 1073,646.7 1073.5,646.4 1074,646.4 1074.5,646.7 1075,646.5 1075.5,646.6 1076,646.6 1076.5,646.6 1077,646.7 1077.5,646.5 1078,646.8 1078.5,646.7 1079,646.6 1079.5,646.8 1080,646.5 1080.5,646.8 1081,646.6 1081.5,646.8 1082,646.6 1082.5,646.5 1083,646.3 1083.5,646.4 1084,646.3 1084.5,646.6 1085,646.3 1085.5,646.6 1086,646.6 1086.5,646.8 1087,646.6 1087.5,646.4 1088,646.7 1088.5,646.6 1089,646.7 1089.5,646.6 1090,646.7 1090.5,646.8 1091,646.4 1091.5,646.9 1092,646.7 1092.5,646.5 1093,646.4 1093.5,646.6 1094,646.6 1094.5,646.6 1095,646.6 1095.5,646.5 1096,646.7 1096.5,646.7 1097,646.7 1097.5,646.6 1098,646.4 1098.5,646.3 1099,646.6 1099.5,646.8 1100,646.8 1100.5,646.3 1101,646.6 1101.5,646.5 1102,646.3 1102.5,646.7 1103,646.6 1103.5,646.7 1104,646.7 1104.5,646.5 1105,646.4 1105.5,646.9 1106,646.4 1106.5,646.6 1107,646.5 1107.5,646.5 1108,646.8 1108.5,646.6 1109,646.7 1109.5,646.3 1110,646.2 1110.5,646.6 1111,646.7 1111.5,646.4 1112,646.6 1112.5,646.3 1113,646.3 1113.5,646.3 1114,646.6 1114.5,646.7 1115,646.7 1115.5,646.6 1116,646.7 1116.5,646.4 1117,646.5 1117.5,646.6 1118,646.6 1118.5,646.5 1119,646.4 1119.5,646.9 1120,646.5 1120.5,646.6 1121,646.7 1121.5,646.6 1122,646.5 1122.5,646.3 1123,646.6 1123.5,646.6 1124,646.7 1124.5,646.4 1125,646.7 1125.5,646.6 1126,646.4 1126.5,646.5 1127,646.6 1127.5,646.6 1128,646.4 1128.5,646.6 1129,646.5 1129.5,646.5 1130,646.6 1130.5,646.5 1131,646.6 1131.5,646.4 1132,646.5 1132.5,646.8 1133,646.6 1133.5,646.4 1134,646.6 1134.5,646.6 1135,646.4 1135.5,646.7 1136,646.5 1136.5,646.5 1137,646.4 1137.5,646.7 1138,646.7 1138.5,646.3 1139,646.7 1139.5,646.6 1140,646.2 1140.5,646.6 1141,646.9 1141.5,646.1 1142,646.4 1142.5,646.5 1143,646.1 1143.5,646.5 1144,646.3 1144.5,646.5 1145,646.6 1145.5,646.4 1146,646.4 1146.5,646.3 1147,646.4 1147.5,646.6 1148,646.5 1148.5,646.2 1149,646.4 1149.5,646.5 1150,646.3 1150.5,646.3 1151,646.3 1151.5,646.6 1152,646.6 1152.5,646.4 1153,646.3 1153.5,646.7 1154,646.6 1154.5,646.6 1155,646.4 1155.5,646.7 1156,646.1 1156.5,646.5 1157,646.4 1157.5,646.2 1158,646.4 1158.5,646.4 1159,646.5 1159.5,646.4 1160,646.7 1160.5,646.5 1161,646.5 1161.5,646.7 1162,646.4 1162.5,646.4 1163,646.8 1163.5,646.4 1164,646.6 1164.5,646.4 1165,646.6 1165.5,646.6 1166,646.4 1166.5,646.2 1167,646.7 1167.5,646.5 1168,646.5 1168.5,646.3 1169,646.5 1169.5,646.4 1170,646.3 1170.5,646.4 1171,646.6 1171.5,646.6 1172,646.5 1172.5,646.5 1173,646.6 1173.5,646.5 1174,646.4 1174.5,646.6 1175,646.6 1175.5,646.4 1176,646.4 1176.5,646.7 1177,646.6 1177.5,646.3 1178,646.5 1178.5,646.6 1179,646.5 1179.5,646.2 1180,646.6 1180.5,646.6 1181,646.5 1181.5,646.2 1182,646.6 1182.5,646.4 1183,646.3 1183.5,646.4 1184,646.5 1184.5,646.4 1185,646.4 1185.5,646.3 1186,646.4 1186.5,646.4 1187,646.7 1187.5,646.4 1188,646.5 1188.5,646.8 1189,646.5 1189.5,646.4 1190,646.5 1190.5,646.8 1191,646.6 1191.5,646.6 1192,646.5 1192.5,646.8 1193,646.4 1193.5,646.4 1194,646.4 1194.5,646.4 1195,646.5 1195.5,646.3 1196,646.4 1196.5,646.5 1197,646.4 1197.5,646.3 1198,646.3 1198.5,646.4 1199,646.5 1199.5,646.5 1200,646.4 1200.5,646.4 1201,646.3 1201.5,646.7 1202,646.5 1202.5,646.6 1203,646.3 1203.5,646.3 1204,646.4 1204.5,646.3 1205,646.5 1205.5,646.3 1206,646.4 1206.5,646.4 1207,646.4 1207.5,646.3 1208,646.2 1208.5,646.6 1209,646.5 1209.5,646.4 1210,646.3 1210.5,646.6 1211,646.5 1211.5,646.4 1212,646.1 1212.5,646.5 1213,646.4 1213.5,646.4 1214,646.4 1214.5,646.4 1215,646.4 1215.5,646.4 1216,646.3 1216.5,646.3 1217,646.3 1217.5,646.3 1218,646.5 1218.5,646.3 1219,646.3 1219.5,646.2 1220,646.3 1220.5,646.1 1221,646.5 1221.5,646.4 1222,646.3 1222.5,646.4 1223,646.4 1223.5,646.4 1224,646.4 1224.5,646 1225,646.4 1225.5,646.1 1226,646.5 1226.5,646.3 1227,646.4 1227.5,646.3 1228,646.1 1228.5,646 1229,646.2 1229.5,646.3 1230,646.3 1230.5,646.3 1231,646.1 1231.5,646.5 1232,646.4 1232.5,646.4 1233,646.2 1233.5,646.5 1234,646.2 1234.5,646.5 1235,646.5 1235.5,646.1 1236,646.1 1236.5,646.4 1237,646.5 1237.5,646.4 1238,646.2 1238.5,646.3 1239,646.4 1239.5,646.2 1240,646.1 1240.5,646.4 1241,646.3 1241.5,646.4 1242,646.1 1242.5,646.2 1243,646.3 1243.5,646.5 1244,646.1 1244.5,646.3 1245,646.2 1245.5,646.3 1246,646.2 1246.5,646.5 1247,646.3 1247.5,646.2 1248,645.9 1248.5,646.2 1249,646.2 1249.5,646.3 1250,646.3 1250.5,646.2 1251,646.3 1251.5,646.2 1252,646.2 1252.5,645.9 1253,646.2 1253.5,646 1254,646.2 1254.5,646 1255,645.8 1255.5,646.3 1256,646.3 1256.5,646 1257,646.1 1257.5,646.2 1258,646.1 1258.5,646.1 1259,646 1259.5,646.1 1260,646.2 1260.5,646.3 1261,646.4 1261.5,646.3 1262,645.9 1262.5,646.3 1263,646.1 1263.5,645.9 1264,646 1264.5,645.9 1265,646 1265.5,645.8 1266,646.2 1266.5,646.2 1267,645.8 1267.5,646 1268,646 1268.5,646.1 1269,645.8 1269.5,646 1270,646 1270.5,646.1 1271,646 1271.5,646.1 1272,646 1272.5,646 1273,646.1 1273.5,646.1 1274,645.9 1274.5,646.1 1275,645.8 1275.5,645.7 1276,646.2 1276.5,645.7 1277,646.1 1277.5,645.8 1278,646 1278.5,645.8 1279,646.1 1279.5,645.8 1280,645.9 1280.5,645.7 1281,645.8 1281.5,646 1282,645.8 1282.5,646 1283,645.9 1283.5,645.6 1284,645.6 1284.5,645.8 1285,646 1285.5,645.8 1286,645.5 1286.5,645.8 1287,646 1287.5,646 1288,646 1288.5,645.6 1289,645.8 1289.5,645.9 1290,645.7 1290.5,645.6 1291,645.8 1291.5,645.9 1292,645.7 1292.5,645.6 1293,646 1293.5,645.9 1294,645.4 1294.5,645.6 1295,645.6 1295.5,645.9 1296,645.8 1296.5,645.7 1297,645.5 1297.5,645.6 1298,645.9 1298.5,645.4 1299,645.4 1299.5,645.5 1300,645.7 1300.5,645.7 1301,645.6 1301.5,645.5 1302,645.3 1302.5,645.7 1303,645.6 1303.5,645.5 1304,645.6 1304.5,645.5 1305,645.7 1305.5,645.4 1306,645.5 1306.5,645.4 1307,645.3 1307.5,645.4 1308,645.4 1308.5,645.3 1309,645.4 1309.5,645.3 1310,645.6 1310.5,645.4 1311,645.2 1311.5,645.2 1312,645.1 1312.5,645.4 1313,645.3 1313.5,645.2 1314,645.2 1314.5,645.2 1315,644.9 1315.5,645.2 1316,645.1 1316.5,645 1317,645 1317.5,645 1318,644.8 1318.5,644.9 1319,645 1319.5,645.1 1320,644.7 1320.5,645 1321,644.8 1321.5,644.9 1322,644.5 1322.5,644.7 1323,645 1323.5,644.7 1324,644.9 1324.5,644.8 1325,644.6 1325.5,644.8 1326,644.6 1326.5,644.6 1327,644.4 1327.5,644.7 1328,644.4 1328.5,644.5 1329,644.3 1329.5,644.4 1330,644.3 1330.5,644.1 1331,644.1 1331.5,644.3 1332,644.1 1332.5,644.2 1333,644.1 1333.5,643.9 1334,644.2 1334.5,644.2 1335,643.9 1335.5,644 1336,643.7 1336.5,643.7 1337,643.7 1337.5,643.8 1338,643.8 1338.5,643.8 1339,643.7 1339.5,643.6 1340,643.6 1340.5,643.3 1341,643.3 1341.5,643.5 1342,643.7 1342.5,643.1 1343,643.3 1343.5,643.5 1344,643.3 1344.5,642.9 1345,642.7 1345.5,642.7 1346,642.5 1346.5,642.4 1347,642.3 1347.5,642.6 1348,642.4 1348.5,642.4 1349,642.2 1349.5,642.2 1350,642 1350.5,641.7 1351,642 1351.5,641.7 1352,641.8 1352.5,641.7 1353,641.3 1353.5,641.4 1354,641.2 1354.5,640.9 1355,641.2 1355.5,640.8 1356,640.5 1356.5,640.7 1357,640.4 1357.5,640.1 1358,640 1358.5,639.9 1359,639.6 1359.5,639.5 1360,639.3 1360.5,639.2 1361,639.2 1361.5,638.8 1362,638.7 1362.5,638.3 1363,638.1 1363.5,637.9 1364,637.7 1364.5,637.4 1365,637.3 1365.5,636.9 1366,636.8 1366.5,636.4 1367,636.3 1367.5,635.4 1368,635.4 1368.5,635.2 1369,634.8 1369.5,634.3 1370,634 1370.5,633.4 1371,633.1 1371.5,632.5 1372,632.6 1372.5,631.6 1373,631.1 1373.5,630.5 1374,630.2 1374.5,629.6 1375,629 1375.5,628.1 1376,627.5 1376.5,627 1377,626.1 1377.5,625.2 1378,624.6 1378.5,623.6 1379,622.6 1379.5,621.7 1380,620.8 1380.5,619.3 1381,618.3 1381.5,617.1 1382,616 1382.5,614.6 1383,613.3 1383.5,611.8 1384,610.3 1384.5,608.6 1385,607.1 1385.5,605.5 1386,603.4 1386.5,601.9 1387,599.8 1387.5,597.9 1388,595.8 1388.5,593.9 1389,591.9 1389.5,589.6 1390,587.8 1390.5,585.6 1391,583.5 1391.5,581.5 1392,579.8 1392.5,577.7 1393,576.2 1393.5,574.6 1394,573.3 1394.5,572.4 1395,571.7 1395.5,571.3 1396,570.6 1396.5,570.5 1397,570.9 1397.5,571.5 1398,572.4 1398.5,573.4 1399,574.5 1399.5,575.7 1400,577.5 1400.5,579.1 1401,581 1401.5,583.1 1402,585.2 1402.5,587.2 1403,589.4 1403.5,591.2 1404,593.3 1404.5,595.6 1405,597.6 1405.5,599.6 1406,601.3 1406.5,603.1 1407,605.1 1407.5,606.8 1408,608.3 1408.5,610.2 1409,611.4 1409.5,612.7 1410,614.1 1410.5,615.7 1411,616.9 1411.5,618 1412,619.2 1412.5,620.1 1413,621.3 1413.5,622.3 1414,623.3 1414.5,623.9 1415,625.2 1415.5,625.7 1416,626.6 1416.5,627.3 1417,628.2 1417.5,628.7 1418,629.5 1418.5,630.3 1419,630.5 1419.5,631.3 1420,631.6 1420.5,632.3 1421,632.6 1421.5,633.1 1422,633.7 1422.5,633.9 1423,634.4 1423.5,635 1424,634.7 1424.5,635.3 1425,635.6 1425.5,636 1426,636.2 1426.5,636.7 1427,636.8 1427.5,637 1428,637.5 1428.5,637.7 1429,637.9 1429.5,638.4 1430,638.3 1430.5,638.6 1431,638.6 1431.5,639 1432,639.3 1432.5,639.4 1433,639.6 1433.5,640.1 1434,639.9 1434.5,640.3 1435,640 1435.5,640.3 1436,640.4 1436.5,640.6 1437,640.8 1437.5,640.8 1438,641.3 1438.5,641.1 1439,641.3 1439.5,641.7 1440,641.5 1440.5,641.5 1441,641.8 1441.5,641.6 1442,641.8 1442.5,642.1 1443,642.2 1443.5,642.3 1444,642.4 1444.5,642.3 1445,642.3 1445.5,642.5 1446,642.5 1446.5,642.7 1447,642.8 1447.5,643 1448,642.6 1448.5,642.9 1449,643 1449.5,643.2 1450,643.4 1450.5,643.4 1451,643.4 1451.5,643.4 1452,643.3 1452.5,643.5 1453,643.4 1453.5,643.5 1454,643.5 1454.5,643.7 1455,643.6 1455.5,643.8 1456,643.8 1456.5,643.9 1457,643.9 1457.5,643.9 1458,643.9 1458.5,644.2 1459,644.1 1459.5,644.1 1460,644 1460.5,644.2 1461,644.1 1461.5,644.1 1462,644.3 1462.5,644.1 1463,644.5 1463.5,644.6 1464,644.6 1464.5,644.6 1465,644.6 1465.5,644.6 1466,644.5 1466.5,644.7 1467,644.7 1467.5,644.6 1468,644.7 1468.5,644.7 1469,644.8 1469.5,645 1470,644.8 1470.5,644.8 1471,644.8 1471.5,644.9 1472,645 1472.5,644.7 1473,645.1 1473.5,645.2 1474,645.1 1474.5,645.1 1475,645 1475.5,645.1 1476,645.1 1476.5,645.1 1477,645 1477.5,645.4 1478,645.1 1478.5,645.3 1479,645 1479.5,645.3 1480,645.3 1480.5,645.2 1481,645.3 1481.5,645.3 1482,645.2 1482.5,645.4 1483,645.4 1483.5,645.2 1484,645.4 1484.5,645.3 1485,645.6 1485.5,645.4 1486,645.5 1486.5,645.4 1487,645.1 1487.5,645.7 1488,645.6 1488.5,645.5 1489,645.5 1489.5,645.7 1490,645.5 1490.5,645.6 1491,645.5 1491.5,645.7 1492,645.1 1492.5,645.5 1493,645.5 1493.5,645.9 1494,645.7 1494.5,645.6 1495,645.4 1495.5,645.8 1496,645.6 1496.5,645.8 1497,645.7 1497.5,646 1498,646 1498.5,645.8 1499,645.6 1499.5,645.6 1500,645.8 1500.5,645.9 1501,645.6 1501.5,645.8 1502,645.9 1502.5,645.8 1503,645.8 1503.5,645.5 1504,645.8 1504.5,645.9 1505,645.9 1505.5,646.1 1506,645.6 1506.5,646 1507,645.8 1507.5,646 1508,646 1508.5,646.2 1509,645.9 1509.5,645.6 1510,645.6 1510.5,645.8 1511,645.7 1511.5,646 1512,646.1 1512.5,645.8 1513,646 1513.5,645.6 1514,645.7 1514.5,646.1 1515,646 1515.5,646 1516,645.9 1516.5,646 1517,646 1517.5,646.2 1518,645.8 1518.5,645.9 1519,646 1519.5,646.2 1520,646 1520.5,645.6 1521,646 1521.5,645.8 1522,646.4 1522.5,646.1 1523,646.1 1523.5,645.9 1524,646.2 1524.5,645.9 1525,645.9 1525.5,646.1 1526,646.1 1526.5,646 1527,646.2 1527.5,646.3 1528,646.4 1528.5,646.1 1529,646.2 1529.5,646.1 1530,646.2 1530.5,646.1 1531,645.8 1531.5,646.2 1532,646.3 1532.5,646.3 1533,646.3 1533.5,646.1 1534,646.2 1534.5,646.2 1535,646.2 1535.5,646.4 1536,646.3 1536.5,646.2 1537,646.2 1537.5,646.1 1538,646.1 1538.5,646.3 1539,646.1 1539.5,646.1 1540,646.3 1540.5,646.1 1541,646.1 1541.5,646.5 1542,646.2 1542.5,646.2 1543,646.2 1543.5,646.5 1544,646.1 1544.5,646.3 1545,646.4 1545.5,646.5 1546,646.2 1546.5,646.3 1547,646.5 1547.5,646 1548,646.4 1548.5,646.2 1549,646.4 1549.5,646.3 1550,646.2 1550.5,646.3 1551,646.2 1551.5,646.3 1552,646 1552.5,646.2 1553,646.2 1553.5,646.4 1554,646.3 1554.5,646.2 1555,646 1555.5,646.1 1556,646.3 1556.5,646.1 1557,646.3 1557.5,646.3 1558,646.3 1558.5,646.3 1559,646.2 1559.5,645.8 1560,646.3 1560.5,646.1 1561,646.2 1561.5,646.3 1562,646.2 1562.5,646.4 1563,646.3 1563.5,646.1 1564,646.1 1564.5,646.3 1565,646.3 1565.5,646.5 1566,646.2 1566.5,646.4 1567,646.5 1567.5,646.3 1568,646.3 1568.5,646.6 1569,646.2 1569.5,646.6 1570,646.6 1570.5,646.2 1571,646.4 1571.5,646.6 1572,646.2 1572.5,646.2 1573,646.4 1573.5,646.4 1574,646.3 1574.5,646.2 1575,646.4 1575.5,646.5 1576,646.4 1576.5,646.5 1577,646.6 1577.5,646.5 1578,646.5 1578.5,646.4 1579,646.2 1579.5,646.3 1580,646 1580.5,646.3 1581,646.4 1581.5,646.5 1582,646.3 1582.5,646.3 1583,646.6 1583.5,646.5 1584,646.3 1584.5,646.5 1585,646.3 1585.5,646.4 1586,646.1 1586.5,646.6 1587,646.4 1587.5,646.6 1588,646.6 1588.5,646.1 1589,646.3 1589.5,646.3 1590,646.4 1590.5,646.4 1591,646.1 1591.5,646.6 1592,646.2 1592.5,646.3 1593,646.6 1593.5,646.4 1594,646.5 1594.5,646.4 1595,646.3 1595.5,646.4 1596,646.2 1596.5,646.3 1597,646.8 1597.5,646.3 1598,646.6 1598.5,646.9 1599,646.5 1599.5,646.5 1600,646.1 1600.5,646.3 1601,646.3 1601.5,646.4 1602,646.3 1602.5,646.5 1603,646.3 1603.5,646.5 1604,646.5 1604.5,646.4 1605,646.6 1605.5,646 1606,646.4 1606.5,646.5 1607,646.6 1607.5,646.6 1608,646.5 1608.5,646.4 1609,646.7 1609.5,646.5 1610,646.2 1610.5,646.4 1611,646.5 1611.5,646.5 1612,646.5 1612.5,646.4 1613,646.3 1613.5,646.3 1614,646.6 1614.5,646.6 1615,646.4 1615.5,646.6 1616,646.3 1616.5,646.3 1617,646.6 1617.5,646.8 1618,646.7 1618.5,646.5 1619,646.7 1619.5,646.4 1620,646.5 1620.5,646.5 1621,646.5 1621.5,646.6 1622,646.4 1622.5,646.8 1623,646.4 1623.5,646.1 1624,646.3 1624.5,646.5 1625,646.5 1625.5,646.4 1626,646.5 1626.5,646.3 1627,646.6 1627.5,646.5 1628,646.7 1628.5,646.4 1629,646.7 1629.5,646.4 1630,646.4 1630.5,646.7 1631,646.4 1631.5,646.5 1632,646.6 1632.5,646.7 1633,646.8 1633.5,646.7 1634,646.8 1634.5,646.5 1635,646.7 1635.5,646.2 1636,646.5 1636.5,646.3 1637,646.6 1637.5,646.3 1638,646.6 1638.5,646.4 1639,646.5 1639.5,646.4 1640,646.7 1640.5,646.7 1641,646.4 1641.5,646.5 1642,646.6 1642.5,646.4 1643,646.5 1643.5,646.6 1644,646.2 1644.5,646.9 1645,646.6 1645.5,646.4 1646,646.5 1646.5,646.2 1647,646.4 1647.5,646.5 1648,646.6" fill="none" stroke="#6fd3b9" stroke-width="3.5" stroke-linejoin="round" /><rect x="1268.6" y="586.8" width="3.4" height="59.2" rx="1.6" fill="#6fd3b9"/><rect x="1277.5" y="633.7" width="3.9" height="12.2" rx="1.6" fill="#6fd3b9"/><rect x="1284.5" y="603.6" width="5.4" height="42.2" rx="1.6" fill="#6fd3b9"/><rect x="1303.2" y="600.2" width="3.9" height="45.2" rx="1.6" fill="#6fd3b9"/><rect x="1318.1" y="619.1" width="5.4" height="25.8" rx="1.6" fill="#6fd3b9"/><rect x="1512.7" y="575.8" width="3.7" height="70.2" rx="1.6" fill="#6fd3b9"/><rect x="1519.9" y="584.8" width="4.1" height="61.2" rx="1.6" fill="#6fd3b9"/><rect x="1530.1" y="529.9" width="3.9" height="116.2" rx="1.6" fill="#6fd3b9"/><rect x="1547.6" y="630.1" width="3.7" height="16.2" rx="1.6" fill="#6fd3b9"/><rect x="1558.2" y="615.6" width="3.7" height="30.7" rx="1.6" fill="#6fd3b9"/><rect x="1136.5" y="642.8" width="3.4" height="3.7" rx="1.6" fill="#6fd3b9"/><rect x="1229.5" y="641.6" width="3.9" height="4.7" rx="1.6" fill="#6fd3b9"/><rect x="1590.5" y="641.7" width="3.9" height="4.7" rx="1.6" fill="#6fd3b9"/><rect x="1292.3" y="642.5" width="3.4" height="3.2" rx="1.6" fill="#6fd3b9"/><rect x="1489.3" y="642.3" width="3.4" height="3.2" rx="1.6" fill="#6fd3b9"/>
<rect x="1262" y="197.4" width="17" height="465.6" rx="5" fill="#76b041" fill-opacity="0.27"/>
<rect x="1364.2" y="197.4" width="16.6" height="465.6" rx="5" fill="#f9a3b0" fill-opacity="0.27"/>
<rect x="1493.2" y="197.4" width="17.4" height="465.6" rx="5" fill="#7fa8e6" fill-opacity="0.27"/>
<rect x="1552.8" y="197.4" width="17" height="465.6" rx="5" fill="#7f6bdb" fill-opacity="0.27"/>
<line x1="995.5" y1="676.7" x2="1649.5" y2="676.7" stroke="#000" stroke-width="3" />
<line x1="1648" y1="676.7" x2="1648" y2="687.2" stroke="#000" stroke-width="3" />
<line x1="1601.5" y1="676.7" x2="1601.5" y2="682.2" stroke="#000" stroke-width="3" />
<line x1="1555" y1="676.7" x2="1555" y2="687.2" stroke="#000" stroke-width="3" />
<line x1="1508.5" y1="676.7" x2="1508.5" y2="682.2" stroke="#000" stroke-width="3" />
<line x1="1462" y1="676.7" x2="1462" y2="687.2" stroke="#000" stroke-width="3" />
<line x1="1415.5" y1="676.7" x2="1415.5" y2="682.2" stroke="#000" stroke-width="3" />
<line x1="1369" y1="676.7" x2="1369" y2="687.2" stroke="#000" stroke-width="3" />
<line x1="1322.5" y1="676.7" x2="1322.5" y2="682.2" stroke="#000" stroke-width="3" />
<line x1="1276" y1="676.7" x2="1276" y2="687.2" stroke="#000" stroke-width="3" />
<line x1="1229.5" y1="676.7" x2="1229.5" y2="682.2" stroke="#000" stroke-width="3" />
<line x1="1183" y1="676.7" x2="1183" y2="687.2" stroke="#000" stroke-width="3" />
<line x1="1136.5" y1="676.7" x2="1136.5" y2="682.2" stroke="#000" stroke-width="3" />
<line x1="1090" y1="676.7" x2="1090" y2="687.2" stroke="#000" stroke-width="3" />
<line x1="1043.5" y1="676.7" x2="1043.5" y2="682.2" stroke="#000" stroke-width="3" />
<line x1="997" y1="676.7" x2="997" y2="687.2" stroke="#000" stroke-width="3" />
<text font-size="41.3" text-anchor="middle" transform="translate(1648 730) scale(1 1.035)" >0</text>
<text font-size="41.3" text-anchor="middle" transform="translate(1555 730) scale(1 1.035)" >2</text>
<text font-size="41.3" text-anchor="middle" transform="translate(1462 730) scale(1 1.035)" >4</text>
<text font-size="41.3" text-anchor="middle" transform="translate(1369 730) scale(1 1.035)" >6</text>
<text font-size="41.3" text-anchor="middle" transform="translate(1276 730) scale(1 1.035)" >8</text>
<text font-size="41.3" text-anchor="middle" transform="translate(1183 730) scale(1 1.035)" >10</text>
<text font-size="41.3" text-anchor="middle" transform="translate(1090 730) scale(1 1.035)" >12</text>
<text font-size="41.3" text-anchor="middle" transform="translate(997 730) scale(1 1.035)" >14</text>
<text font-size="45" text-anchor="middle" transform="translate(1322.5 788.5) scale(1 1.01)" ><tspan font-family="Liberation Serif, serif" font-size="45">&#948;</tspan> <tspan dy="-17" font-size="27">1</tspan><tspan dy="17">&#8203;</tspan>H (ppm)</text>
<text font-size="41" transform="translate(959 247.5) scale(1 1.035)" >UiO-66-<tspan font-style="italic">L</tspan><tspan dy="14" font-size="23">3</tspan><tspan dy="-14">&#8203;</tspan></text>
<text font-size="41" transform="translate(959 352) scale(1 1.035)" >UiO-66-<tspan font-style="italic">L</tspan><tspan dy="14" font-size="23">2</tspan><tspan dy="-14">&#8203;</tspan></text>
<text font-size="41" transform="translate(959 469) scale(1 1.035)" >UiO-66-<tspan font-style="italic">L</tspan><tspan dy="14" font-size="23">1</tspan><tspan dy="-14">&#8203;</tspan></text>
<text font-size="41" transform="translate(959 591) scale(1 1.035)" >UiO-66-NH<tspan dy="14" font-size="23">2</tspan><tspan dy="-14">&#8203;</tspan></text>
<text font-size="76" transform="translate(876 121)" >b</text>
<!-- panel_c -->
<rect x="1935.8" y="116.5" width="47.4" height="505.3" fill="#f2c96d" stroke="#000" stroke-width="2.4" />
<rect x="2051.1" y="337.3" width="47.4" height="284.5" fill="#f2c96d" stroke="#000" stroke-width="2.4" />
<rect x="2051.1" y="116.5" width="47.4" height="220.8" fill="#ef7c6f" stroke="#000" stroke-width="2.4" />
<rect x="2166.4" y="339.8" width="47.4" height="282" fill="#f2c96d" stroke="#000" stroke-width="2.4" />
<rect x="2166.4" y="190.8" width="47.4" height="149.1" fill="#ef7c6f" stroke="#000" stroke-width="2.4" />
<rect x="2166.4" y="116.5" width="47.4" height="74.3" fill="#85b5dc" stroke="#000" stroke-width="2.4" />
<rect x="2281.7" y="332.8" width="47.4" height="289" fill="#f2c96d" stroke="#000" stroke-width="2.4" />
<rect x="2281.7" y="116.5" width="47.4" height="216.3" fill="#ef7c6f" stroke="#000" stroke-width="2.4" />
<rect x="2397" y="292.3" width="47.4" height="329.5" fill="#f2c96d" stroke="#000" stroke-width="2.4" />
<rect x="2397" y="187.2" width="47.4" height="105.1" fill="#ef7c6f" stroke="#000" stroke-width="2.4" />
<rect x="2397" y="116.5" width="47.4" height="70.7" fill="#85b5dc" stroke="#000" stroke-width="2.4" />
<rect x="2512.3" y="577.3" width="47.4" height="44.5" fill="#f2c96d" stroke="#000" stroke-width="2.4" />
<rect x="2512.3" y="499" width="47.4" height="78.3" fill="#ef7c6f" stroke="#000" stroke-width="2.4" />
<rect x="2512.3" y="116.5" width="47.4" height="382.5" fill="#85b5dc" stroke="#000" stroke-width="2.4" />
<rect x="1901.5" y="116.5" width="692.1" height="505.3" fill="none" stroke="#000" stroke-width="3" />
<line x1="1890" y1="621.8" x2="1901.5" y2="621.8" stroke="#000" stroke-width="3" />
<line x1="1895.5" y1="571.3" x2="1901.5" y2="571.3" stroke="#000" stroke-width="3" />
<line x1="1890" y1="520.7" x2="1901.5" y2="520.7" stroke="#000" stroke-width="3" />
<line x1="1895.5" y1="470.2" x2="1901.5" y2="470.2" stroke="#000" stroke-width="3" />
<line x1="1890" y1="419.7" x2="1901.5" y2="419.7" stroke="#000" stroke-width="3" />
<line x1="1895.5" y1="369.1" x2="1901.5" y2="369.1" stroke="#000" stroke-width="3" />
<line x1="1890" y1="318.6" x2="1901.5" y2="318.6" stroke="#000" stroke-width="3" />
<line x1="1895.5" y1="268.1" x2="1901.5" y2="268.1" stroke="#000" stroke-width="3" />
<line x1="1890" y1="217.6" x2="1901.5" y2="217.6" stroke="#000" stroke-width="3" />
<line x1="1895.5" y1="167" x2="1901.5" y2="167" stroke="#000" stroke-width="3" />
<line x1="1890" y1="116.5" x2="1901.5" y2="116.5" stroke="#000" stroke-width="3" />
<line x1="1959.5" y1="621.8" x2="1959.5" y2="633.3" stroke="#000" stroke-width="3" />
<line x1="2074.8" y1="621.8" x2="2074.8" y2="633.3" stroke="#000" stroke-width="3" />
<line x1="2190.1" y1="621.8" x2="2190.1" y2="633.3" stroke="#000" stroke-width="3" />
<line x1="2305.4" y1="621.8" x2="2305.4" y2="633.3" stroke="#000" stroke-width="3" />
<line x1="2420.7" y1="621.8" x2="2420.7" y2="633.3" stroke="#000" stroke-width="3" />
<line x1="2536" y1="621.8" x2="2536" y2="633.3" stroke="#000" stroke-width="3" />
<clipPath id="clipC0"><rect x="1800" y="0" width="100" height="634.5"/></clipPath>
<g clip-path="url(#clipC0)"><text font-size="46.7" text-anchor="end" transform="translate(1882.5 637.6) scale(1 1.035)" >0</text></g>
<text font-size="46.7" text-anchor="end" transform="translate(1882.5 536.5) scale(1 1.035)" >20</text>
<text font-size="46.7" text-anchor="end" transform="translate(1882.5 435.5) scale(1 1.035)" >40</text>
<text font-size="46.7" text-anchor="end" transform="translate(1882.5 334.4) scale(1 1.035)" >60</text>
<text font-size="46.7" text-anchor="end" transform="translate(1882.5 233.4) scale(1 1.035)" >80</text>
<text font-size="46.7" text-anchor="end" transform="translate(1882.5 132.3) scale(1 1.035)" >100</text>
<text font-size="47.3" text-anchor="middle" transform="translate(1788.5 369.5) rotate(-90) scale(1 1.01)" >Constituent ratio (%)</text>
<rect x="1897.6" y="68.4" width="60" height="29" fill="#f2c96d" stroke="#000" stroke-width="2.4" />
<rect x="2113.8" y="68.4" width="60" height="29" fill="#ef7c6f" stroke="#000" stroke-width="2.4" />
<rect x="2332.8" y="68.4" width="60" height="29" fill="#85b5dc" stroke="#000" stroke-width="2.4" />
<text font-size="45" transform="translate(1990 98.2) scale(1 1.035)" >-NH<tspan dy="12" font-size="31">2</tspan><tspan dy="-12">&#8203;</tspan></text>
<text font-size="45" transform="translate(2204.5 98.2) scale(1 1.035)" >-NH-</text>
<text font-size="44.5" transform="translate(2424 98.2) scale(1 1.035)" >-N<tspan dy="-17" font-size="31">+</tspan><tspan dy="17">&#8203;</tspan>(CH<tspan dy="12" font-size="31">3</tspan><tspan dy="-12">&#8203;</tspan>)<tspan dy="12" font-size="31">3</tspan><tspan dy="-12">&#8203;</tspan></text>
<text font-size="46" text-anchor="middle" transform="translate(1945.2 712.6) rotate(-30) scale(1 1.035)" >UiO-66-NH<tspan dy="10" font-size="27">2</tspan><tspan dy="-10">&#8203;</tspan></text>
<text font-size="46" text-anchor="middle" transform="translate(2052.3 712.6) rotate(-30) scale(1 1.035)" >UiO-66-<tspan font-style="italic">L</tspan><tspan dy="10" font-size="27">1</tspan><tspan dy="-10">&#8203;</tspan></text>
<text font-size="46" text-anchor="middle" transform="translate(2170.8 712.6) rotate(-30) scale(1 1.035)" >UiO-66-<tspan font-style="italic">L</tspan><tspan dy="10" font-size="27">2</tspan><tspan dy="-10">&#8203;</tspan></text>
<text font-size="46" text-anchor="middle" transform="translate(2306.9 712.6) rotate(-30) scale(1 1.035)" >UiO-66-2<tspan font-style="italic">L</tspan><tspan dy="10" font-size="27">1</tspan><tspan dy="-10">&#8203;</tspan></text>
<text font-size="46" text-anchor="middle" transform="translate(2421.2 712.6) rotate(-30) scale(1 1.035)" >UiO-66-2<tspan font-style="italic">L</tspan><tspan dy="10" font-size="27">2</tspan><tspan dy="-10">&#8203;</tspan></text>
<text font-size="46" text-anchor="middle" transform="translate(2545.5 712.6) rotate(-30) scale(1 1.035)" >UiO-66-<tspan font-style="italic">L</tspan><tspan dy="10" font-size="27">3</tspan><tspan dy="-10">&#8203;</tspan></text>
<text font-size="71" font-weight="bold" transform="translate(1688 124.3) scale(1 1.06)" >c</text>
<!-- panel_d -->
<path d="M123.5,1415.4 V1318.8 M144.5,1415.4 V1349 M157.1,1415.4 V1319.6 M189.5,1415.4 V1301.5 M200.8,1415.4 V1395.2 M205.9,1415.4 V1390.2 M217.2,1415.4 V1355.3 M231.9,1415.4 V1359.5 M242,1415.4 V1371.3 M267.6,1415.4 V1395.2 M280.3,1415.4 V1375.1 M293.7,1415.4 V1375.1 M310.5,1415.4 V1396.1 M339.5,1415.4 V1396.1 M373.1,1415.4 V1396.1 M378.2,1415.4 V1396.1 M382.8,1415.4 V1396.1 M397.5,1415.4 V1396.1 M491.2,1415.4 V1397.3 M545.8,1415.4 V1397.3 M570.2,1415.4 V1397.3 M612.2,1415.4 V1397.3 M639.5,1415.4 V1397.3 M778.6,1415.4 V1398.2" stroke="#f4736a" stroke-width="3.9" stroke-linecap="round" fill="none"/>
<path d="M169.7,1415.4 V1254.5 M253.8,1415.4 V1353.2 M358,1415.4 V1396.1 M421,1415.4 V1396.1 M584.4,1415.4 V894 M671,1415.4 V1397.3 M755.5,1415.4 V1398.2" stroke="#2bc29a" stroke-width="3.9" stroke-linecap="round" fill="none"/>
<rect x="87.4" y="850.3" width="703.8" height="565.1" fill="none" stroke="#000" stroke-width="3" />
<line x1="87.4" y1="1415.4" x2="87.4" y2="1421.9" stroke="#000" stroke-width="3" />
<line x1="165.6" y1="1415.4" x2="165.6" y2="1427.4" stroke="#000" stroke-width="3" />
<line x1="243.8" y1="1415.4" x2="243.8" y2="1421.9" stroke="#000" stroke-width="3" />
<line x1="322" y1="1415.4" x2="322" y2="1427.4" stroke="#000" stroke-width="3" />
<line x1="400.2" y1="1415.4" x2="400.2" y2="1421.9" stroke="#000" stroke-width="3" />
<line x1="478.4" y1="1415.4" x2="478.4" y2="1427.4" stroke="#000" stroke-width="3" />
<line x1="556.6" y1="1415.4" x2="556.6" y2="1421.9" stroke="#000" stroke-width="3" />
<line x1="634.8" y1="1415.4" x2="634.8" y2="1427.4" stroke="#000" stroke-width="3" />
<line x1="713" y1="1415.4" x2="713" y2="1421.9" stroke="#000" stroke-width="3" />
<line x1="791.2" y1="1415.4" x2="791.2" y2="1427.4" stroke="#000" stroke-width="3" />
<text font-size="47" text-anchor="middle" transform="translate(165.6 1472.3) scale(1 1.035)" >3200</text>
<text font-size="47" text-anchor="middle" transform="translate(322 1472.3) scale(1 1.035)" >3600</text>
<text font-size="47" text-anchor="middle" transform="translate(478.4 1472.3) scale(1 1.035)" >4000</text>
<text font-size="47" text-anchor="middle" transform="translate(634.8 1472.3) scale(1 1.035)" >4400</text>
<text font-size="47" text-anchor="middle" transform="translate(791.2 1472.3) scale(1 1.035)" >4800</text>
<text font-size="46" text-anchor="middle" transform="translate(439 1527) scale(1 1.01)" >m/z</text>
<text font-size="48" text-anchor="middle" transform="translate(58.8 1133) rotate(-90) scale(1 1.01)" >Intensity (a.u.)</text>
<text font-size="76" transform="translate(17 908)" >d</text>
<text font-size="41.5" transform="translate(599 930.1) scale(1 1.035)" >4271</text>
<text font-size="41.5" transform="translate(599 981.8) scale(1 1.035)" >61.8%</text>
<text font-size="41.5" transform="translate(599 1030.1) scale(1 1.035)" >[m+K]<tspan dy="-19" font-size="23">+</tspan><tspan dy="19">&#8203;</tspan></text>
<text font-size="41.5" transform="translate(103.5 1191.8) scale(1 1.035)" >[m+H<tspan dy="13" font-size="23">2</tspan><tspan dy="-13">&#8203;</tspan>O]<tspan dy="-19" font-size="23">+</tspan><tspan dy="19">&#8203;</tspan></text>
<text font-size="41.5" transform="translate(125.5 1240.2) scale(1 1.035)" >3210</text>
<text font-size="41.5" transform="translate(206.5 1338.9) scale(1 1.035)" >3425</text>
<text font-size="41.5" transform="translate(373.5 1346) scale(1 1.035)" >3854</text>
<text font-size="41.5" transform="translate(308.3 1383) scale(1 1.035)" >3693</text>
<text font-size="41.5" transform="translate(617 1385.1) scale(1 1.035)" >4494</text>
<text font-size="41.5" transform="translate(692.8 1346) scale(1 1.035)" >4712</text>
<g stroke="#000" stroke-width="3" fill="none" stroke-linecap="butt">
<path d="M113.2,950.1 H159.1 M212.1,950.1 H228 M263.4,950.1 H313.5"/>
<path d="M136.4,920.8 H131.5 V979.5 H136.4 M287.4,920.8 H292 V979.5 H287.4"/>
<path d="M245.6,902.5 V931.8 M245.6,972.1 V1018.5"/>
<path d="M246.5,1015.8 L200.4,1040 M249.5,1022.6 L204.8,1046.6"/>
<path d="M245,1017.6 L288.3,1043 M320.8,1043.5 L363.6,1018.5 L423.4,1052.7 L463.7,1030"/>
<path d="M482.5,950.1 V1000.2 M482.5,1039.3 V1086.4 M519.2,1018.5 H551.2"/>
</g>
<text font-size="41" text-anchor="middle" transform="translate(177 967.2) scale(1 1.035)" >C</text>
<text font-size="41" text-anchor="middle" transform="translate(246 967.2) scale(1 1.035)" >C</text>
<text font-size="41" transform="translate(163.5 922.8) scale(1 1.035)" >H<tspan dy="7.5" font-size="29">2</tspan><tspan dy="-7.5">&#8203;</tspan></text>
<text font-size="41" transform="translate(231 896.4) scale(1 1.035)" >CH<tspan dy="8.5" font-size="29">3</tspan><tspan dy="-8.5">&#8203;</tspan></text>
<text font-size="30" transform="translate(300.5 988)" >n</text>
<text font-size="40" text-anchor="middle" fill="#d40000" transform="translate(186.2 1068.6) scale(1 1.035)" >O</text>
<text font-size="40" text-anchor="middle" fill="#d40000" transform="translate(304.6 1068.6) scale(1 1.035)" >O</text>
<text font-size="40" fill="#0a7aff" transform="translate(467.5 1034.4) scale(1 1.035)" >N<tspan dy="-17" font-size="26">+</tspan><tspan dy="17">&#8203;</tspan></text>
<text font-size="53" font-weight="bold" font-style="italic" transform="translate(361 922.8) scale(1 1.035)" >n=6</text>
<!-- panel_e -->
<g stroke="#fff" stroke-width="1.8" stroke-linejoin="round">
<path d="M1005.4,1004.3 L1005.4,919.8 A84.5,84.5 0 0 1 1060.6,1068.3 Z" fill="#808080"/>
<path d="M1005.4,1004.3 L1060.6,1068.3 A84.5,84.5 0 0 1 922,1017.8 Z" fill="#3a86b8"/>
<path d="M1005.4,1004.3 L922,1017.8 A84.5,84.5 0 0 1 977.6,924.5 Z" fill="#dd4f47"/>
<path d="M1005.4,1004.3 L977.6,924.5 A84.5,84.5 0 0 1 1005.4,919.8 Z" fill="#fdb706"/>
</g>
<g stroke="#fff" stroke-width="1.8" stroke-linejoin="round">
<path d="M1285.4,1004.3 L1285.4,919.8 A84.5,84.5 0 0 1 1329.9,1076.1 Z" fill="#808080"/>
<path d="M1285.4,1004.3 L1329.9,1076.1 A84.5,84.5 0 0 1 1207.4,1036.8 Z" fill="#3a86b8"/>
<path d="M1285.4,1004.3 L1207.4,1036.8 A84.5,84.5 0 0 1 1260.7,923.5 Z" fill="#dd4f47"/>
<path d="M1285.4,1004.3 L1260.7,923.5 A84.5,84.5 0 0 1 1285.4,919.8 Z" fill="#fdb706"/>
</g>
<g stroke="#fff" stroke-width="1.8" stroke-linejoin="round">
<path d="M1569.9,1007.9 L1569.9,923.4 A84.5,84.5 0 0 1 1635.4,1061.3 Z" fill="#808080"/>
<path d="M1569.9,1007.9 L1635.4,1061.3 A84.5,84.5 0 0 1 1493.3,1043.5 Z" fill="#3a86b8"/>
<path d="M1569.9,1007.9 L1493.3,1043.5 A84.5,84.5 0 0 1 1540.4,928.7 Z" fill="#dd4f47"/>
<path d="M1569.9,1007.9 L1540.4,928.7 A84.5,84.5 0 0 1 1569.9,923.4 Z" fill="#fdb706"/>
</g>
<g stroke="#fff" stroke-width="1.8" stroke-linejoin="round">
<path d="M1005.4,1340 L1005.4,1255.5 A84.5,84.5 0 0 1 1059.9,1404.5 Z" fill="#808080"/>
<path d="M1005.4,1340 L1059.9,1404.5 A84.5,84.5 0 0 1 942.4,1396.3 Z" fill="#3a86b8"/>
<path d="M1005.4,1340 L942.4,1396.3 A84.5,84.5 0 0 1 960.6,1268.3 Z" fill="#dd4f47"/>
<path d="M1005.4,1340 L960.6,1268.3 A84.5,84.5 0 0 1 1005.4,1255.5 Z" fill="#fdb706"/>
</g>
<g stroke="#fff" stroke-width="1.8" stroke-linejoin="round">
<path d="M1286.7,1340 L1286.7,1255.5 A84.5,84.5 0 0 1 1362.9,1376.5 Z" fill="#808080"/>
<path d="M1286.7,1340 L1362.9,1376.5 A84.5,84.5 0 0 1 1216.2,1386.5 Z" fill="#3a86b8"/>
<path d="M1286.7,1340 L1216.2,1386.5 A84.5,84.5 0 0 1 1243.2,1267.6 Z" fill="#dd4f47"/>
<path d="M1286.7,1340 L1243.2,1267.6 A84.5,84.5 0 0 1 1280.8,1255.7 Z" fill="#fdb706"/>
<path d="M1286.7,1340 L1280.8,1255.7 A84.5,84.5 0 0 1 1286.7,1255.5 Z" fill="#62c0a3"/>
</g>
<g stroke="#fff" stroke-width="1.8" stroke-linejoin="round">
<path d="M1566.3,1346.7 L1566.3,1264 A82.7,82.7 0 0 1 1601.1,1421.7 Z" fill="#808080"/>
<path d="M1566.3,1346.7 L1601.1,1421.7 A82.7,82.7 0 0 1 1490.7,1380.2 Z" fill="#3a86b8"/>
<path d="M1566.3,1346.7 L1490.7,1380.2 A82.7,82.7 0 0 1 1525.2,1274.9 Z" fill="#dd4f47"/>
<path d="M1566.3,1346.7 L1525.2,1274.9 A82.7,82.7 0 0 1 1557.7,1264.5 Z" fill="#fdb706"/>
<path d="M1566.3,1346.7 L1557.7,1264.5 A82.7,82.7 0 0 1 1566.3,1264 Z" fill="#62c0a3"/>
</g>
<text font-size="50" text-anchor="middle" fill="#c9900c" transform="translate(1001.8 903.1) scale(1 1.035)" >N 3.6%</text>
<text font-size="50" text-anchor="middle" fill="#c9900c" transform="translate(1293.9 903.1) scale(1 1.035)" >N 3.4%</text>
<text font-size="50" text-anchor="middle" fill="#c9900c" transform="translate(1566.1 903.1) scale(1 1.035)" >N 4.0%</text>
<text font-size="50" text-anchor="middle" fill="#c9900c" transform="translate(1001.8 1244.7) scale(1 1.035)" >N 7.0%</text>
<text font-size="50" text-anchor="middle" fill="#c9900c" transform="translate(1293.9 1244.7) scale(1 1.035)" >N 6.0%</text>
<text font-size="50" text-anchor="middle" fill="#c9900c" transform="translate(1566.1 1244.7) scale(1 1.035)" >N 5.8%</text>
<text font-size="41" text-anchor="middle" transform="translate(1004 1150.3) scale(1 1.035)" >UiO-66-NH<tspan dy="14" font-size="23">2</tspan><tspan dy="-14">&#8203;</tspan></text>
<text font-size="41" text-anchor="middle" transform="translate(1289.9 1150.3) scale(1 1.035)" >UiO-66-<tspan font-style="italic">L</tspan><tspan dy="14" font-size="23">1</tspan><tspan dy="-14">&#8203;</tspan></text>
<text font-size="41" text-anchor="middle" transform="translate(1573 1150.3) scale(1 1.035)" >UiO-66-<tspan font-style="italic">L</tspan><tspan dy="14" font-size="23">2</tspan><tspan dy="-14">&#8203;</tspan></text>
<text font-size="41" text-anchor="middle" transform="translate(1001 1485.2) scale(1 1.035)" >UiO-66-2<tspan font-style="italic">L</tspan><tspan dy="14" font-size="23">1</tspan><tspan dy="-14">&#8203;</tspan></text>
<text font-size="41" text-anchor="middle" transform="translate(1292.5 1485.2) scale(1 1.035)" >UiO-66-2<tspan font-style="italic">L</tspan><tspan dy="14" font-size="23">2</tspan><tspan dy="-14">&#8203;</tspan></text>
<text font-size="41" text-anchor="middle" transform="translate(1571 1485.2) scale(1 1.035)" >UiO-66-<tspan font-style="italic">L</tspan><tspan dy="14" font-size="23">3</tspan><tspan dy="-14">&#8203;</tspan></text>
<text font-size="76" transform="translate(811 907.6)" >e</text>
<!-- panel_f -->
<linearGradient id="fbar" x1="0" y1="0" x2="0" y2="1"><stop offset="0" stop-color="#f76e62"/><stop offset="1" stop-color="#fddfdb"/></linearGradient>
<rect x="1942.2" y="1102.3" width="34.6" height="310.3" fill="url(#fbar)" />
<rect x="2059.1" y="968.8" width="34.6" height="443.8" fill="url(#fbar)" />
<rect x="2176" y="1139.3" width="34.6" height="273.3" fill="url(#fbar)" />
<rect x="2292.9" y="1001.4" width="34.6" height="411.2" fill="url(#fbar)" />
<rect x="2409.8" y="1260.9" width="34.6" height="151.7" fill="url(#fbar)" />
<rect x="2526.7" y="1099.2" width="34.6" height="313.4" fill="url(#fbar)" />
<linearGradient id="dg1" x1="0" y1="0" x2="0" y2="1"><stop offset="0" stop-color="#1b1b1b"/><stop offset="0.45" stop-color="#222"/><stop offset="0.6" stop-color="#3a3a3a"/><stop offset="1" stop-color="#5a5a5a"/></linearGradient>
<rect x="1905.1" y="1039.1" width="110.9" height="20.7" fill="url(#dg1)" />
<path d="M1934,1040.1 A26.2,9.1 0 0 1 1986.5,1040.1 Z" fill="#1b1b1b"/>
<path d="M1936,1048.4 A24.2,10.4 0 0 0 1984.5,1048.4 Z" fill="#1e1e1e"/>
<rect x="1905.1" y="1039.1" width="110.9" height="9.7" fill="#1c1c1c" />
<rect x="1957.2" y="975.1" width="6.1" height="33.4" rx="1.5" fill="#1a1a1a" transform="rotate(-0.8 1957.2 1008.5)"/>
<linearGradient id="dg2" x1="0" y1="0" x2="0" y2="1"><stop offset="0" stop-color="#1c1c1c"/><stop offset="0.6" stop-color="#202020"/><stop offset="0.68" stop-color="#2c2c2c"/><stop offset="0.75" stop-color="#1e1e1e"/><stop offset="1" stop-color="#242424"/></linearGradient>
<rect x="2021.2" y="925.5" width="110.9" height="22.2" fill="url(#dg2)" />
<path d="M2054.1,926.5 A24.5,18.1 0 0 1 2103,926.5 Z" fill="#1b1b1b"/>
<ellipse cx="2078.6" cy="920.6" rx="12.7" ry="4" fill="#5a5a5a" fill-opacity="0.45"/>
<rect x="2070.8" y="863.2" width="7.3" height="22.5" rx="1.5" fill="#1a1a1a" transform="rotate(-0.8 2070.8 885.7)"/>
<linearGradient id="dg3" x1="0" y1="0" x2="0" y2="1"><stop offset="0" stop-color="#1b1b1b"/><stop offset="0.45" stop-color="#222"/><stop offset="0.6" stop-color="#3a3a3a"/><stop offset="1" stop-color="#5a5a5a"/></linearGradient>
<rect x="2138.2" y="1079.4" width="109.9" height="18.3" fill="url(#dg3)" />
<path d="M2164.8,1080.4 A30.5,9.6 0 0 1 2225.9,1080.4 Z" fill="#1b1b1b"/>
<path d="M2166.8,1087.6 A28.5,9.1 0 0 0 2223.9,1087.6 Z" fill="#1e1e1e"/>
<rect x="2138.2" y="1079.4" width="109.9" height="8.6" fill="#1c1c1c" />
<rect x="2190.4" y="1015.1" width="7.4" height="30.1" rx="1.5" fill="#1a1a1a" transform="rotate(-0.8 2190.4 1045.2)"/>
<linearGradient id="dg4" x1="0" y1="0" x2="0" y2="1"><stop offset="0" stop-color="#1c1c1c"/><stop offset="0.6" stop-color="#202020"/><stop offset="0.68" stop-color="#2c2c2c"/><stop offset="0.75" stop-color="#1e1e1e"/><stop offset="1" stop-color="#242424"/></linearGradient>
<rect x="2255.2" y="958.5" width="110.6" height="19" fill="url(#dg4)" />
<path d="M2283.7,959.5 A26.1,16.9 0 0 1 2335.8,959.5 Z" fill="#1b1b1b"/>
<ellipse cx="2309.8" cy="953.9" rx="13.5" ry="3.7" fill="#5a5a5a" fill-opacity="0.45"/>
<rect x="2306.5" y="888.1" width="7.3" height="31.8" rx="1.5" fill="#1a1a1a" transform="rotate(-0.8 2306.5 919.9)"/>
<linearGradient id="dg5" x1="0" y1="0" x2="0" y2="1"><stop offset="0" stop-color="#777" stop-opacity="0.2"/><stop offset="0.4" stop-color="#555"/><stop offset="1" stop-color="#666"/></linearGradient>
<rect x="2372.2" y="1214.5" width="110.7" height="12.4" fill="url(#dg5)" />
<path d="M2386.5,1210.5 C2408.5,1204.5 2402.8,1203.8 2427.8,1203.8 C2452.8,1203.8 2442,1205.5 2475,1206.5 L2477,1211.5 L2461,1215.5 L2475,1219.5 L2378.5,1219.5 Z" fill="#1c1c1c"/>
<path d="M2386.5,1217.5 H2471 V1224.9 H2392.5 Z" fill="#1f1f1f"/>
<rect x="2425.5" y="1156.3" width="6.7" height="27.7" rx="1.5" fill="#1a1a1a" transform="rotate(-0.8 2425.5 1184)"/>
<linearGradient id="dg6" x1="0" y1="0" x2="0" y2="1"><stop offset="0" stop-color="#1b1b1b"/><stop offset="0.45" stop-color="#222"/><stop offset="0.6" stop-color="#3a3a3a"/><stop offset="1" stop-color="#5a5a5a"/></linearGradient>
<rect x="2486" y="1044.7" width="114" height="19" fill="url(#dg6)" />
<path d="M2517.5,1045.7 A28.1,14.4 0 0 1 2573.7,1045.7 Z" fill="#1b1b1b"/>
<path d="M2519.5,1053.2 A26.1,9.5 0 0 0 2571.7,1053.2 Z" fill="#1e1e1e"/>
<rect x="2486" y="1044.7" width="114" height="8.9" fill="#1c1c1c" />
<rect x="2540.5" y="971.1" width="7.3" height="29.5" rx="1.5" fill="#1a1a1a" transform="rotate(-0.8 2540.5 1000.6)"/>
<rect x="1901" y="848.5" width="702.5" height="564.1" fill="none" stroke="#000" stroke-width="3" />
<line x1="1890" y1="1412.6" x2="1901" y2="1412.6" stroke="#000" stroke-width="3" />
<line x1="1895" y1="1349.9" x2="1901" y2="1349.9" stroke="#000" stroke-width="3" />
<line x1="1890" y1="1287.2" x2="1901" y2="1287.2" stroke="#000" stroke-width="3" />
<line x1="1895" y1="1224.6" x2="1901" y2="1224.6" stroke="#000" stroke-width="3" />
<line x1="1890" y1="1161.9" x2="1901" y2="1161.9" stroke="#000" stroke-width="3" />
<line x1="1895" y1="1099.2" x2="1901" y2="1099.2" stroke="#000" stroke-width="3" />
<line x1="1890" y1="1036.5" x2="1901" y2="1036.5" stroke="#000" stroke-width="3" />
<line x1="1895" y1="973.9" x2="1901" y2="973.9" stroke="#000" stroke-width="3" />
<line x1="1890" y1="911.2" x2="1901" y2="911.2" stroke="#000" stroke-width="3" />
<line x1="1959.5" y1="1412.6" x2="1959.5" y2="1424.1" stroke="#000" stroke-width="3" />
<line x1="2076.4" y1="1412.6" x2="2076.4" y2="1424.1" stroke="#000" stroke-width="3" />
<line x1="2193.3" y1="1412.6" x2="2193.3" y2="1424.1" stroke="#000" stroke-width="3" />
<line x1="2310.2" y1="1412.6" x2="2310.2" y2="1424.1" stroke="#000" stroke-width="3" />
<line x1="2427.1" y1="1412.6" x2="2427.1" y2="1424.1" stroke="#000" stroke-width="3" />
<line x1="2544" y1="1412.6" x2="2544" y2="1424.1" stroke="#000" stroke-width="3" />
<clipPath id="clipF0"><rect x="1800" y="0" width="100" height="1425.5"/></clipPath>
<g clip-path="url(#clipF0)"><text font-size="46" text-anchor="end" transform="translate(1880 1429.1) scale(1 1.035)" >0</text></g>
<text font-size="46" text-anchor="end" transform="translate(1880 1303.7) scale(1 1.035)" >20</text>
<text font-size="46" text-anchor="end" transform="translate(1880 1178.4) scale(1 1.035)" >40</text>
<text font-size="46" text-anchor="end" transform="translate(1880 1053) scale(1 1.035)" >60</text>
<text font-size="46" text-anchor="end" transform="translate(1880 927.7) scale(1 1.035)" >80</text>
<text font-size="48" text-anchor="middle" transform="translate(1813 1131) rotate(-90) scale(1 1.01)" >Water contact angle (degree)</text>
<text font-size="41.5" text-anchor="middle" transform="translate(1959.5 1156) scale(1 1.035)" >49.5<tspan dy="-15" font-size="24">o</tspan><tspan dy="15">&#8203;</tspan></text>
<text font-size="41.5" text-anchor="middle" transform="translate(2077.5 1013.4) scale(1 1.035)" >70.8<tspan dy="-15" font-size="24">o</tspan><tspan dy="15">&#8203;</tspan></text>
<text font-size="41.5" text-anchor="middle" transform="translate(2193.5 1191) scale(1 1.035)" >43.6<tspan dy="-15" font-size="24">o</tspan><tspan dy="15">&#8203;</tspan></text>
<text font-size="41.5" text-anchor="middle" transform="translate(2309 1051.3) scale(1 1.035)" >65.6<tspan dy="-15" font-size="24">o</tspan><tspan dy="15">&#8203;</tspan></text>
<text font-size="41.5" text-anchor="middle" transform="translate(2427 1310.5) scale(1 1.035)" >24.2<tspan dy="-15" font-size="24">o</tspan><tspan dy="15">&#8203;</tspan></text>
<text font-size="41.5" text-anchor="middle" transform="translate(2550.5 1154.5) scale(1 1.035)" >50.0<tspan dy="-15" font-size="24">o</tspan><tspan dy="15">&#8203;</tspan></text>
<text font-size="46" text-anchor="middle" transform="translate(1945.2 1503.6) rotate(-30) scale(1 1.035)" >UiO-66-NH<tspan dy="10" font-size="27">2</tspan><tspan dy="-10">&#8203;</tspan></text>
<text font-size="46" text-anchor="middle" transform="translate(2053.9 1503.6) rotate(-30) scale(1 1.035)" >UiO-66-<tspan font-style="italic">L</tspan><tspan dy="10" font-size="27">1</tspan><tspan dy="-10">&#8203;</tspan></text>
<text font-size="46" text-anchor="middle" transform="translate(2174 1503.6) rotate(-30) scale(1 1.035)" >UiO-66-<tspan font-style="italic">L</tspan><tspan dy="10" font-size="27">2</tspan><tspan dy="-10">&#8203;</tspan></text>
<text font-size="46" text-anchor="middle" transform="translate(2311.7 1503.6) rotate(-30) scale(1 1.035)" >UiO-66-2<tspan font-style="italic">L</tspan><tspan dy="10" font-size="27">1</tspan><tspan dy="-10">&#8203;</tspan></text>
<text font-size="46" text-anchor="middle" transform="translate(2427.6 1503.6) rotate(-30) scale(1 1.035)" >UiO-66-2<tspan font-style="italic">L</tspan><tspan dy="10" font-size="27">2</tspan><tspan dy="-10">&#8203;</tspan></text>
<text font-size="46" text-anchor="middle" transform="translate(2553.5 1503.6) rotate(-30) scale(1 1.035)" >UiO-66-<tspan font-style="italic">L</tspan><tspan dy="10" font-size="27">3</tspan><tspan dy="-10">&#8203;</tspan></text>
<text font-size="75" transform="translate(1723 910)" >f</text>
<!-- panel_g -->
<defs>
<filter id="cmapG" filterUnits="userSpaceOnUse" x="158" y="1609.5" width="595" height="571.7" color-interpolation-filters="sRGB"><feTurbulence type="fractalNoise" baseFrequency="0.025 0.003" numOctaves="2" seed="5" result="n0"/><feColorMatrix in="n0" type="matrix" values="1 0 0 0 0  1 0 0 0 0  1 0 0 0 0  0 0 0 0 1" result="m0"/><feComposite operator="arithmetic" in="SourceGraphic" in2="m0" k1="0" k2="1" k3="0.045" k4="-0.0225" result="c0"/><feComponentTransfer in="c0"><feFuncR type="table" tableValues="0.184 0.188 0.192 0.196 0.199 0.203 0.21 0.218 0.225 0.233 0.241 0.248 0.256 0.264 0.271 0.28 0.289 0.298 0.315 0.336 0.358 0.38 0.402 0.424 0.447 0.471 0.495 0.517 0.535 0.554 0.573 0.593 0.613 0.635 0.66 0.685 0.709 0.733 0.757 0.781 0.802 0.822 0.844 0.871 0.886 0.897 0.905 0.912 0.917 0.923 0.931 0.943 0.954 0.964 0.974 0.984 0.99 0.996 0.995 0.994 0.993 0.992 0.992 0.992 0.992 0.991 0.99 0.988 0.985 0.981 0.977 0.969 0.961 0.952 0.942 0.931 0.921 0.911 0.903 0.894 0.885 0.878 0.87 0.861 0.852 0.844 0.83 0.812 0.793 0.774 0.754 0.734 0.713 0.692 0.671 0.654 0.641 0.628 0.619 0.615 0.611 0.608 0.604"/><feFuncG type="table" tableValues="0.29 0.301 0.311 0.322 0.332 0.343 0.355 0.368 0.381 0.394 0.406 0.417 0.428 0.439 0.45 0.464 0.478 0.492 0.51 0.53 0.551 0.571 0.592 0.613 0.634 0.656 0.677 0.696 0.712 0.728 0.744 0.762 0.78 0.797 0.813 0.828 0.844 0.859 0.874 0.889 0.902 0.915 0.929 0.947 0.948 0.941 0.932 0.921 0.915 0.912 0.908 0.905 0.902 0.899 0.897 0.894 0.881 0.868 0.847 0.826 0.804 0.783 0.758 0.733 0.708 0.688 0.667 0.647 0.626 0.605 0.585 0.56 0.535 0.51 0.482 0.453 0.424 0.397 0.371 0.344 0.318 0.294 0.269 0.247 0.226 0.206 0.192 0.184 0.176 0.171 0.167 0.163 0.159 0.155 0.151 0.148 0.145 0.143 0.141 0.14 0.139 0.138 0.137"/><feFuncB type="table" tableValues="0.471 0.486 0.501 0.516 0.531 0.546 0.562 0.578 0.594 0.611 0.626 0.641 0.655 0.67 0.684 0.699 0.713 0.728 0.739 0.75 0.76 0.77 0.78 0.791 0.801 0.811 0.821 0.831 0.84 0.849 0.858 0.867 0.876 0.885 0.894 0.903 0.912 0.92 0.927 0.935 0.941 0.948 0.956 0.969 0.945 0.906 0.867 0.827 0.807 0.794 0.774 0.747 0.718 0.681 0.645 0.608 0.58 0.552 0.53 0.51 0.489 0.469 0.454 0.439 0.425 0.412 0.399 0.387 0.375 0.363 0.351 0.34 0.329 0.317 0.305 0.294 0.282 0.27 0.257 0.244 0.231 0.216 0.202 0.188 0.176 0.163 0.156 0.153 0.15 0.147 0.143 0.14 0.136 0.134 0.131 0.128 0.126 0.123 0.122 0.122 0.122 0.122 0.122"/></feComponentTransfer></filter>
<filter id="cmapCB769" filterUnits="userSpaceOnUse" x="769.3" y="1609.5" width="34.5" height="571.7" color-interpolation-filters="sRGB"><feComponentTransfer in="SourceGraphic"><feFuncR type="table" tableValues="0.184 0.188 0.192 0.196 0.199 0.203 0.21 0.218 0.225 0.233 0.241 0.248 0.256 0.264 0.271 0.28 0.289 0.298 0.315 0.336 0.358 0.38 0.402 0.424 0.447 0.471 0.495 0.517 0.535 0.554 0.573 0.593 0.613 0.635 0.66 0.685 0.709 0.733 0.757 0.781 0.802 0.822 0.844 0.871 0.886 0.897 0.905 0.912 0.917 0.923 0.931 0.943 0.954 0.964 0.974 0.984 0.99 0.996 0.995 0.994 0.993 0.992 0.992 0.992 0.992 0.991 0.99 0.988 0.985 0.981 0.977 0.969 0.961 0.952 0.942 0.931 0.921 0.911 0.903 0.894 0.885 0.878 0.87 0.861 0.852 0.844 0.83 0.812 0.793 0.774 0.754 0.734 0.713 0.692 0.671 0.654 0.641 0.628 0.619 0.615 0.611 0.608 0.604"/><feFuncG type="table" tableValues="0.29 0.301 0.311 0.322 0.332 0.343 0.355 0.368 0.381 0.394 0.406 0.417 0.428 0.439 0.45 0.464 0.478 0.492 0.51 0.53 0.551 0.571 0.592 0.613 0.634 0.656 0.677 0.696 0.712 0.728 0.744 0.762 0.78 0.797 0.813 0.828 0.844 0.859 0.874 0.889 0.902 0.915 0.929 0.947 0.948 0.941 0.932 0.921 0.915 0.912 0.908 0.905 0.902 0.899 0.897 0.894 0.881 0.868 0.847 0.826 0.804 0.783 0.758 0.733 0.708 0.688 0.667 0.647 0.626 0.605 0.585 0.56 0.535 0.51 0.482 0.453 0.424 0.397 0.371 0.344 0.318 0.294 0.269 0.247 0.226 0.206 0.192 0.184 0.176 0.171 0.167 0.163 0.159 0.155 0.151 0.148 0.145 0.143 0.141 0.14 0.139 0.138 0.137"/><feFuncB type="table" tableValues="0.471 0.486 0.501 0.516 0.531 0.546 0.562 0.578 0.594 0.611 0.626 0.641 0.655 0.67 0.684 0.699 0.713 0.728 0.739 0.75 0.76 0.77 0.78 0.791 0.801 0.811 0.821 0.831 0.84 0.849 0.858 0.867 0.876 0.885 0.894 0.903 0.912 0.92 0.927 0.935 0.941 0.948 0.956 0.969 0.945 0.906 0.867 0.827 0.807 0.794 0.774 0.747 0.718 0.681 0.645 0.608 0.58 0.552 0.53 0.51 0.489 0.469 0.454 0.439 0.425 0.412 0.399 0.387 0.375 0.363 0.351 0.34 0.329 0.317 0.305 0.294 0.282 0.27 0.257 0.244 0.231 0.216 0.202 0.188 0.176 0.163 0.156 0.153 0.15 0.147 0.143 0.14 0.136 0.134 0.131 0.128 0.126 0.123 0.122 0.122 0.122 0.122 0.122"/></feComponentTransfer></filter>
<linearGradient id="gG0" gradientUnits="userSpaceOnUse" x1="158" y1="0" x2="753" y2="0"><stop offset="0" stop-color="#3e3e3e"/><stop offset="0.2387" stop-color="#3d3d3d"/><stop offset="0.3395" stop-color="#3b3b3b"/><stop offset="0.3899" stop-color="#3c3c3c"/><stop offset="0.4118" stop-color="#464646"/><stop offset="0.4281" stop-color="#525252"/><stop offset="0.4454" stop-color="#5f5f5f"/><stop offset="0.4605" stop-color="#696969"/><stop offset="0.4778" stop-color="#7d7d7d"/><stop offset="0.5" stop-color="#8e8e8e"/><stop offset="0.5304" stop-color="#9b9b9b"/><stop offset="0.5553" stop-color="#b4b4b4"/><stop offset="0.5775" stop-color="#cdcdcd"/><stop offset="0.5968" stop-color="#dedede"/><stop offset="0.6134" stop-color="#ededed"/><stop offset="0.6336" stop-color="#e1e1e1"/><stop offset="0.6471" stop-color="#d2d2d2"/><stop offset="0.6588" stop-color="#b4b4b4"/><stop offset="0.6697" stop-color="#969696"/><stop offset="0.6782" stop-color="#828282"/><stop offset="0.6891" stop-color="#6c6c6c"/><stop offset="0.7059" stop-color="#5a5a5a"/><stop offset="0.7328" stop-color="#464646"/><stop offset="0.763" stop-color="#3a3a3a"/><stop offset="1" stop-color="#363636"/></linearGradient>
</defs>
<g filter="url(#cmapG)">
<rect x="158" y="1609.5" width="595" height="571.7" fill="url(#gG0)" />
<linearGradient id="lx1" gradientUnits="userSpaceOnUse" x1="498" y1="0" x2="550" y2="0"><stop offset="0" stop-color="#000000" stop-opacity="0"/><stop offset="0.2308" stop-color="#000000" stop-opacity="0.07"/><stop offset="0.4615" stop-color="#000000" stop-opacity="0.12"/><stop offset="0.7115" stop-color="#000000" stop-opacity="0.08"/><stop offset="1" stop-color="#000000" stop-opacity="0"/></linearGradient><linearGradient id="ly1" gradientUnits="userSpaceOnUse" x1="0" y1="1609.5" x2="0" y2="1939.5"><stop offset="0" stop-color="#fff" stop-opacity="1"/><stop offset="1" stop-color="#fff" stop-opacity="0"/></linearGradient><mask id="lm1" maskUnits="userSpaceOnUse" x="498" y="1609.5" width="52" height="330"><rect x="498" y="1609.5" width="52" height="330" fill="url(#ly1)"/></mask>
<g mask="url(#lm1)"><rect x="498" y="1609.5" width="52" height="330" fill="url(#lx1)"/></g>
<linearGradient id="lx2" gradientUnits="userSpaceOnUse" x1="425" y1="0" x2="500" y2="0"><stop offset="0" stop-color="#000000" stop-opacity="0"/><stop offset="0.2667" stop-color="#000000" stop-opacity="0.06"/><stop offset="0.6" stop-color="#000000" stop-opacity="0.07"/><stop offset="1" stop-color="#000000" stop-opacity="0"/></linearGradient><linearGradient id="ly2" gradientUnits="userSpaceOnUse" x1="0" y1="1609.5" x2="0" y2="1909.5"><stop offset="0" stop-color="#fff" stop-opacity="1"/><stop offset="1" stop-color="#fff" stop-opacity="0"/></linearGradient><mask id="lm2" maskUnits="userSpaceOnUse" x="425" y="1609.5" width="75" height="300"><rect x="425" y="1609.5" width="75" height="300" fill="url(#ly2)"/></mask>
<g mask="url(#lm2)"><rect x="425" y="1609.5" width="75" height="300" fill="url(#lx2)"/></g>
<linearGradient id="lx3" gradientUnits="userSpaceOnUse" x1="428" y1="0" x2="512" y2="0"><stop offset="0" stop-color="#ffffff" stop-opacity="0"/><stop offset="0.0333" stop-color="#ffffff" stop-opacity="0.05"/><stop offset="0.1119" stop-color="#ffffff" stop-opacity="0.34"/><stop offset="0.1905" stop-color="#ffffff" stop-opacity="0.5"/><stop offset="0.3667" stop-color="#ffffff" stop-opacity="0.59"/><stop offset="0.5429" stop-color="#ffffff" stop-opacity="0.4"/><stop offset="0.719" stop-color="#ffffff" stop-opacity="0.2"/><stop offset="0.869" stop-color="#ffffff" stop-opacity="0.08"/><stop offset="1" stop-color="#ffffff" stop-opacity="0"/></linearGradient><linearGradient id="ly3" gradientUnits="userSpaceOnUse" x1="0" y1="1900" x2="0" y2="2181.2"><stop offset="0" stop-color="#fff" stop-opacity="0"/><stop offset="0.5725" stop-color="#fff" stop-opacity="0.5"/><stop offset="1" stop-color="#fff" stop-opacity="1"/></linearGradient><mask id="lm3" maskUnits="userSpaceOnUse" x="428" y="1900" width="84" height="281.2"><rect x="428" y="1900" width="84" height="281.2" fill="url(#ly3)"/></mask>
<g mask="url(#lm3)"><rect x="428" y="1900" width="84" height="281.2" fill="url(#lx3)"/></g>
<linearGradient id="lx4" gradientUnits="userSpaceOnUse" x1="505" y1="0" x2="540" y2="0"><stop offset="0" stop-color="#ffffff" stop-opacity="0"/><stop offset="0.4857" stop-color="#ffffff" stop-opacity="0.7"/><stop offset="1" stop-color="#ffffff" stop-opacity="0"/></linearGradient><linearGradient id="ly4" gradientUnits="userSpaceOnUse" x1="0" y1="1850" x2="0" y2="2181.2"><stop offset="0" stop-color="#fff" stop-opacity="0"/><stop offset="0.4529" stop-color="#fff" stop-opacity="0.6"/><stop offset="1" stop-color="#fff" stop-opacity="1"/></linearGradient><mask id="lm4" maskUnits="userSpaceOnUse" x="505" y="1850" width="35" height="331.2"><rect x="505" y="1850" width="35" height="331.2" fill="url(#ly4)"/></mask>
<g mask="url(#lm4)"><rect x="505" y="1850" width="35" height="331.2" fill="url(#lx4)"/></g>
</g>
<rect x="158" y="1609.5" width="595" height="571.7" fill="none" stroke="#000" stroke-width="3" />
<line x1="146.5" y1="1609.5" x2="158" y2="1609.5" stroke="#000" stroke-width="3" />
<text font-size="49" text-anchor="end" transform="translate(138.4 1624.4) scale(1 1.035)" >92</text>
<line x1="146.5" y1="1723.7" x2="158" y2="1723.7" stroke="#000" stroke-width="3" />
<text font-size="49" text-anchor="end" transform="translate(138.4 1738.6) scale(1 1.035)" >74</text>
<line x1="146.5" y1="1837.6" x2="158" y2="1837.6" stroke="#000" stroke-width="3" />
<text font-size="49" text-anchor="end" transform="translate(138.4 1852.5) scale(1 1.035)" >55</text>
<line x1="146.5" y1="1952.5" x2="158" y2="1952.5" stroke="#000" stroke-width="3" />
<text font-size="49" text-anchor="end" transform="translate(138.4 1967.4) scale(1 1.035)" >37</text>
<line x1="146.5" y1="2066.5" x2="158" y2="2066.5" stroke="#000" stroke-width="3" />
<text font-size="49" text-anchor="end" transform="translate(138.4 2081.4) scale(1 1.035)" >18</text>
<line x1="146.5" y1="2181.2" x2="158" y2="2181.2" stroke="#000" stroke-width="3" />
<text font-size="49" text-anchor="end" transform="translate(138.4 2196.1) scale(1 1.035)" >0</text>
<line x1="227.4" y1="2181.2" x2="227.4" y2="2192.7" stroke="#000" stroke-width="3" />
<text font-size="49" text-anchor="middle" transform="translate(227.4 2238.3) scale(1 1.035)" >408</text>
<line x1="332.6" y1="2181.2" x2="332.6" y2="2192.7" stroke="#000" stroke-width="3" />
<text font-size="49" text-anchor="middle" transform="translate(332.6 2238.3) scale(1 1.035)" >405</text>
<line x1="437.7" y1="2181.2" x2="437.7" y2="2192.7" stroke="#000" stroke-width="3" />
<text font-size="49" text-anchor="middle" transform="translate(437.7 2238.3) scale(1 1.035)" >402</text>
<line x1="542.9" y1="2181.2" x2="542.9" y2="2192.7" stroke="#000" stroke-width="3" />
<text font-size="49" text-anchor="middle" transform="translate(542.9 2238.3) scale(1 1.035)" >399</text>
<line x1="648" y1="2181.2" x2="648" y2="2192.7" stroke="#000" stroke-width="3" />
<text font-size="49" text-anchor="middle" transform="translate(648 2238.3) scale(1 1.035)" >396</text>
<line x1="753.1" y1="2181.2" x2="753.1" y2="2192.7" stroke="#000" stroke-width="3" />
<text font-size="49" text-anchor="middle" transform="translate(753.1 2238.3) scale(1 1.035)" >393</text>
<line x1="174.8" y1="2181.2" x2="174.8" y2="2187.2" stroke="#000" stroke-width="3" />
<line x1="280" y1="2181.2" x2="280" y2="2187.2" stroke="#000" stroke-width="3" />
<line x1="385.1" y1="2181.2" x2="385.1" y2="2187.2" stroke="#000" stroke-width="3" />
<line x1="490.3" y1="2181.2" x2="490.3" y2="2187.2" stroke="#000" stroke-width="3" />
<line x1="595.4" y1="2181.2" x2="595.4" y2="2187.2" stroke="#000" stroke-width="3" />
<line x1="700.6" y1="2181.2" x2="700.6" y2="2187.2" stroke="#000" stroke-width="3" />
<text font-size="48.5" text-anchor="middle" transform="translate(454 2297.2) scale(1 1.01)" >Binding energy (eV)</text>
<text font-size="48.4" text-anchor="middle" transform="translate(60 1893) rotate(-90) scale(1 1.01)" >XPS etching depth (nm)</text>
<linearGradient id="cb769" gradientUnits="userSpaceOnUse" x1="0" y1="1609.5" x2="0" y2="2170"><stop offset="0" stop-color="#ffffff"/><stop offset="1" stop-color="#000000"/></linearGradient>
<g filter="url(#cmapCB769)"><rect x="769.3" y="1609.5" width="34.5" height="560.5" fill="url(#cb769)" /></g>
<rect x="769.3" y="2170" width="34.5" height="11.5" fill="#000" />
<rect x="769.3" y="1609.5" width="34.5" height="572" fill="none" stroke="#000" stroke-width="1.8" />
<line x1="803.8" y1="1620.6" x2="814.3" y2="1620.6" stroke="#000" stroke-width="2" />
<text font-size="40" transform="translate(821 1635.4) scale(1 1.035)" >6.82E4</text>
<line x1="803.8" y1="1711.6" x2="814.3" y2="1711.6" stroke="#000" stroke-width="2" />
<text font-size="40" transform="translate(821 1726.4) scale(1 1.035)" >6.05E4</text>
<line x1="803.8" y1="1826.6" x2="814.3" y2="1826.6" stroke="#000" stroke-width="2" />
<text font-size="40" transform="translate(821 1841.4) scale(1 1.035)" >5.08E4</text>
<line x1="803.8" y1="1941.5" x2="814.3" y2="1941.5" stroke="#000" stroke-width="2" />
<text font-size="40" transform="translate(821 1956.3) scale(1 1.035)" >4.11E4</text>
<line x1="803.8" y1="2056.4" x2="814.3" y2="2056.4" stroke="#000" stroke-width="2" />
<text font-size="40" transform="translate(821 2071.2) scale(1 1.035)" >3.14E4</text>
<line x1="803.8" y1="2170" x2="814.3" y2="2170" stroke="#000" stroke-width="2" />
<text font-size="40" transform="translate(821 2184.8) scale(1 1.035)" >2.17E4</text>
<text font-size="46.5" font-weight="bold" fill="#fff" transform="translate(163.5 1655.7) scale(1 1.035)" >UiO-66-<tspan font-style="italic">L</tspan><tspan dy="12" font-size="26">1</tspan><tspan dy="-12">&#8203;</tspan></text>
<text font-size="46.5" font-weight="bold" fill="#fff" transform="translate(163.5 1703.6) scale(1 1.035)" >N 1s</text>
<text font-size="46" transform="translate(418.5 1828) scale(1 1.035)" >-NH-/NH<tspan dy="13" font-size="26">2</tspan><tspan dy="-13">&#8203;</tspan></text>
<text font-size="76" transform="translate(20.5 1592.7)" >g</text>
<!-- panel_h -->
<defs>
<filter id="cmapH" filterUnits="userSpaceOnUse" x="1001.5" y="1610.5" width="594.7" height="570.7" color-interpolation-filters="sRGB"><feTurbulence type="fractalNoise" baseFrequency="0.12 0.0035" numOctaves="2" seed="11" result="n0"/><feColorMatrix in="n0" type="matrix" values="1 0 0 0 0  1 0 0 0 0  1 0 0 0 0  0 0 0 0 1" result="m0"/><feComposite operator="arithmetic" in="SourceGraphic" in2="m0" k1="0" k2="1" k3="0.14" k4="-0.07" result="c0"/><feTurbulence type="fractalNoise" baseFrequency="0.04 0.006" numOctaves="1" seed="4" result="n1"/><feColorMatrix in="n1" type="matrix" values="1 0 0 0 0  1 0 0 0 0  1 0 0 0 0  0 0 0 0 1" result="m1"/><feComposite operator="arithmetic" in="c0" in2="m1" k1="0" k2="1" k3="0.03" k4="-0.015" result="c1"/><feComponentTransfer in="c1"><feFuncR type="table" tableValues="0.184 0.188 0.192 0.196 0.199 0.203 0.21 0.218 0.225 0.233 0.241 0.248 0.256 0.264 0.271 0.28 0.289 0.298 0.315 0.336 0.358 0.38 0.402 0.424 0.447 0.471 0.495 0.517 0.535 0.554 0.573 0.593 0.613 0.635 0.66 0.685 0.709 0.733 0.757 0.781 0.802 0.822 0.844 0.871 0.886 0.897 0.905 0.912 0.917 0.923 0.931 0.943 0.954 0.964 0.974 0.984 0.99 0.996 0.995 0.994 0.993 0.992 0.992 0.992 0.992 0.991 0.99 0.988 0.985 0.981 0.977 0.969 0.961 0.952 0.942 0.931 0.921 0.911 0.903 0.894 0.885 0.878 0.87 0.861 0.852 0.844 0.83 0.812 0.793 0.774 0.754 0.734 0.713 0.692 0.671 0.654 0.641 0.628 0.619 0.615 0.611 0.608 0.604"/><feFuncG type="table" tableValues="0.29 0.301 0.311 0.322 0.332 0.343 0.355 0.368 0.381 0.394 0.406 0.417 0.428 0.439 0.45 0.464 0.478 0.492 0.51 0.53 0.551 0.571 0.592 0.613 0.634 0.656 0.677 0.696 0.712 0.728 0.744 0.762 0.78 0.797 0.813 0.828 0.844 0.859 0.874 0.889 0.902 0.915 0.929 0.947 0.948 0.941 0.932 0.921 0.915 0.912 0.908 0.905 0.902 0.899 0.897 0.894 0.881 0.868 0.847 0.826 0.804 0.783 0.758 0.733 0.708 0.688 0.667 0.647 0.626 0.605 0.585 0.56 0.535 0.51 0.482 0.453 0.424 0.397 0.371 0.344 0.318 0.294 0.269 0.247 0.226 0.206 0.192 0.184 0.176 0.171 0.167 0.163 0.159 0.155 0.151 0.148 0.145 0.143 0.141 0.14 0.139 0.138 0.137"/><feFuncB type="table" tableValues="0.471 0.486 0.501 0.516 0.531 0.546 0.562 0.578 0.594 0.611 0.626 0.641 0.655 0.67 0.684 0.699 0.713 0.728 0.739 0.75 0.76 0.77 0.78 0.791 0.801 0.811 0.821 0.831 0.84 0.849 0.858 0.867 0.876 0.885 0.894 0.903 0.912 0.92 0.927 0.935 0.941 0.948 0.956 0.969 0.945 0.906 0.867 0.827 0.807 0.794 0.774 0.747 0.718 0.681 0.645 0.608 0.58 0.552 0.53 0.51 0.489 0.469 0.454 0.439 0.425 0.412 0.399 0.387 0.375 0.363 0.351 0.34 0.329 0.317 0.305 0.294 0.282 0.27 0.257 0.244 0.231 0.216 0.202 0.188 0.176 0.163 0.156 0.153 0.15 0.147 0.143 0.14 0.136 0.134 0.131 0.128 0.126 0.123 0.122 0.122 0.122 0.122 0.122"/></feComponentTransfer></filter>
<filter id="cmapCB1612" filterUnits="userSpaceOnUse" x="1612.4" y="1610.5" width="34.5" height="570.7" color-interpolation-filters="sRGB"><feComponentTransfer in="SourceGraphic"><feFuncR type="table" tableValues="0.184 0.188 0.192 0.196 0.199 0.203 0.21 0.218 0.225 0.233 0.241 0.248 0.256 0.264 0.271 0.28 0.289 0.298 0.315 0.336 0.358 0.38 0.402 0.424 0.447 0.471 0.495 0.517 0.535 0.554 0.573 0.593 0.613 0.635 0.66 0.685 0.709 0.733 0.757 0.781 0.802 0.822 0.844 0.871 0.886 0.897 0.905 0.912 0.917 0.923 0.931 0.943 0.954 0.964 0.974 0.984 0.99 0.996 0.995 0.994 0.993 0.992 0.992 0.992 0.992 0.991 0.99 0.988 0.985 0.981 0.977 0.969 0.961 0.952 0.942 0.931 0.921 0.911 0.903 0.894 0.885 0.878 0.87 0.861 0.852 0.844 0.83 0.812 0.793 0.774 0.754 0.734 0.713 0.692 0.671 0.654 0.641 0.628 0.619 0.615 0.611 0.608 0.604"/><feFuncG type="table" tableValues="0.29 0.301 0.311 0.322 0.332 0.343 0.355 0.368 0.381 0.394 0.406 0.417 0.428 0.439 0.45 0.464 0.478 0.492 0.51 0.53 0.551 0.571 0.592 0.613 0.634 0.656 0.677 0.696 0.712 0.728 0.744 0.762 0.78 0.797 0.813 0.828 0.844 0.859 0.874 0.889 0.902 0.915 0.929 0.947 0.948 0.941 0.932 0.921 0.915 0.912 0.908 0.905 0.902 0.899 0.897 0.894 0.881 0.868 0.847 0.826 0.804 0.783 0.758 0.733 0.708 0.688 0.667 0.647 0.626 0.605 0.585 0.56 0.535 0.51 0.482 0.453 0.424 0.397 0.371 0.344 0.318 0.294 0.269 0.247 0.226 0.206 0.192 0.184 0.176 0.171 0.167 0.163 0.159 0.155 0.151 0.148 0.145 0.143 0.141 0.14 0.139 0.138 0.137"/><feFuncB type="table" tableValues="0.471 0.486 0.501 0.516 0.531 0.546 0.562 0.578 0.594 0.611 0.626 0.641 0.655 0.67 0.684 0.699 0.713 0.728 0.739 0.75 0.76 0.77 0.78 0.791 0.801 0.811 0.821 0.831 0.84 0.849 0.858 0.867 0.876 0.885 0.894 0.903 0.912 0.92 0.927 0.935 0.941 0.948 0.956 0.969 0.945 0.906 0.867 0.827 0.807 0.794 0.774 0.747 0.718 0.681 0.645 0.608 0.58 0.552 0.53 0.51 0.489 0.469 0.454 0.439 0.425 0.412 0.399 0.387 0.375 0.363 0.351 0.34 0.329 0.317 0.305 0.294 0.282 0.27 0.257 0.244 0.231 0.216 0.202 0.188 0.176 0.163 0.156 0.153 0.15 0.147 0.143 0.14 0.136 0.134 0.131 0.128 0.126 0.123 0.122 0.122 0.122 0.122 0.122"/></feComponentTransfer></filter>
<linearGradient id="gH0" gradientUnits="userSpaceOnUse" x1="0" y1="1610.5" x2="0" y2="2181.2"><stop offset="0" stop-color="#3b3b3b"/><stop offset="0.45" stop-color="#3e3e3e"/><stop offset="0.75" stop-color="#474747"/><stop offset="1" stop-color="#4b4b4b"/></linearGradient>
</defs>
<g filter="url(#cmapH)">
<rect x="1001.5" y="1610.5" width="594.7" height="570.7" fill="url(#gH0)" />
<linearGradient id="lx5" gradientUnits="userSpaceOnUse" x1="1181.2" y1="0" x2="1326.9" y2="0"><stop offset="0" stop-color="#ffffff" stop-opacity="0"/><stop offset="0.2667" stop-color="#ffffff" stop-opacity="0.06"/><stop offset="0.4444" stop-color="#ffffff" stop-opacity="0.14"/><stop offset="0.6444" stop-color="#ffffff" stop-opacity="0.17"/><stop offset="0.8444" stop-color="#ffffff" stop-opacity="0.2"/><stop offset="1" stop-color="#ffffff" stop-opacity="0.22"/></linearGradient><linearGradient id="ly5" gradientUnits="userSpaceOnUse" x1="0" y1="1610.5" x2="0" y2="2181.2"><stop offset="0" stop-color="#fff" stop-opacity="0.8"/><stop offset="0.5035" stop-color="#fff" stop-opacity="0.9"/><stop offset="1" stop-color="#fff" stop-opacity="1"/></linearGradient><mask id="lm5" maskUnits="userSpaceOnUse" x="1181.2" y="1610.5" width="145.6" height="570.7"><rect x="1181.2" y="1610.5" width="145.6" height="570.7" fill="url(#ly5)"/></mask>
<g mask="url(#lm5)"><rect x="1181.2" y="1610.5" width="145.6" height="570.7" fill="url(#lx5)"/></g>
<linearGradient id="lx6" gradientUnits="userSpaceOnUse" x1="1226.5" y1="0" x2="1284.8" y2="0"><stop offset="0" stop-color="#ffffff" stop-opacity="0"/><stop offset="0.1944" stop-color="#ffffff" stop-opacity="0.07"/><stop offset="0.3889" stop-color="#ffffff" stop-opacity="0.15"/><stop offset="0.5556" stop-color="#ffffff" stop-opacity="0.15"/><stop offset="0.75" stop-color="#ffffff" stop-opacity="0.07"/><stop offset="1" stop-color="#ffffff" stop-opacity="0"/></linearGradient><linearGradient id="ly6" gradientUnits="userSpaceOnUse" x1="0" y1="1610.5" x2="0" y2="2181.2"><stop offset="0" stop-color="#fff" stop-opacity="0.15"/><stop offset="0.4464" stop-color="#fff" stop-opacity="0.35"/><stop offset="0.6748" stop-color="#fff" stop-opacity="0.8"/><stop offset="0.789" stop-color="#fff" stop-opacity="1"/><stop offset="1" stop-color="#fff" stop-opacity="1"/></linearGradient><mask id="lm6" maskUnits="userSpaceOnUse" x="1226.5" y="1610.5" width="58.3" height="570.7"><rect x="1226.5" y="1610.5" width="58.3" height="570.7" fill="url(#ly6)"/></mask>
<g mask="url(#lm6)"><rect x="1226.5" y="1610.5" width="58.3" height="570.7" fill="url(#lx6)"/></g>
<linearGradient id="lx7" gradientUnits="userSpaceOnUse" x1="1417.5" y1="0" x2="1596.2" y2="0"><stop offset="0" stop-color="#ffffff" stop-opacity="0.26"/><stop offset="0.1992" stop-color="#ffffff" stop-opacity="0.25"/><stop offset="0.4527" stop-color="#ffffff" stop-opacity="0.2"/><stop offset="0.5161" stop-color="#ffffff" stop-opacity="0.32"/><stop offset="0.5794" stop-color="#ffffff" stop-opacity="0.14"/><stop offset="0.7424" stop-color="#ffffff" stop-opacity="0.07"/><stop offset="1" stop-color="#ffffff" stop-opacity="0.04"/></linearGradient><linearGradient id="ly7" gradientUnits="userSpaceOnUse" x1="0" y1="1610.5" x2="0" y2="1865.3"><stop offset="0" stop-color="#fff" stop-opacity="1"/><stop offset="0.5524" stop-color="#fff" stop-opacity="0.85"/><stop offset="1" stop-color="#fff" stop-opacity="0"/></linearGradient><mask id="lm7" maskUnits="userSpaceOnUse" x="1417.5" y="1610.5" width="178.7" height="254.8"><rect x="1417.5" y="1610.5" width="178.7" height="254.8" fill="url(#ly7)"/></mask>
<g mask="url(#lm7)"><rect x="1417.5" y="1610.5" width="178.7" height="254.8" fill="url(#lx7)"/></g>
<radialGradient id="rb8" gradientUnits="userSpaceOnUse" cx="0" cy="0" r="1" gradientTransform="translate(1504.9 1894.6) scale(75 100)"><stop offset="0" stop-color="#000000" stop-opacity="0.2"/><stop offset="0.5" stop-color="#000000" stop-opacity="0.13"/><stop offset="1" stop-color="#000000" stop-opacity="0"/></radialGradient>
<rect x="1429.9" y="1794.6" width="150" height="200" fill="url(#rb8)"/>
<radialGradient id="rb9" gradientUnits="userSpaceOnUse" cx="0" cy="0" r="1" gradientTransform="translate(1574.4 1894.6) scale(50 90)"><stop offset="0" stop-color="#000000" stop-opacity="0.3"/><stop offset="0.5" stop-color="#000000" stop-opacity="0.18"/><stop offset="1" stop-color="#000000" stop-opacity="0"/></radialGradient>
<rect x="1524.4" y="1804.6" width="100" height="180" fill="url(#rb9)"/>
<linearGradient id="lx10" gradientUnits="userSpaceOnUse" x1="1446.6" y1="0" x2="1596.2" y2="0"><stop offset="0" stop-color="#000000" stop-opacity="0"/><stop offset="0.2163" stop-color="#000000" stop-opacity="0.05"/><stop offset="1" stop-color="#000000" stop-opacity="0.07"/></linearGradient><linearGradient id="ly10" gradientUnits="userSpaceOnUse" x1="0" y1="1783.8" x2="0" y2="2028.2"><stop offset="0" stop-color="#fff" stop-opacity="0"/><stop offset="0.4" stop-color="#fff" stop-opacity="1"/><stop offset="0.5333" stop-color="#fff" stop-opacity="1"/><stop offset="1" stop-color="#fff" stop-opacity="0"/></linearGradient><mask id="lm10" maskUnits="userSpaceOnUse" x="1446.6" y="1783.8" width="149.6" height="244.4"><rect x="1446.6" y="1783.8" width="149.6" height="244.4" fill="url(#ly10)"/></mask>
<g mask="url(#lm10)"><rect x="1446.6" y="1783.8" width="149.6" height="244.4" fill="url(#lx10)"/></g>
<linearGradient id="lx11" gradientUnits="userSpaceOnUse" x1="1351.1" y1="0" x2="1406.1" y2="0"><stop offset="0" stop-color="#000000" stop-opacity="0"/><stop offset="0.1471" stop-color="#000000" stop-opacity="0.08"/><stop offset="0.8529" stop-color="#000000" stop-opacity="0.08"/><stop offset="1" stop-color="#000000" stop-opacity="0"/></linearGradient><linearGradient id="ly11" gradientUnits="userSpaceOnUse" x1="0" y1="1610.5" x2="0" y2="1849"><stop offset="0" stop-color="#fff" stop-opacity="1"/><stop offset="1" stop-color="#fff" stop-opacity="0"/></linearGradient><mask id="lm11" maskUnits="userSpaceOnUse" x="1351.1" y="1610.5" width="55" height="238.5"><rect x="1351.1" y="1610.5" width="55" height="238.5" fill="url(#ly11)"/></mask>
<g mask="url(#lm11)"><rect x="1351.1" y="1610.5" width="55" height="238.5" fill="url(#lx11)"/></g>
<linearGradient id="lx12" gradientUnits="userSpaceOnUse" x1="1001.5" y1="0" x2="1226.5" y2="0"><stop offset="0" stop-color="#000000" stop-opacity="0.06"/><stop offset="0.281" stop-color="#000000" stop-opacity="0.09"/><stop offset="0.885" stop-color="#000000" stop-opacity="0.08"/><stop offset="1" stop-color="#000000" stop-opacity="0"/></linearGradient><linearGradient id="ly12" gradientUnits="userSpaceOnUse" x1="0" y1="1610.5" x2="0" y2="1963"><stop offset="0" stop-color="#fff" stop-opacity="0.6"/><stop offset="0.6303" stop-color="#fff" stop-opacity="1"/><stop offset="1" stop-color="#fff" stop-opacity="0"/></linearGradient><mask id="lm12" maskUnits="userSpaceOnUse" x="1001.5" y="1610.5" width="225" height="352.5"><rect x="1001.5" y="1610.5" width="225" height="352.5" fill="url(#ly12)"/></mask>
<g mask="url(#lm12)"><rect x="1001.5" y="1610.5" width="225" height="352.5" fill="url(#lx12)"/></g>
<linearGradient id="lx13" gradientUnits="userSpaceOnUse" x1="1291.3" y1="0" x2="1446.6" y2="0"><stop offset="0" stop-color="#ffffff" stop-opacity="0"/><stop offset="0.0833" stop-color="#ffffff" stop-opacity="0.083"/><stop offset="0.1771" stop-color="#ffffff" stop-opacity="0.181"/><stop offset="0.2292" stop-color="#ffffff" stop-opacity="0.278"/><stop offset="0.2708" stop-color="#ffffff" stop-opacity="0.375"/><stop offset="0.3021" stop-color="#ffffff" stop-opacity="0.528"/><stop offset="0.3333" stop-color="#ffffff" stop-opacity="0.667"/><stop offset="0.3854" stop-color="#ffffff" stop-opacity="0.75"/><stop offset="0.4167" stop-color="#ffffff" stop-opacity="0.778"/><stop offset="0.6708" stop-color="#ffffff" stop-opacity="0.778"/><stop offset="0.7042" stop-color="#ffffff" stop-opacity="0.694"/><stop offset="0.75" stop-color="#ffffff" stop-opacity="0.556"/><stop offset="0.7958" stop-color="#ffffff" stop-opacity="0.417"/><stop offset="0.8333" stop-color="#ffffff" stop-opacity="0.278"/><stop offset="0.875" stop-color="#ffffff" stop-opacity="0.167"/><stop offset="0.9375" stop-color="#ffffff" stop-opacity="0.111"/><stop offset="1" stop-color="#ffffff" stop-opacity="0"/></linearGradient><linearGradient id="ly13" gradientUnits="userSpaceOnUse" x1="0" y1="1610.5" x2="0" y2="2181.2"><stop offset="0" stop-color="#fff" stop-opacity="1"/><stop offset="1" stop-color="#fff" stop-opacity="1"/></linearGradient><mask id="lm13" maskUnits="userSpaceOnUse" x="1291.3" y="1610.5" width="155.3" height="570.7"><rect x="1291.3" y="1610.5" width="155.3" height="570.7" fill="url(#ly13)"/></mask>
<g mask="url(#lm13)"><rect x="1291.3" y="1610.5" width="155.3" height="570.7" fill="url(#lx13)"/></g>
<linearGradient id="lx14" gradientUnits="userSpaceOnUse" x1="1343" y1="0" x2="1412.6" y2="0"><stop offset="0" stop-color="#ffffff" stop-opacity="0"/><stop offset="0.1163" stop-color="#ffffff" stop-opacity="0.6"/><stop offset="0.186" stop-color="#ffffff" stop-opacity="0.9"/><stop offset="0.8372" stop-color="#ffffff" stop-opacity="0.9"/><stop offset="0.907" stop-color="#ffffff" stop-opacity="0.5"/><stop offset="1" stop-color="#ffffff" stop-opacity="0"/></linearGradient><linearGradient id="ly14" gradientUnits="userSpaceOnUse" x1="0" y1="1610.5" x2="0" y2="2181.2"><stop offset="0" stop-color="#fff" stop-opacity="0"/><stop offset="0.2752" stop-color="#fff" stop-opacity="0.08"/><stop offset="0.4464" stop-color="#fff" stop-opacity="0.45"/><stop offset="0.5606" stop-color="#fff" stop-opacity="0.85"/><stop offset="0.7319" stop-color="#fff" stop-opacity="1"/><stop offset="1" stop-color="#fff" stop-opacity="1"/></linearGradient><mask id="lm14" maskUnits="userSpaceOnUse" x="1343" y="1610.5" width="69.6" height="570.7"><rect x="1343" y="1610.5" width="69.6" height="570.7" fill="url(#ly14)"/></mask>
<g mask="url(#lm14)"><rect x="1343" y="1610.5" width="69.6" height="570.7" fill="url(#lx14)"/></g>
<linearGradient id="lx15" gradientUnits="userSpaceOnUse" x1="1301" y1="0" x2="1343" y2="0"><stop offset="0" stop-color="#ffffff" stop-opacity="0"/><stop offset="0.2692" stop-color="#ffffff" stop-opacity="0.18"/><stop offset="0.5385" stop-color="#ffffff" stop-opacity="0.2"/><stop offset="0.7692" stop-color="#ffffff" stop-opacity="0.12"/><stop offset="1" stop-color="#ffffff" stop-opacity="0"/></linearGradient><linearGradient id="ly15" gradientUnits="userSpaceOnUse" x1="0" y1="1610.5" x2="0" y2="1914.1"><stop offset="0" stop-color="#fff" stop-opacity="1"/><stop offset="0.4099" stop-color="#fff" stop-opacity="0.8"/><stop offset="1" stop-color="#fff" stop-opacity="0"/></linearGradient><mask id="lm15" maskUnits="userSpaceOnUse" x="1301" y="1610.5" width="42.1" height="303.6"><rect x="1301" y="1610.5" width="42.1" height="303.6" fill="url(#ly15)"/></mask>
<g mask="url(#lm15)"><rect x="1301" y="1610.5" width="42.1" height="303.6" fill="url(#lx15)"/></g>
<linearGradient id="lx16" gradientUnits="userSpaceOnUse" x1="1406.1" y1="0" x2="1441.7" y2="0"><stop offset="0" stop-color="#ffffff" stop-opacity="0"/><stop offset="0.3182" stop-color="#ffffff" stop-opacity="0.2"/><stop offset="0.5455" stop-color="#ffffff" stop-opacity="0.4"/><stop offset="0.7273" stop-color="#ffffff" stop-opacity="0.22"/><stop offset="1" stop-color="#ffffff" stop-opacity="0"/></linearGradient><linearGradient id="ly16" gradientUnits="userSpaceOnUse" x1="0" y1="1610.5" x2="0" y2="1914.1"><stop offset="0" stop-color="#fff" stop-opacity="1"/><stop offset="0.4099" stop-color="#fff" stop-opacity="0.7"/><stop offset="1" stop-color="#fff" stop-opacity="0"/></linearGradient><mask id="lm16" maskUnits="userSpaceOnUse" x="1406.1" y="1610.5" width="35.6" height="303.6"><rect x="1406.1" y="1610.5" width="35.6" height="303.6" fill="url(#ly16)"/></mask>
<g mask="url(#lm16)"><rect x="1406.1" y="1610.5" width="35.6" height="303.6" fill="url(#lx16)"/></g>
<linearGradient id="lx17" gradientUnits="userSpaceOnUse" x1="1336.6" y1="0" x2="1417.5" y2="0"><stop offset="0" stop-color="#4b4b4b" stop-opacity="0"/><stop offset="0.1" stop-color="#4b4b4b" stop-opacity="0.22"/><stop offset="0.18" stop-color="#4b4b4b" stop-opacity="0.25"/><stop offset="0.28" stop-color="#4b4b4b" stop-opacity="0"/><stop offset="0.72" stop-color="#4b4b4b" stop-opacity="0"/><stop offset="0.82" stop-color="#4b4b4b" stop-opacity="0.25"/><stop offset="0.9" stop-color="#4b4b4b" stop-opacity="0.2"/><stop offset="1" stop-color="#4b4b4b" stop-opacity="0"/></linearGradient><linearGradient id="ly17" gradientUnits="userSpaceOnUse" x1="0" y1="1610.5" x2="0" y2="1865.3"><stop offset="0" stop-color="#fff" stop-opacity="1"/><stop offset="0.4246" stop-color="#fff" stop-opacity="0.8"/><stop offset="1" stop-color="#fff" stop-opacity="0"/></linearGradient><mask id="lm17" maskUnits="userSpaceOnUse" x="1336.6" y="1610.5" width="80.9" height="254.8"><rect x="1336.6" y="1610.5" width="80.9" height="254.8" fill="url(#ly17)"/></mask>
<g mask="url(#lm17)"><rect x="1336.6" y="1610.5" width="80.9" height="254.8" fill="url(#lx17)"/></g>
</g>
<rect x="1001.5" y="1610.5" width="594.7" height="570.7" fill="none" stroke="#000" stroke-width="3" />
<line x1="1061.6" y1="2181.2" x2="1061.6" y2="2192.7" stroke="#000" stroke-width="3" />
<text font-size="49" text-anchor="middle" transform="translate(1061.6 2238.3) scale(1 1.035)" >408</text>
<line x1="1168.4" y1="2181.2" x2="1168.4" y2="2192.7" stroke="#000" stroke-width="3" />
<text font-size="49" text-anchor="middle" transform="translate(1168.4 2238.3) scale(1 1.035)" >405</text>
<line x1="1275.3" y1="2181.2" x2="1275.3" y2="2192.7" stroke="#000" stroke-width="3" />
<text font-size="49" text-anchor="middle" transform="translate(1275.3 2238.3) scale(1 1.035)" >402</text>
<line x1="1382.1" y1="2181.2" x2="1382.1" y2="2192.7" stroke="#000" stroke-width="3" />
<text font-size="49" text-anchor="middle" transform="translate(1382.1 2238.3) scale(1 1.035)" >399</text>
<line x1="1489" y1="2181.2" x2="1489" y2="2192.7" stroke="#000" stroke-width="3" />
<text font-size="49" text-anchor="middle" transform="translate(1489 2238.3) scale(1 1.035)" >396</text>
<line x1="1595.8" y1="2181.2" x2="1595.8" y2="2192.7" stroke="#000" stroke-width="3" />
<text font-size="49" text-anchor="middle" transform="translate(1595.8 2238.3) scale(1 1.035)" >393</text>
<line x1="1008.2" y1="2181.2" x2="1008.2" y2="2187.2" stroke="#000" stroke-width="3" />
<line x1="1115" y1="2181.2" x2="1115" y2="2187.2" stroke="#000" stroke-width="3" />
<line x1="1221.9" y1="2181.2" x2="1221.9" y2="2187.2" stroke="#000" stroke-width="3" />
<line x1="1328.7" y1="2181.2" x2="1328.7" y2="2187.2" stroke="#000" stroke-width="3" />
<line x1="1435.6" y1="2181.2" x2="1435.6" y2="2187.2" stroke="#000" stroke-width="3" />
<line x1="1542.4" y1="2181.2" x2="1542.4" y2="2187.2" stroke="#000" stroke-width="3" />
<text font-size="48.5" text-anchor="middle" transform="translate(1297.3 2297.2) scale(1 1.01)" >Binding energy (eV)</text>
<linearGradient id="cb1612" gradientUnits="userSpaceOnUse" x1="0" y1="1610.5" x2="0" y2="2169.5"><stop offset="0" stop-color="#ffffff"/><stop offset="1" stop-color="#000000"/></linearGradient>
<g filter="url(#cmapCB1612)"><rect x="1612.4" y="1610.5" width="34.5" height="559" fill="url(#cb1612)" /></g>
<rect x="1612.4" y="2169.5" width="34.5" height="12" fill="#000" />
<rect x="1612.4" y="1610.5" width="34.5" height="571" fill="none" stroke="#000" stroke-width="1.8" />
<line x1="1646.9" y1="1621.6" x2="1657.4" y2="1621.6" stroke="#000" stroke-width="2" />
<text font-size="40" transform="translate(1663.5 1636.4) scale(1 1.035)" >3.21E4</text>
<line x1="1646.9" y1="1713" x2="1657.4" y2="1713" stroke="#000" stroke-width="2" />
<text font-size="40" transform="translate(1663.5 1727.8) scale(1 1.035)" >3.04E4</text>
<line x1="1646.9" y1="1826.9" x2="1657.4" y2="1826.9" stroke="#000" stroke-width="2" />
<text font-size="40" transform="translate(1663.5 1841.7) scale(1 1.035)" >2.83E4</text>
<line x1="1646.9" y1="1941.3" x2="1657.4" y2="1941.3" stroke="#000" stroke-width="2" />
<text font-size="40" transform="translate(1663.5 1956.1) scale(1 1.035)" >2.62E4</text>
<line x1="1646.9" y1="2055.6" x2="1657.4" y2="2055.6" stroke="#000" stroke-width="2" />
<text font-size="40" transform="translate(1663.5 2070.4) scale(1 1.035)" >2.41E4</text>
<line x1="1646.9" y1="2169.1" x2="1657.4" y2="2169.1" stroke="#000" stroke-width="2" />
<text font-size="40" transform="translate(1663.5 2183.9) scale(1 1.035)" >2.21E4</text>
<text font-size="46.5" font-weight="bold" fill="#fff" transform="translate(1007 1657) scale(1 1.035)" >UiO-66-<tspan font-style="italic">L</tspan><tspan dy="12" font-size="26">2</tspan><tspan dy="-12">&#8203;</tspan></text>
<text font-size="46.5" font-weight="bold" fill="#fff" transform="translate(1007 1705) scale(1 1.035)" >N 1s</text>
<text font-size="46" transform="translate(1280 1824) scale(1 1.035)" >-NH-/NH<tspan dy="13" font-size="26">2</tspan><tspan dy="-13">&#8203;</tspan></text>
<text font-size="46" transform="translate(1174.5 1973.4) scale(1 1.035)" >-N<tspan dy="-20" font-size="22">+</tspan><tspan dy="20">&#8203;</tspan>-</text>
<line x1="1214.4" y1="1982.2" x2="1251.8" y2="2040.2" stroke="#000" stroke-width="3" />
<text font-size="76" transform="translate(944 1601.8)" >h</text>
<!-- panel_i -->
<defs>
<filter id="cmapI" filterUnits="userSpaceOnUse" x="1839.2" y="1610.5" width="594" height="570.7" color-interpolation-filters="sRGB"><feTurbulence type="fractalNoise" baseFrequency="0.06 0.004" numOctaves="2" seed="7" result="n0"/><feColorMatrix in="n0" type="matrix" values="1 0 0 0 0  1 0 0 0 0  1 0 0 0 0  0 0 0 0 1" result="m0"/><feComposite operator="arithmetic" in="SourceGraphic" in2="m0" k1="0" k2="1" k3="0.06" k4="-0.03" result="c0"/><feComponentTransfer in="c0"><feFuncR type="table" tableValues="0.184 0.188 0.192 0.196 0.199 0.203 0.21 0.218 0.225 0.233 0.241 0.248 0.256 0.264 0.271 0.28 0.289 0.298 0.315 0.336 0.358 0.38 0.402 0.424 0.447 0.471 0.495 0.517 0.535 0.554 0.573 0.593 0.613 0.635 0.66 0.685 0.709 0.733 0.757 0.781 0.802 0.822 0.844 0.871 0.886 0.897 0.905 0.912 0.917 0.923 0.931 0.943 0.954 0.964 0.974 0.984 0.99 0.996 0.995 0.994 0.993 0.992 0.992 0.992 0.992 0.991 0.99 0.988 0.985 0.981 0.977 0.969 0.961 0.952 0.942 0.931 0.921 0.911 0.903 0.894 0.885 0.878 0.87 0.861 0.852 0.844 0.83 0.812 0.793 0.774 0.754 0.734 0.713 0.692 0.671 0.654 0.641 0.628 0.619 0.615 0.611 0.608 0.604"/><feFuncG type="table" tableValues="0.29 0.301 0.311 0.322 0.332 0.343 0.355 0.368 0.381 0.394 0.406 0.417 0.428 0.439 0.45 0.464 0.478 0.492 0.51 0.53 0.551 0.571 0.592 0.613 0.634 0.656 0.677 0.696 0.712 0.728 0.744 0.762 0.78 0.797 0.813 0.828 0.844 0.859 0.874 0.889 0.902 0.915 0.929 0.947 0.948 0.941 0.932 0.921 0.915 0.912 0.908 0.905 0.902 0.899 0.897 0.894 0.881 0.868 0.847 0.826 0.804 0.783 0.758 0.733 0.708 0.688 0.667 0.647 0.626 0.605 0.585 0.56 0.535 0.51 0.482 0.453 0.424 0.397 0.371 0.344 0.318 0.294 0.269 0.247 0.226 0.206 0.192 0.184 0.176 0.171 0.167 0.163 0.159 0.155 0.151 0.148 0.145 0.143 0.141 0.14 0.139 0.138 0.137"/><feFuncB type="table" tableValues="0.471 0.486 0.501 0.516 0.531 0.546 0.562 0.578 0.594 0.611 0.626 0.641 0.655 0.67 0.684 0.699 0.713 0.728 0.739 0.75 0.76 0.77 0.78 0.791 0.801 0.811 0.821 0.831 0.84 0.849 0.858 0.867 0.876 0.885 0.894 0.903 0.912 0.92 0.927 0.935 0.941 0.948 0.956 0.969 0.945 0.906 0.867 0.827 0.807 0.794 0.774 0.747 0.718 0.681 0.645 0.608 0.58 0.552 0.53 0.51 0.489 0.469 0.454 0.439 0.425 0.412 0.399 0.387 0.375 0.363 0.351 0.34 0.329 0.317 0.305 0.294 0.282 0.27 0.257 0.244 0.231 0.216 0.202 0.188 0.176 0.163 0.156 0.153 0.15 0.147 0.143 0.14 0.136 0.134 0.131 0.128 0.126 0.123 0.122 0.122 0.122 0.122 0.122"/></feComponentTransfer></filter>
<filter id="cmapCB2449" filterUnits="userSpaceOnUse" x="2449.2" y="1610.5" width="34.5" height="570.7" color-interpolation-filters="sRGB"><feComponentTransfer in="SourceGraphic"><feFuncR type="table" tableValues="0.184 0.188 0.192 0.196 0.199 0.203 0.21 0.218 0.225 0.233 0.241 0.248 0.256 0.264 0.271 0.28 0.289 0.298 0.315 0.336 0.358 0.38 0.402 0.424 0.447 0.471 0.495 0.517 0.535 0.554 0.573 0.593 0.613 0.635 0.66 0.685 0.709 0.733 0.757 0.781 0.802 0.822 0.844 0.871 0.886 0.897 0.905 0.912 0.917 0.923 0.931 0.943 0.954 0.964 0.974 0.984 0.99 0.996 0.995 0.994 0.993 0.992 0.992 0.992 0.992 0.991 0.99 0.988 0.985 0.981 0.977 0.969 0.961 0.952 0.942 0.931 0.921 0.911 0.903 0.894 0.885 0.878 0.87 0.861 0.852 0.844 0.83 0.812 0.793 0.774 0.754 0.734 0.713 0.692 0.671 0.654 0.641 0.628 0.619 0.615 0.611 0.608 0.604"/><feFuncG type="table" tableValues="0.29 0.301 0.311 0.322 0.332 0.343 0.355 0.368 0.381 0.394 0.406 0.417 0.428 0.439 0.45 0.464 0.478 0.492 0.51 0.53 0.551 0.571 0.592 0.613 0.634 0.656 0.677 0.696 0.712 0.728 0.744 0.762 0.78 0.797 0.813 0.828 0.844 0.859 0.874 0.889 0.902 0.915 0.929 0.947 0.948 0.941 0.932 0.921 0.915 0.912 0.908 0.905 0.902 0.899 0.897 0.894 0.881 0.868 0.847 0.826 0.804 0.783 0.758 0.733 0.708 0.688 0.667 0.647 0.626 0.605 0.585 0.56 0.535 0.51 0.482 0.453 0.424 0.397 0.371 0.344 0.318 0.294 0.269 0.247 0.226 0.206 0.192 0.184 0.176 0.171 0.167 0.163 0.159 0.155 0.151 0.148 0.145 0.143 0.141 0.14 0.139 0.138 0.137"/><feFuncB type="table" tableValues="0.471 0.486 0.501 0.516 0.531 0.546 0.562 0.578 0.594 0.611 0.626 0.641 0.655 0.67 0.684 0.699 0.713 0.728 0.739 0.75 0.76 0.77 0.78 0.791 0.801 0.811 0.821 0.831 0.84 0.849 0.858 0.867 0.876 0.885 0.894 0.903 0.912 0.92 0.927 0.935 0.941 0.948 0.956 0.969 0.945 0.906 0.867 0.827 0.807 0.794 0.774 0.747 0.718 0.681 0.645 0.608 0.58 0.552 0.53 0.51 0.489 0.469 0.454 0.439 0.425 0.412 0.399 0.387 0.375 0.363 0.351 0.34 0.329 0.317 0.305 0.294 0.282 0.27 0.257 0.244 0.231 0.216 0.202 0.188 0.176 0.163 0.156 0.153 0.15 0.147 0.143 0.14 0.136 0.134 0.131 0.128 0.126 0.123 0.122 0.122 0.122 0.122 0.122"/></feComponentTransfer></filter>
<linearGradient id="gI0" gradientUnits="userSpaceOnUse" x1="1839.2" y1="0" x2="2433.2" y2="0"><stop offset="0" stop-color="#3b3b3b"/><stop offset="0.1566" stop-color="#3e3e3e"/><stop offset="0.3197" stop-color="#3d3d3d"/><stop offset="0.3415" stop-color="#3e3e3e"/><stop offset="0.3687" stop-color="#505050"/><stop offset="0.3877" stop-color="#696969"/><stop offset="0.4013" stop-color="#737373"/><stop offset="0.472" stop-color="#6e6e6e"/><stop offset="0.5155" stop-color="#696969"/><stop offset="0.559" stop-color="#6c6c6c"/><stop offset="0.6949" stop-color="#6c6c6c"/><stop offset="0.7167" stop-color="#575757"/><stop offset="0.7439" stop-color="#484848"/><stop offset="0.7819" stop-color="#414141"/><stop offset="0.9179" stop-color="#3d3d3d"/><stop offset="0.9995" stop-color="#373737"/></linearGradient>
</defs>
<g filter="url(#cmapI)">
<rect x="1839.2" y="1610.5" width="594" height="570.7" fill="url(#gI0)" />
<linearGradient id="lx18" gradientUnits="userSpaceOnUse" x1="2216.5" y1="0" x2="2268.1" y2="0"><stop offset="0" stop-color="#323232" stop-opacity="0"/><stop offset="0.3125" stop-color="#323232" stop-opacity="0.12"/><stop offset="0.6875" stop-color="#323232" stop-opacity="0.3"/><stop offset="1" stop-color="#323232" stop-opacity="0.1"/></linearGradient><linearGradient id="ly18" gradientUnits="userSpaceOnUse" x1="0" y1="1996" x2="0" y2="2181.2"><stop offset="0" stop-color="#fff" stop-opacity="0"/><stop offset="0.5281" stop-color="#fff" stop-opacity="0.6"/><stop offset="1" stop-color="#fff" stop-opacity="1"/></linearGradient><mask id="lm18" maskUnits="userSpaceOnUse" x="2216.5" y="1996" width="51.7" height="185.2"><rect x="2216.5" y="1996" width="51.7" height="185.2" fill="url(#ly18)"/></mask>
<g mask="url(#lm18)"><rect x="2216.5" y="1996" width="51.7" height="185.2" fill="url(#lx18)"/></g>
<linearGradient id="lx19" gradientUnits="userSpaceOnUse" x1="2119.6" y1="0" x2="2193.9" y2="0"><stop offset="0" stop-color="#323232" stop-opacity="0"/><stop offset="0.3478" stop-color="#323232" stop-opacity="0.16"/><stop offset="0.6957" stop-color="#323232" stop-opacity="0.16"/><stop offset="1" stop-color="#323232" stop-opacity="0"/></linearGradient><linearGradient id="ly19" gradientUnits="userSpaceOnUse" x1="0" y1="2028.6" x2="0" y2="2181.2"><stop offset="0" stop-color="#fff" stop-opacity="0"/><stop offset="1" stop-color="#fff" stop-opacity="1"/></linearGradient><mask id="lm19" maskUnits="userSpaceOnUse" x="2119.6" y="2028.6" width="74.3" height="152.6"><rect x="2119.6" y="2028.6" width="74.3" height="152.6" fill="url(#ly19)"/></mask>
<g mask="url(#lm19)"><rect x="2119.6" y="2028.6" width="74.3" height="152.6" fill="url(#lx19)"/></g>
<linearGradient id="lx20" gradientUnits="userSpaceOnUse" x1="2069.5" y1="0" x2="2126" y2="0"><stop offset="0" stop-color="#ffffff" stop-opacity="0"/><stop offset="0.1714" stop-color="#ffffff" stop-opacity="0.1"/><stop offset="0.3429" stop-color="#ffffff" stop-opacity="0.19"/><stop offset="0.4857" stop-color="#ffffff" stop-opacity="0.22"/><stop offset="0.6571" stop-color="#ffffff" stop-opacity="0.19"/><stop offset="0.8286" stop-color="#ffffff" stop-opacity="0.08"/><stop offset="1" stop-color="#ffffff" stop-opacity="0"/></linearGradient><linearGradient id="ly20" gradientUnits="userSpaceOnUse" x1="0" y1="1610.5" x2="0" y2="2181.2"><stop offset="0" stop-color="#fff" stop-opacity="0.55"/><stop offset="0.2183" stop-color="#fff" stop-opacity="0.7"/><stop offset="0.504" stop-color="#fff" stop-opacity="1"/><stop offset="0.7325" stop-color="#fff" stop-opacity="1"/><stop offset="1" stop-color="#fff" stop-opacity="1"/></linearGradient><mask id="lm20" maskUnits="userSpaceOnUse" x="2069.5" y="1610.5" width="56.5" height="570.7"><rect x="2069.5" y="1610.5" width="56.5" height="570.7" fill="url(#ly20)"/></mask>
<g mask="url(#lm20)"><rect x="2069.5" y="1610.5" width="56.5" height="570.7" fill="url(#lx20)"/></g>
<linearGradient id="lx21" gradientUnits="userSpaceOnUse" x1="2080.8" y1="0" x2="2113.1" y2="0"><stop offset="0" stop-color="#ffffff" stop-opacity="0"/><stop offset="0.3" stop-color="#ffffff" stop-opacity="0.1"/><stop offset="0.52" stop-color="#ffffff" stop-opacity="0.18"/><stop offset="0.75" stop-color="#ffffff" stop-opacity="0.1"/><stop offset="1" stop-color="#ffffff" stop-opacity="0"/></linearGradient><linearGradient id="ly21" gradientUnits="userSpaceOnUse" x1="0" y1="1832.9" x2="0" y2="2181.2"><stop offset="0" stop-color="#fff" stop-opacity="0"/><stop offset="0.3745" stop-color="#fff" stop-opacity="0.6"/><stop offset="0.6086" stop-color="#fff" stop-opacity="1"/><stop offset="1" stop-color="#fff" stop-opacity="1"/></linearGradient><mask id="lm21" maskUnits="userSpaceOnUse" x="2080.8" y="1832.9" width="32.3" height="348.3"><rect x="2080.8" y="1832.9" width="32.3" height="348.3" fill="url(#ly21)"/></mask>
<g mask="url(#lm21)"><rect x="2080.8" y="1832.9" width="32.3" height="348.3" fill="url(#lx21)"/></g>
<linearGradient id="lx22" gradientUnits="userSpaceOnUse" x1="2171.2" y1="0" x2="2252" y2="0"><stop offset="0" stop-color="#ffffff" stop-opacity="0"/><stop offset="0.14" stop-color="#ffffff" stop-opacity="0.1"/><stop offset="0.28" stop-color="#ffffff" stop-opacity="0.24"/><stop offset="0.44" stop-color="#ffffff" stop-opacity="0.3"/><stop offset="0.6" stop-color="#ffffff" stop-opacity="0.27"/><stop offset="0.76" stop-color="#ffffff" stop-opacity="0.16"/><stop offset="0.88" stop-color="#ffffff" stop-opacity="0.06"/><stop offset="1" stop-color="#ffffff" stop-opacity="0"/></linearGradient><linearGradient id="ly22" gradientUnits="userSpaceOnUse" x1="0" y1="1610.5" x2="0" y2="2181.2"><stop offset="0" stop-color="#fff" stop-opacity="0.9"/><stop offset="0.3326" stop-color="#fff" stop-opacity="1"/><stop offset="0.7611" stop-color="#fff" stop-opacity="1"/><stop offset="0.8754" stop-color="#fff" stop-opacity="0.75"/><stop offset="0.9497" stop-color="#fff" stop-opacity="0.4"/><stop offset="1" stop-color="#fff" stop-opacity="0.1"/></linearGradient><mask id="lm22" maskUnits="userSpaceOnUse" x="2171.2" y="1610.5" width="80.8" height="570.7"><rect x="2171.2" y="1610.5" width="80.8" height="570.7" fill="url(#ly22)"/></mask>
<g mask="url(#lm22)"><rect x="2171.2" y="1610.5" width="80.8" height="570.7" fill="url(#lx22)"/></g>
<linearGradient id="lx23" gradientUnits="userSpaceOnUse" x1="2187.4" y1="0" x2="2229.4" y2="0"><stop offset="0" stop-color="#ffffff" stop-opacity="0"/><stop offset="0.2692" stop-color="#ffffff" stop-opacity="0.16"/><stop offset="0.4615" stop-color="#ffffff" stop-opacity="0.24"/><stop offset="0.6923" stop-color="#ffffff" stop-opacity="0.18"/><stop offset="1" stop-color="#ffffff" stop-opacity="0"/></linearGradient><linearGradient id="ly23" gradientUnits="userSpaceOnUse" x1="0" y1="1751.4" x2="0" y2="2110.1"><stop offset="0" stop-color="#fff" stop-opacity="0"/><stop offset="0.3636" stop-color="#fff" stop-opacity="0.7"/><stop offset="0.5455" stop-color="#fff" stop-opacity="1"/><stop offset="0.8182" stop-color="#fff" stop-opacity="0.85"/><stop offset="1.0455" stop-color="#fff" stop-opacity="0"/></linearGradient><mask id="lm23" maskUnits="userSpaceOnUse" x="2187.4" y="1751.4" width="42" height="358.7"><rect x="2187.4" y="1751.4" width="42" height="358.7" fill="url(#ly23)"/></mask>
<g mask="url(#lm23)"><rect x="2187.4" y="1751.4" width="42" height="358.7" fill="url(#lx23)"/></g>
<linearGradient id="lx24" gradientUnits="userSpaceOnUse" x1="2197.1" y1="0" x2="2232.6" y2="0"><stop offset="0" stop-color="#ffffff" stop-opacity="0"/><stop offset="0.4545" stop-color="#ffffff" stop-opacity="0.14"/><stop offset="1" stop-color="#ffffff" stop-opacity="0"/></linearGradient><linearGradient id="ly24" gradientUnits="userSpaceOnUse" x1="0" y1="1610.5" x2="0" y2="1767.7"><stop offset="0" stop-color="#fff" stop-opacity="1"/><stop offset="1" stop-color="#fff" stop-opacity="0"/></linearGradient><mask id="lm24" maskUnits="userSpaceOnUse" x="2197.1" y="1610.5" width="35.5" height="157.2"><rect x="2197.1" y="1610.5" width="35.5" height="157.2" fill="url(#ly24)"/></mask>
<g mask="url(#lm24)"><rect x="2197.1" y="1610.5" width="35.5" height="157.2" fill="url(#lx24)"/></g>
<radialGradient id="rb25" gradientUnits="userSpaceOnUse" cx="0" cy="0" r="1" gradientTransform="translate(2097.6 2187.2) scale(31 124)"><stop offset="0" stop-color="#ffffff" stop-opacity="1"/><stop offset="0.36" stop-color="#ffffff" stop-opacity="1"/><stop offset="0.52" stop-color="#ffffff" stop-opacity="0.9"/><stop offset="0.66" stop-color="#ffffff" stop-opacity="0.66"/><stop offset="0.78" stop-color="#ffffff" stop-opacity="0.4"/><stop offset="0.9" stop-color="#ffffff" stop-opacity="0.16"/><stop offset="1" stop-color="#ffffff" stop-opacity="0"/></radialGradient>
<rect x="2066.6" y="2063.2" width="62" height="248" fill="url(#rb25)"/>
</g>
<rect x="1839.2" y="1610.5" width="594" height="570.7" fill="none" stroke="#000" stroke-width="3" />
<line x1="1909" y1="2181.2" x2="1909" y2="2192.7" stroke="#000" stroke-width="3" />
<text font-size="49" text-anchor="middle" transform="translate(1909 2238.3) scale(1 1.035)" >408</text>
<line x1="2013.8" y1="2181.2" x2="2013.8" y2="2192.7" stroke="#000" stroke-width="3" />
<text font-size="49" text-anchor="middle" transform="translate(2013.8 2238.3) scale(1 1.035)" >405</text>
<line x1="2118.6" y1="2181.2" x2="2118.6" y2="2192.7" stroke="#000" stroke-width="3" />
<text font-size="49" text-anchor="middle" transform="translate(2118.6 2238.3) scale(1 1.035)" >402</text>
<line x1="2223.4" y1="2181.2" x2="2223.4" y2="2192.7" stroke="#000" stroke-width="3" />
<text font-size="49" text-anchor="middle" transform="translate(2223.4 2238.3) scale(1 1.035)" >399</text>
<line x1="2328.2" y1="2181.2" x2="2328.2" y2="2192.7" stroke="#000" stroke-width="3" />
<text font-size="49" text-anchor="middle" transform="translate(2328.2 2238.3) scale(1 1.035)" >396</text>
<line x1="2433" y1="2181.2" x2="2433" y2="2192.7" stroke="#000" stroke-width="3" />
<text font-size="49" text-anchor="middle" transform="translate(2433 2238.3) scale(1 1.035)" >393</text>
<line x1="1856.6" y1="2181.2" x2="1856.6" y2="2187.2" stroke="#000" stroke-width="3" />
<line x1="1961.4" y1="2181.2" x2="1961.4" y2="2187.2" stroke="#000" stroke-width="3" />
<line x1="2066.2" y1="2181.2" x2="2066.2" y2="2187.2" stroke="#000" stroke-width="3" />
<line x1="2171" y1="2181.2" x2="2171" y2="2187.2" stroke="#000" stroke-width="3" />
<line x1="2275.8" y1="2181.2" x2="2275.8" y2="2187.2" stroke="#000" stroke-width="3" />
<line x1="2380.6" y1="2181.2" x2="2380.6" y2="2187.2" stroke="#000" stroke-width="3" />
<text font-size="48.5" text-anchor="middle" transform="translate(2134.7 2297.2) scale(1 1.01)" >Binding energy (eV)</text>
<linearGradient id="cb2449" gradientUnits="userSpaceOnUse" x1="0" y1="1610.5" x2="0" y2="2169.5"><stop offset="0" stop-color="#ffffff"/><stop offset="1" stop-color="#000000"/></linearGradient>
<g filter="url(#cmapCB2449)"><rect x="2449.2" y="1610.5" width="34.5" height="559" fill="url(#cb2449)" /></g>
<rect x="2449.2" y="2169.5" width="34.5" height="12" fill="#000" />
<rect x="2449.2" y="1610.5" width="34.5" height="571" fill="none" stroke="#000" stroke-width="1.8" />
<line x1="2483.7" y1="1621.6" x2="2494.2" y2="1621.6" stroke="#000" stroke-width="2" />
<text font-size="40" transform="translate(2503.5 1636.4) scale(1 1.035)" >1.82E4</text>
<line x1="2483.7" y1="1713" x2="2494.2" y2="1713" stroke="#000" stroke-width="2" />
<text font-size="40" transform="translate(2503.5 1727.8) scale(1 1.035)" >1.63E4</text>
<line x1="2483.7" y1="1826.9" x2="2494.2" y2="1826.9" stroke="#000" stroke-width="2" />
<text font-size="40" transform="translate(2503.5 1841.7) scale(1 1.035)" >1.4E4</text>
<line x1="2483.7" y1="1941.3" x2="2494.2" y2="1941.3" stroke="#000" stroke-width="2" />
<text font-size="40" transform="translate(2503.5 1956.1) scale(1 1.035)" >1.17E4</text>
<line x1="2483.7" y1="2055.6" x2="2494.2" y2="2055.6" stroke="#000" stroke-width="2" />
<text font-size="40" transform="translate(2503.5 2070.4) scale(1 1.035)" >9.37E3</text>
<line x1="2483.7" y1="2169.1" x2="2494.2" y2="2169.1" stroke="#000" stroke-width="2" />
<text font-size="40" transform="translate(2503.5 2183.9) scale(1 1.035)" >7.05E3</text>
<text font-size="46.5" font-weight="bold" fill="#fff" transform="translate(1844.5 1657) scale(1 1.035)" >UiO-66-<tspan font-style="italic">L</tspan><tspan dy="12" font-size="26">3</tspan><tspan dy="-12">&#8203;</tspan></text>
<text font-size="46.5" font-weight="bold" fill="#fff" transform="translate(1844.5 1705) scale(1 1.035)" >N 1s</text>
<text font-size="46" transform="translate(2122 1824) scale(1 1.035)" >-NH-/NH<tspan dy="13" font-size="26">2</tspan><tspan dy="-13">&#8203;</tspan></text>
<text font-size="46" transform="translate(2059.5 1951) scale(1 1.035)" >-N<tspan dy="-20" font-size="22">+</tspan><tspan dy="20">&#8203;</tspan>-</text>
<text font-size="75" transform="translate(1803 1603.7) scale(1 1.04)" >i</text>
</svg>
</body></html>
